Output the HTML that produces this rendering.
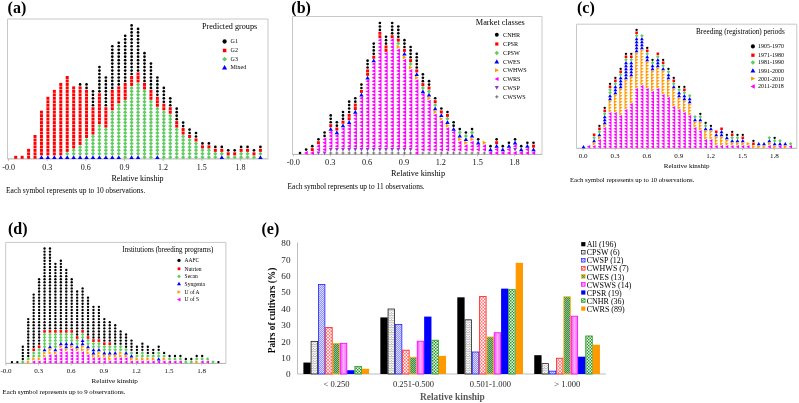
<!DOCTYPE html>
<html><head><meta charset="utf-8"><title>Relative kinship</title>
<style>html,body{margin:0;padding:0;background:#fff;} svg{display:block;will-change:transform;} text{font-family:"Liberation Serif", serif;}</style>
</head><body>
<svg width="799" height="403" viewBox="0 0 799 403" font-family='"Liberation Serif", serif'><rect width="799" height="403" fill="#fff"/><text x="7.6" y="13" font-size="16" text-anchor="start" font-weight="bold" fill="#000" >(a)</text><text x="291.3" y="13" font-size="16" text-anchor="start" font-weight="bold" fill="#000" >(b)</text><text x="577" y="13.2" font-size="16" text-anchor="start" font-weight="bold" fill="#000" >(c)</text><text x="8" y="234" font-size="16" text-anchor="start" font-weight="bold" fill="#000" >(d)</text><text x="261.5" y="234" font-size="16" text-anchor="start" font-weight="bold" fill="#000" >(e)</text><path d="M7.5 158.9V19H268V158.9" fill="none" stroke="#c8c8c8" stroke-width="1"/><path d="M7.5 158.9H268" fill="none" stroke="#b0b0b0" stroke-width="1"/><path d="M8.56 158.9v2" stroke="#b0b0b0" stroke-width="0.8"/><text x="8.56" y="170" font-size="8" text-anchor="middle" font-weight="normal" fill="#111" >-0.0</text><path d="M47.20 158.9v2" stroke="#b0b0b0" stroke-width="0.8"/><text x="47.20" y="170" font-size="8" text-anchor="middle" font-weight="normal" fill="#111" >0.3</text><path d="M85.84 158.9v2" stroke="#b0b0b0" stroke-width="0.8"/><text x="85.84" y="170" font-size="8" text-anchor="middle" font-weight="normal" fill="#111" >0.6</text><path d="M124.48 158.9v2" stroke="#b0b0b0" stroke-width="0.8"/><text x="124.48" y="170" font-size="8" text-anchor="middle" font-weight="normal" fill="#111" >0.9</text><path d="M163.12 158.9v2" stroke="#b0b0b0" stroke-width="0.8"/><text x="163.12" y="170" font-size="8" text-anchor="middle" font-weight="normal" fill="#111" >1.2</text><path d="M201.76 158.9v2" stroke="#b0b0b0" stroke-width="0.8"/><text x="201.76" y="170" font-size="8" text-anchor="middle" font-weight="normal" fill="#111" >1.5</text><path d="M240.40 158.9v2" stroke="#b0b0b0" stroke-width="0.8"/><text x="240.40" y="170" font-size="8" text-anchor="middle" font-weight="normal" fill="#111" >1.8</text><text x="137.5" y="181" font-size="8" text-anchor="middle" font-weight="normal" fill="#000" >Relative kinship</text><text x="6" y="193" font-size="7.5" text-anchor="start" font-weight="normal" fill="#000" >Each symbol represents up to 10 observations.</text><text x="229.6" y="29.3" font-size="8.2" text-anchor="middle" font-weight="normal" fill="#000" >Predicted groups</text><circle cx="224.60" cy="41.50" r="2.15" fill="#000000"/><text x="230.6" y="43.48" font-size="6" text-anchor="start" font-weight="normal" fill="#000" >G1</text><rect x="222.85" y="48.75" width="3.50" height="3.50" fill="#ff0000"/><text x="230.6" y="52.48" font-size="6" text-anchor="start" font-weight="normal" fill="#000" >G2</text><path d="M224.60 56.84L227.04 59.20L224.60 61.56L222.16 59.20Z" fill="#5fcc5f"/><text x="230.6" y="61.18" font-size="6" text-anchor="start" font-weight="normal" fill="#000" >G3</text><path d="M224.60 64.88L227.20 69.44L222.00 69.44Z" fill="#0000ff"/><text x="230.6" y="69.38000000000001" font-size="6" text-anchor="start" font-weight="normal" fill="#000" >Mixed</text><rect x="14.21" y="155.81" width="2.98" height="2.98" fill="#ff0000"/><rect x="20.65" y="155.81" width="2.98" height="2.98" fill="#ff0000"/><rect x="27.09" y="155.81" width="2.98" height="2.98" fill="#ff0000"/><rect x="27.09" y="152.34" width="2.98" height="2.98" fill="#ff0000"/><rect x="27.09" y="148.87" width="2.98" height="2.98" fill="#ff0000"/><rect x="33.53" y="155.81" width="2.98" height="2.98" fill="#ff0000"/><rect x="33.53" y="152.34" width="2.98" height="2.98" fill="#ff0000"/><rect x="33.53" y="148.87" width="2.98" height="2.98" fill="#ff0000"/><rect x="33.53" y="145.40" width="2.98" height="2.98" fill="#ff0000"/><rect x="33.53" y="141.93" width="2.98" height="2.98" fill="#ff0000"/><rect x="33.53" y="138.46" width="2.98" height="2.98" fill="#ff0000"/><rect x="33.53" y="134.99" width="2.98" height="2.98" fill="#ff0000"/><path d="M41.46 155.15L43.68 159.04L39.24 159.04Z" fill="#0000ff"/><rect x="39.97" y="152.34" width="2.98" height="2.98" fill="#ff0000"/><rect x="39.97" y="148.87" width="2.98" height="2.98" fill="#ff0000"/><rect x="39.97" y="145.40" width="2.98" height="2.98" fill="#ff0000"/><rect x="39.97" y="141.93" width="2.98" height="2.98" fill="#ff0000"/><rect x="39.97" y="138.46" width="2.98" height="2.98" fill="#ff0000"/><rect x="39.97" y="134.99" width="2.98" height="2.98" fill="#ff0000"/><rect x="39.97" y="131.52" width="2.98" height="2.98" fill="#ff0000"/><rect x="39.97" y="128.05" width="2.98" height="2.98" fill="#ff0000"/><rect x="39.97" y="124.58" width="2.98" height="2.98" fill="#ff0000"/><rect x="39.97" y="121.11" width="2.98" height="2.98" fill="#ff0000"/><rect x="39.97" y="117.64" width="2.98" height="2.98" fill="#ff0000"/><rect x="39.97" y="114.17" width="2.98" height="2.98" fill="#ff0000"/><rect x="39.97" y="110.70" width="2.98" height="2.98" fill="#ff0000"/><path d="M47.90 155.15L50.12 159.04L45.68 159.04Z" fill="#0000ff"/><rect x="46.41" y="152.34" width="2.98" height="2.98" fill="#ff0000"/><rect x="46.41" y="148.87" width="2.98" height="2.98" fill="#ff0000"/><rect x="46.41" y="145.40" width="2.98" height="2.98" fill="#ff0000"/><rect x="46.41" y="141.93" width="2.98" height="2.98" fill="#ff0000"/><rect x="46.41" y="138.46" width="2.98" height="2.98" fill="#ff0000"/><rect x="46.41" y="134.99" width="2.98" height="2.98" fill="#ff0000"/><rect x="46.41" y="131.52" width="2.98" height="2.98" fill="#ff0000"/><rect x="46.41" y="128.05" width="2.98" height="2.98" fill="#ff0000"/><rect x="46.41" y="124.58" width="2.98" height="2.98" fill="#ff0000"/><rect x="46.41" y="121.11" width="2.98" height="2.98" fill="#ff0000"/><rect x="46.41" y="117.64" width="2.98" height="2.98" fill="#ff0000"/><rect x="46.41" y="114.17" width="2.98" height="2.98" fill="#ff0000"/><rect x="46.41" y="110.70" width="2.98" height="2.98" fill="#ff0000"/><rect x="46.41" y="107.23" width="2.98" height="2.98" fill="#ff0000"/><rect x="46.41" y="103.76" width="2.98" height="2.98" fill="#ff0000"/><rect x="46.41" y="100.29" width="2.98" height="2.98" fill="#ff0000"/><rect x="46.41" y="96.82" width="2.98" height="2.98" fill="#ff0000"/><path d="M54.34 155.15L56.56 159.04L52.12 159.04Z" fill="#0000ff"/><rect x="52.85" y="152.34" width="2.98" height="2.98" fill="#ff0000"/><rect x="52.85" y="148.87" width="2.98" height="2.98" fill="#ff0000"/><rect x="52.85" y="145.40" width="2.98" height="2.98" fill="#ff0000"/><rect x="52.85" y="141.93" width="2.98" height="2.98" fill="#ff0000"/><rect x="52.85" y="138.46" width="2.98" height="2.98" fill="#ff0000"/><rect x="52.85" y="134.99" width="2.98" height="2.98" fill="#ff0000"/><rect x="52.85" y="131.52" width="2.98" height="2.98" fill="#ff0000"/><rect x="52.85" y="128.05" width="2.98" height="2.98" fill="#ff0000"/><rect x="52.85" y="124.58" width="2.98" height="2.98" fill="#ff0000"/><rect x="52.85" y="121.11" width="2.98" height="2.98" fill="#ff0000"/><rect x="52.85" y="117.64" width="2.98" height="2.98" fill="#ff0000"/><rect x="52.85" y="114.17" width="2.98" height="2.98" fill="#ff0000"/><rect x="52.85" y="110.70" width="2.98" height="2.98" fill="#ff0000"/><rect x="52.85" y="107.23" width="2.98" height="2.98" fill="#ff0000"/><rect x="52.85" y="103.76" width="2.98" height="2.98" fill="#ff0000"/><rect x="52.85" y="100.29" width="2.98" height="2.98" fill="#ff0000"/><rect x="52.85" y="96.82" width="2.98" height="2.98" fill="#ff0000"/><rect x="52.85" y="93.35" width="2.98" height="2.98" fill="#ff0000"/><rect x="52.85" y="89.88" width="2.98" height="2.98" fill="#ff0000"/><path d="M60.78 155.15L63.00 159.04L58.56 159.04Z" fill="#0000ff"/><rect x="59.29" y="152.34" width="2.98" height="2.98" fill="#ff0000"/><rect x="59.29" y="148.87" width="2.98" height="2.98" fill="#ff0000"/><rect x="59.29" y="145.40" width="2.98" height="2.98" fill="#ff0000"/><rect x="59.29" y="141.93" width="2.98" height="2.98" fill="#ff0000"/><rect x="59.29" y="138.46" width="2.98" height="2.98" fill="#ff0000"/><rect x="59.29" y="134.99" width="2.98" height="2.98" fill="#ff0000"/><rect x="59.29" y="131.52" width="2.98" height="2.98" fill="#ff0000"/><rect x="59.29" y="128.05" width="2.98" height="2.98" fill="#ff0000"/><rect x="59.29" y="124.58" width="2.98" height="2.98" fill="#ff0000"/><rect x="59.29" y="121.11" width="2.98" height="2.98" fill="#ff0000"/><rect x="59.29" y="117.64" width="2.98" height="2.98" fill="#ff0000"/><rect x="59.29" y="114.17" width="2.98" height="2.98" fill="#ff0000"/><rect x="59.29" y="110.70" width="2.98" height="2.98" fill="#ff0000"/><rect x="59.29" y="107.23" width="2.98" height="2.98" fill="#ff0000"/><rect x="59.29" y="103.76" width="2.98" height="2.98" fill="#ff0000"/><rect x="59.29" y="100.29" width="2.98" height="2.98" fill="#ff0000"/><rect x="59.29" y="96.82" width="2.98" height="2.98" fill="#ff0000"/><rect x="59.29" y="93.35" width="2.98" height="2.98" fill="#ff0000"/><rect x="59.29" y="89.88" width="2.98" height="2.98" fill="#ff0000"/><rect x="59.29" y="86.41" width="2.98" height="2.98" fill="#ff0000"/><rect x="59.29" y="82.94" width="2.98" height="2.98" fill="#ff0000"/><path d="M67.22 155.15L69.44 159.04L65.00 159.04Z" fill="#0000ff"/><path d="M67.22 151.82L69.30 153.83L67.22 155.84L65.14 153.83Z" fill="#5fcc5f"/><rect x="65.73" y="148.87" width="2.98" height="2.98" fill="#ff0000"/><rect x="65.73" y="145.40" width="2.98" height="2.98" fill="#ff0000"/><rect x="65.73" y="141.93" width="2.98" height="2.98" fill="#ff0000"/><rect x="65.73" y="138.46" width="2.98" height="2.98" fill="#ff0000"/><rect x="65.73" y="134.99" width="2.98" height="2.98" fill="#ff0000"/><rect x="65.73" y="131.52" width="2.98" height="2.98" fill="#ff0000"/><rect x="65.73" y="128.05" width="2.98" height="2.98" fill="#ff0000"/><rect x="65.73" y="124.58" width="2.98" height="2.98" fill="#ff0000"/><rect x="65.73" y="121.11" width="2.98" height="2.98" fill="#ff0000"/><rect x="65.73" y="117.64" width="2.98" height="2.98" fill="#ff0000"/><rect x="65.73" y="114.17" width="2.98" height="2.98" fill="#ff0000"/><rect x="65.73" y="110.70" width="2.98" height="2.98" fill="#ff0000"/><rect x="65.73" y="107.23" width="2.98" height="2.98" fill="#ff0000"/><rect x="65.73" y="103.76" width="2.98" height="2.98" fill="#ff0000"/><rect x="65.73" y="100.29" width="2.98" height="2.98" fill="#ff0000"/><rect x="65.73" y="96.82" width="2.98" height="2.98" fill="#ff0000"/><rect x="65.73" y="93.35" width="2.98" height="2.98" fill="#ff0000"/><rect x="65.73" y="89.88" width="2.98" height="2.98" fill="#ff0000"/><rect x="65.73" y="86.41" width="2.98" height="2.98" fill="#ff0000"/><rect x="65.73" y="82.94" width="2.98" height="2.98" fill="#ff0000"/><rect x="65.73" y="79.47" width="2.98" height="2.98" fill="#ff0000"/><rect x="65.73" y="76.00" width="2.98" height="2.98" fill="#ff0000"/><path d="M73.66 155.15L75.88 159.04L71.44 159.04Z" fill="#0000ff"/><path d="M73.66 151.82L75.74 153.83L73.66 155.84L71.58 153.83Z" fill="#5fcc5f"/><path d="M73.66 148.35L75.74 150.36L73.66 152.37L71.58 150.36Z" fill="#5fcc5f"/><rect x="72.17" y="145.40" width="2.98" height="2.98" fill="#ff0000"/><rect x="72.17" y="141.93" width="2.98" height="2.98" fill="#ff0000"/><rect x="72.17" y="138.46" width="2.98" height="2.98" fill="#ff0000"/><rect x="72.17" y="134.99" width="2.98" height="2.98" fill="#ff0000"/><rect x="72.17" y="131.52" width="2.98" height="2.98" fill="#ff0000"/><rect x="72.17" y="128.05" width="2.98" height="2.98" fill="#ff0000"/><rect x="72.17" y="124.58" width="2.98" height="2.98" fill="#ff0000"/><rect x="72.17" y="121.11" width="2.98" height="2.98" fill="#ff0000"/><rect x="72.17" y="117.64" width="2.98" height="2.98" fill="#ff0000"/><rect x="72.17" y="114.17" width="2.98" height="2.98" fill="#ff0000"/><rect x="72.17" y="110.70" width="2.98" height="2.98" fill="#ff0000"/><rect x="72.17" y="107.23" width="2.98" height="2.98" fill="#ff0000"/><rect x="72.17" y="103.76" width="2.98" height="2.98" fill="#ff0000"/><rect x="72.17" y="100.29" width="2.98" height="2.98" fill="#ff0000"/><rect x="72.17" y="96.82" width="2.98" height="2.98" fill="#ff0000"/><rect x="72.17" y="93.35" width="2.98" height="2.98" fill="#ff0000"/><rect x="72.17" y="89.88" width="2.98" height="2.98" fill="#ff0000"/><rect x="72.17" y="86.41" width="2.98" height="2.98" fill="#ff0000"/><path d="M80.10 155.15L82.32 159.04L77.88 159.04Z" fill="#0000ff"/><path d="M80.10 151.82L82.18 153.83L80.10 155.84L78.02 153.83Z" fill="#5fcc5f"/><path d="M80.10 148.35L82.18 150.36L80.10 152.37L78.02 150.36Z" fill="#5fcc5f"/><path d="M80.10 144.88L82.18 146.89L80.10 148.90L78.02 146.89Z" fill="#5fcc5f"/><rect x="78.61" y="141.93" width="2.98" height="2.98" fill="#ff0000"/><rect x="78.61" y="138.46" width="2.98" height="2.98" fill="#ff0000"/><rect x="78.61" y="134.99" width="2.98" height="2.98" fill="#ff0000"/><rect x="78.61" y="131.52" width="2.98" height="2.98" fill="#ff0000"/><rect x="78.61" y="128.05" width="2.98" height="2.98" fill="#ff0000"/><rect x="78.61" y="124.58" width="2.98" height="2.98" fill="#ff0000"/><rect x="78.61" y="121.11" width="2.98" height="2.98" fill="#ff0000"/><rect x="78.61" y="117.64" width="2.98" height="2.98" fill="#ff0000"/><rect x="78.61" y="114.17" width="2.98" height="2.98" fill="#ff0000"/><rect x="78.61" y="110.70" width="2.98" height="2.98" fill="#ff0000"/><rect x="78.61" y="107.23" width="2.98" height="2.98" fill="#ff0000"/><rect x="78.61" y="103.76" width="2.98" height="2.98" fill="#ff0000"/><rect x="78.61" y="100.29" width="2.98" height="2.98" fill="#ff0000"/><rect x="78.61" y="96.82" width="2.98" height="2.98" fill="#ff0000"/><rect x="78.61" y="93.35" width="2.98" height="2.98" fill="#ff0000"/><rect x="78.61" y="89.88" width="2.98" height="2.98" fill="#ff0000"/><rect x="78.61" y="86.41" width="2.98" height="2.98" fill="#ff0000"/><circle cx="80.10" cy="84.43" r="1.35" fill="#000000"/><path d="M86.54 155.15L88.76 159.04L84.32 159.04Z" fill="#0000ff"/><path d="M86.54 151.82L88.62 153.83L86.54 155.84L84.46 153.83Z" fill="#5fcc5f"/><path d="M86.54 148.35L88.62 150.36L86.54 152.37L84.46 150.36Z" fill="#5fcc5f"/><path d="M86.54 144.88L88.62 146.89L86.54 148.90L84.46 146.89Z" fill="#5fcc5f"/><path d="M86.54 141.41L88.62 143.42L86.54 145.43L84.46 143.42Z" fill="#5fcc5f"/><path d="M86.54 137.94L88.62 139.95L86.54 141.96L84.46 139.95Z" fill="#5fcc5f"/><rect x="85.05" y="134.99" width="2.98" height="2.98" fill="#ff0000"/><rect x="85.05" y="131.52" width="2.98" height="2.98" fill="#ff0000"/><rect x="85.05" y="128.05" width="2.98" height="2.98" fill="#ff0000"/><rect x="85.05" y="124.58" width="2.98" height="2.98" fill="#ff0000"/><rect x="85.05" y="121.11" width="2.98" height="2.98" fill="#ff0000"/><rect x="85.05" y="117.64" width="2.98" height="2.98" fill="#ff0000"/><rect x="85.05" y="114.17" width="2.98" height="2.98" fill="#ff0000"/><rect x="85.05" y="110.70" width="2.98" height="2.98" fill="#ff0000"/><rect x="85.05" y="107.23" width="2.98" height="2.98" fill="#ff0000"/><rect x="85.05" y="103.76" width="2.98" height="2.98" fill="#ff0000"/><rect x="85.05" y="100.29" width="2.98" height="2.98" fill="#ff0000"/><rect x="85.05" y="96.82" width="2.98" height="2.98" fill="#ff0000"/><rect x="85.05" y="93.35" width="2.98" height="2.98" fill="#ff0000"/><rect x="85.05" y="89.88" width="2.98" height="2.98" fill="#ff0000"/><circle cx="86.54" cy="87.90" r="1.35" fill="#000000"/><circle cx="86.54" cy="84.43" r="1.35" fill="#000000"/><path d="M92.98 155.15L95.20 159.04L90.76 159.04Z" fill="#0000ff"/><path d="M92.98 151.82L95.06 153.83L92.98 155.84L90.90 153.83Z" fill="#5fcc5f"/><path d="M92.98 148.35L95.06 150.36L92.98 152.37L90.90 150.36Z" fill="#5fcc5f"/><path d="M92.98 144.88L95.06 146.89L92.98 148.90L90.90 146.89Z" fill="#5fcc5f"/><path d="M92.98 141.41L95.06 143.42L92.98 145.43L90.90 143.42Z" fill="#5fcc5f"/><path d="M92.98 137.94L95.06 139.95L92.98 141.96L90.90 139.95Z" fill="#5fcc5f"/><path d="M92.98 134.47L95.06 136.48L92.98 138.49L90.90 136.48Z" fill="#5fcc5f"/><rect x="91.49" y="131.52" width="2.98" height="2.98" fill="#ff0000"/><rect x="91.49" y="128.05" width="2.98" height="2.98" fill="#ff0000"/><rect x="91.49" y="124.58" width="2.98" height="2.98" fill="#ff0000"/><rect x="91.49" y="121.11" width="2.98" height="2.98" fill="#ff0000"/><rect x="91.49" y="117.64" width="2.98" height="2.98" fill="#ff0000"/><rect x="91.49" y="114.17" width="2.98" height="2.98" fill="#ff0000"/><rect x="91.49" y="110.70" width="2.98" height="2.98" fill="#ff0000"/><rect x="91.49" y="107.23" width="2.98" height="2.98" fill="#ff0000"/><circle cx="92.98" cy="105.25" r="1.35" fill="#000000"/><circle cx="92.98" cy="101.78" r="1.35" fill="#000000"/><circle cx="92.98" cy="98.31" r="1.35" fill="#000000"/><circle cx="92.98" cy="94.84" r="1.35" fill="#000000"/><circle cx="92.98" cy="91.37" r="1.35" fill="#000000"/><path d="M99.42 155.15L101.64 159.04L97.20 159.04Z" fill="#0000ff"/><path d="M99.42 151.82L101.50 153.83L99.42 155.84L97.34 153.83Z" fill="#5fcc5f"/><path d="M99.42 148.35L101.50 150.36L99.42 152.37L97.34 150.36Z" fill="#5fcc5f"/><path d="M99.42 144.88L101.50 146.89L99.42 148.90L97.34 146.89Z" fill="#5fcc5f"/><path d="M99.42 141.41L101.50 143.42L99.42 145.43L97.34 143.42Z" fill="#5fcc5f"/><path d="M99.42 137.94L101.50 139.95L99.42 141.96L97.34 139.95Z" fill="#5fcc5f"/><path d="M99.42 134.47L101.50 136.48L99.42 138.49L97.34 136.48Z" fill="#5fcc5f"/><path d="M99.42 131.00L101.50 133.01L99.42 135.02L97.34 133.01Z" fill="#5fcc5f"/><path d="M99.42 127.53L101.50 129.54L99.42 131.55L97.34 129.54Z" fill="#5fcc5f"/><path d="M99.42 124.06L101.50 126.07L99.42 128.08L97.34 126.07Z" fill="#5fcc5f"/><rect x="97.93" y="121.11" width="2.98" height="2.98" fill="#ff0000"/><rect x="97.93" y="117.64" width="2.98" height="2.98" fill="#ff0000"/><rect x="97.93" y="114.17" width="2.98" height="2.98" fill="#ff0000"/><rect x="97.93" y="110.70" width="2.98" height="2.98" fill="#ff0000"/><rect x="97.93" y="107.23" width="2.98" height="2.98" fill="#ff0000"/><rect x="97.93" y="103.76" width="2.98" height="2.98" fill="#ff0000"/><rect x="97.93" y="100.29" width="2.98" height="2.98" fill="#ff0000"/><rect x="97.93" y="96.82" width="2.98" height="2.98" fill="#ff0000"/><rect x="97.93" y="93.35" width="2.98" height="2.98" fill="#ff0000"/><circle cx="99.42" cy="91.37" r="1.35" fill="#000000"/><circle cx="99.42" cy="87.90" r="1.35" fill="#000000"/><circle cx="99.42" cy="84.43" r="1.35" fill="#000000"/><circle cx="99.42" cy="80.96" r="1.35" fill="#000000"/><circle cx="99.42" cy="77.49" r="1.35" fill="#000000"/><circle cx="99.42" cy="74.02" r="1.35" fill="#000000"/><circle cx="99.42" cy="70.55" r="1.35" fill="#000000"/><circle cx="99.42" cy="67.08" r="1.35" fill="#000000"/><path d="M105.86 155.15L108.08 159.04L103.64 159.04Z" fill="#0000ff"/><path d="M105.86 151.82L107.94 153.83L105.86 155.84L103.78 153.83Z" fill="#5fcc5f"/><path d="M105.86 148.35L107.94 150.36L105.86 152.37L103.78 150.36Z" fill="#5fcc5f"/><path d="M105.86 144.88L107.94 146.89L105.86 148.90L103.78 146.89Z" fill="#5fcc5f"/><path d="M105.86 141.41L107.94 143.42L105.86 145.43L103.78 143.42Z" fill="#5fcc5f"/><path d="M105.86 137.94L107.94 139.95L105.86 141.96L103.78 139.95Z" fill="#5fcc5f"/><path d="M105.86 134.47L107.94 136.48L105.86 138.49L103.78 136.48Z" fill="#5fcc5f"/><path d="M105.86 131.00L107.94 133.01L105.86 135.02L103.78 133.01Z" fill="#5fcc5f"/><path d="M105.86 127.53L107.94 129.54L105.86 131.55L103.78 129.54Z" fill="#5fcc5f"/><rect x="104.37" y="124.58" width="2.98" height="2.98" fill="#ff0000"/><rect x="104.37" y="121.11" width="2.98" height="2.98" fill="#ff0000"/><rect x="104.37" y="117.64" width="2.98" height="2.98" fill="#ff0000"/><rect x="104.37" y="114.17" width="2.98" height="2.98" fill="#ff0000"/><rect x="104.37" y="110.70" width="2.98" height="2.98" fill="#ff0000"/><rect x="104.37" y="107.23" width="2.98" height="2.98" fill="#ff0000"/><circle cx="105.86" cy="105.25" r="1.35" fill="#000000"/><circle cx="105.86" cy="101.78" r="1.35" fill="#000000"/><circle cx="105.86" cy="98.31" r="1.35" fill="#000000"/><circle cx="105.86" cy="94.84" r="1.35" fill="#000000"/><circle cx="105.86" cy="91.37" r="1.35" fill="#000000"/><circle cx="105.86" cy="87.90" r="1.35" fill="#000000"/><circle cx="105.86" cy="84.43" r="1.35" fill="#000000"/><circle cx="105.86" cy="80.96" r="1.35" fill="#000000"/><circle cx="105.86" cy="77.49" r="1.35" fill="#000000"/><path d="M112.30 155.15L114.52 159.04L110.08 159.04Z" fill="#0000ff"/><path d="M112.30 151.82L114.38 153.83L112.30 155.84L110.22 153.83Z" fill="#5fcc5f"/><path d="M112.30 148.35L114.38 150.36L112.30 152.37L110.22 150.36Z" fill="#5fcc5f"/><path d="M112.30 144.88L114.38 146.89L112.30 148.90L110.22 146.89Z" fill="#5fcc5f"/><path d="M112.30 141.41L114.38 143.42L112.30 145.43L110.22 143.42Z" fill="#5fcc5f"/><path d="M112.30 137.94L114.38 139.95L112.30 141.96L110.22 139.95Z" fill="#5fcc5f"/><path d="M112.30 134.47L114.38 136.48L112.30 138.49L110.22 136.48Z" fill="#5fcc5f"/><path d="M112.30 131.00L114.38 133.01L112.30 135.02L110.22 133.01Z" fill="#5fcc5f"/><path d="M112.30 127.53L114.38 129.54L112.30 131.55L110.22 129.54Z" fill="#5fcc5f"/><path d="M112.30 124.06L114.38 126.07L112.30 128.08L110.22 126.07Z" fill="#5fcc5f"/><path d="M112.30 120.59L114.38 122.60L112.30 124.61L110.22 122.60Z" fill="#5fcc5f"/><path d="M112.30 117.12L114.38 119.13L112.30 121.14L110.22 119.13Z" fill="#5fcc5f"/><path d="M112.30 113.65L114.38 115.66L112.30 117.67L110.22 115.66Z" fill="#5fcc5f"/><path d="M112.30 110.18L114.38 112.19L112.30 114.20L110.22 112.19Z" fill="#5fcc5f"/><rect x="110.81" y="107.23" width="2.98" height="2.98" fill="#ff0000"/><rect x="110.81" y="103.76" width="2.98" height="2.98" fill="#ff0000"/><rect x="110.81" y="100.29" width="2.98" height="2.98" fill="#ff0000"/><rect x="110.81" y="96.82" width="2.98" height="2.98" fill="#ff0000"/><rect x="110.81" y="93.35" width="2.98" height="2.98" fill="#ff0000"/><rect x="110.81" y="89.88" width="2.98" height="2.98" fill="#ff0000"/><circle cx="112.30" cy="87.90" r="1.35" fill="#000000"/><circle cx="112.30" cy="84.43" r="1.35" fill="#000000"/><circle cx="112.30" cy="80.96" r="1.35" fill="#000000"/><circle cx="112.30" cy="77.49" r="1.35" fill="#000000"/><circle cx="112.30" cy="74.02" r="1.35" fill="#000000"/><circle cx="112.30" cy="70.55" r="1.35" fill="#000000"/><circle cx="112.30" cy="67.08" r="1.35" fill="#000000"/><circle cx="112.30" cy="63.61" r="1.35" fill="#000000"/><circle cx="112.30" cy="60.14" r="1.35" fill="#000000"/><circle cx="112.30" cy="56.67" r="1.35" fill="#000000"/><circle cx="112.30" cy="53.20" r="1.35" fill="#000000"/><circle cx="112.30" cy="49.73" r="1.35" fill="#000000"/><circle cx="112.30" cy="46.26" r="1.35" fill="#000000"/><path d="M118.74 155.15L120.96 159.04L116.52 159.04Z" fill="#0000ff"/><path d="M118.74 151.82L120.82 153.83L118.74 155.84L116.66 153.83Z" fill="#5fcc5f"/><path d="M118.74 148.35L120.82 150.36L118.74 152.37L116.66 150.36Z" fill="#5fcc5f"/><path d="M118.74 144.88L120.82 146.89L118.74 148.90L116.66 146.89Z" fill="#5fcc5f"/><path d="M118.74 141.41L120.82 143.42L118.74 145.43L116.66 143.42Z" fill="#5fcc5f"/><path d="M118.74 137.94L120.82 139.95L118.74 141.96L116.66 139.95Z" fill="#5fcc5f"/><path d="M118.74 134.47L120.82 136.48L118.74 138.49L116.66 136.48Z" fill="#5fcc5f"/><path d="M118.74 131.00L120.82 133.01L118.74 135.02L116.66 133.01Z" fill="#5fcc5f"/><path d="M118.74 127.53L120.82 129.54L118.74 131.55L116.66 129.54Z" fill="#5fcc5f"/><path d="M118.74 124.06L120.82 126.07L118.74 128.08L116.66 126.07Z" fill="#5fcc5f"/><path d="M118.74 120.59L120.82 122.60L118.74 124.61L116.66 122.60Z" fill="#5fcc5f"/><path d="M118.74 117.12L120.82 119.13L118.74 121.14L116.66 119.13Z" fill="#5fcc5f"/><path d="M118.74 113.65L120.82 115.66L118.74 117.67L116.66 115.66Z" fill="#5fcc5f"/><path d="M118.74 110.18L120.82 112.19L118.74 114.20L116.66 112.19Z" fill="#5fcc5f"/><path d="M118.74 106.71L120.82 108.72L118.74 110.73L116.66 108.72Z" fill="#5fcc5f"/><path d="M118.74 103.24L120.82 105.25L118.74 107.26L116.66 105.25Z" fill="#5fcc5f"/><rect x="117.25" y="100.29" width="2.98" height="2.98" fill="#ff0000"/><rect x="117.25" y="96.82" width="2.98" height="2.98" fill="#ff0000"/><rect x="117.25" y="93.35" width="2.98" height="2.98" fill="#ff0000"/><rect x="117.25" y="89.88" width="2.98" height="2.98" fill="#ff0000"/><rect x="117.25" y="86.41" width="2.98" height="2.98" fill="#ff0000"/><circle cx="118.74" cy="84.43" r="1.35" fill="#000000"/><circle cx="118.74" cy="80.96" r="1.35" fill="#000000"/><circle cx="118.74" cy="77.49" r="1.35" fill="#000000"/><circle cx="118.74" cy="74.02" r="1.35" fill="#000000"/><circle cx="118.74" cy="70.55" r="1.35" fill="#000000"/><circle cx="118.74" cy="67.08" r="1.35" fill="#000000"/><circle cx="118.74" cy="63.61" r="1.35" fill="#000000"/><circle cx="118.74" cy="60.14" r="1.35" fill="#000000"/><circle cx="118.74" cy="56.67" r="1.35" fill="#000000"/><circle cx="118.74" cy="53.20" r="1.35" fill="#000000"/><circle cx="118.74" cy="49.73" r="1.35" fill="#000000"/><circle cx="118.74" cy="46.26" r="1.35" fill="#000000"/><circle cx="118.74" cy="42.79" r="1.35" fill="#000000"/><path d="M125.18 155.29L127.26 157.30L125.18 159.31L123.10 157.30Z" fill="#5fcc5f"/><path d="M125.18 151.82L127.26 153.83L125.18 155.84L123.10 153.83Z" fill="#5fcc5f"/><path d="M125.18 148.35L127.26 150.36L125.18 152.37L123.10 150.36Z" fill="#5fcc5f"/><path d="M125.18 144.88L127.26 146.89L125.18 148.90L123.10 146.89Z" fill="#5fcc5f"/><path d="M125.18 141.41L127.26 143.42L125.18 145.43L123.10 143.42Z" fill="#5fcc5f"/><path d="M125.18 137.94L127.26 139.95L125.18 141.96L123.10 139.95Z" fill="#5fcc5f"/><path d="M125.18 134.47L127.26 136.48L125.18 138.49L123.10 136.48Z" fill="#5fcc5f"/><path d="M125.18 131.00L127.26 133.01L125.18 135.02L123.10 133.01Z" fill="#5fcc5f"/><path d="M125.18 127.53L127.26 129.54L125.18 131.55L123.10 129.54Z" fill="#5fcc5f"/><path d="M125.18 124.06L127.26 126.07L125.18 128.08L123.10 126.07Z" fill="#5fcc5f"/><path d="M125.18 120.59L127.26 122.60L125.18 124.61L123.10 122.60Z" fill="#5fcc5f"/><path d="M125.18 117.12L127.26 119.13L125.18 121.14L123.10 119.13Z" fill="#5fcc5f"/><path d="M125.18 113.65L127.26 115.66L125.18 117.67L123.10 115.66Z" fill="#5fcc5f"/><path d="M125.18 110.18L127.26 112.19L125.18 114.20L123.10 112.19Z" fill="#5fcc5f"/><path d="M125.18 106.71L127.26 108.72L125.18 110.73L123.10 108.72Z" fill="#5fcc5f"/><path d="M125.18 103.24L127.26 105.25L125.18 107.26L123.10 105.25Z" fill="#5fcc5f"/><path d="M125.18 99.77L127.26 101.78L125.18 103.79L123.10 101.78Z" fill="#5fcc5f"/><rect x="123.69" y="96.82" width="2.98" height="2.98" fill="#ff0000"/><rect x="123.69" y="93.35" width="2.98" height="2.98" fill="#ff0000"/><rect x="123.69" y="89.88" width="2.98" height="2.98" fill="#ff0000"/><rect x="123.69" y="86.41" width="2.98" height="2.98" fill="#ff0000"/><rect x="123.69" y="82.94" width="2.98" height="2.98" fill="#ff0000"/><circle cx="125.18" cy="80.96" r="1.35" fill="#000000"/><circle cx="125.18" cy="77.49" r="1.35" fill="#000000"/><circle cx="125.18" cy="74.02" r="1.35" fill="#000000"/><circle cx="125.18" cy="70.55" r="1.35" fill="#000000"/><circle cx="125.18" cy="67.08" r="1.35" fill="#000000"/><circle cx="125.18" cy="63.61" r="1.35" fill="#000000"/><circle cx="125.18" cy="60.14" r="1.35" fill="#000000"/><circle cx="125.18" cy="56.67" r="1.35" fill="#000000"/><circle cx="125.18" cy="53.20" r="1.35" fill="#000000"/><circle cx="125.18" cy="49.73" r="1.35" fill="#000000"/><circle cx="125.18" cy="46.26" r="1.35" fill="#000000"/><circle cx="125.18" cy="42.79" r="1.35" fill="#000000"/><circle cx="125.18" cy="39.32" r="1.35" fill="#000000"/><circle cx="125.18" cy="35.85" r="1.35" fill="#000000"/><path d="M131.62 155.15L133.84 159.04L129.40 159.04Z" fill="#0000ff"/><path d="M131.62 151.82L133.70 153.83L131.62 155.84L129.54 153.83Z" fill="#5fcc5f"/><path d="M131.62 148.35L133.70 150.36L131.62 152.37L129.54 150.36Z" fill="#5fcc5f"/><path d="M131.62 144.88L133.70 146.89L131.62 148.90L129.54 146.89Z" fill="#5fcc5f"/><path d="M131.62 141.41L133.70 143.42L131.62 145.43L129.54 143.42Z" fill="#5fcc5f"/><path d="M131.62 137.94L133.70 139.95L131.62 141.96L129.54 139.95Z" fill="#5fcc5f"/><path d="M131.62 134.47L133.70 136.48L131.62 138.49L129.54 136.48Z" fill="#5fcc5f"/><path d="M131.62 131.00L133.70 133.01L131.62 135.02L129.54 133.01Z" fill="#5fcc5f"/><path d="M131.62 127.53L133.70 129.54L131.62 131.55L129.54 129.54Z" fill="#5fcc5f"/><path d="M131.62 124.06L133.70 126.07L131.62 128.08L129.54 126.07Z" fill="#5fcc5f"/><path d="M131.62 120.59L133.70 122.60L131.62 124.61L129.54 122.60Z" fill="#5fcc5f"/><path d="M131.62 117.12L133.70 119.13L131.62 121.14L129.54 119.13Z" fill="#5fcc5f"/><path d="M131.62 113.65L133.70 115.66L131.62 117.67L129.54 115.66Z" fill="#5fcc5f"/><path d="M131.62 110.18L133.70 112.19L131.62 114.20L129.54 112.19Z" fill="#5fcc5f"/><path d="M131.62 106.71L133.70 108.72L131.62 110.73L129.54 108.72Z" fill="#5fcc5f"/><path d="M131.62 103.24L133.70 105.25L131.62 107.26L129.54 105.25Z" fill="#5fcc5f"/><path d="M131.62 99.77L133.70 101.78L131.62 103.79L129.54 101.78Z" fill="#5fcc5f"/><path d="M131.62 96.30L133.70 98.31L131.62 100.32L129.54 98.31Z" fill="#5fcc5f"/><path d="M131.62 92.83L133.70 94.84L131.62 96.85L129.54 94.84Z" fill="#5fcc5f"/><path d="M131.62 89.36L133.70 91.37L131.62 93.38L129.54 91.37Z" fill="#5fcc5f"/><path d="M131.62 85.89L133.70 87.90L131.62 89.91L129.54 87.90Z" fill="#5fcc5f"/><rect x="130.13" y="82.94" width="2.98" height="2.98" fill="#ff0000"/><rect x="130.13" y="79.47" width="2.98" height="2.98" fill="#ff0000"/><rect x="130.13" y="76.00" width="2.98" height="2.98" fill="#ff0000"/><circle cx="131.62" cy="74.02" r="1.35" fill="#000000"/><circle cx="131.62" cy="70.55" r="1.35" fill="#000000"/><circle cx="131.62" cy="67.08" r="1.35" fill="#000000"/><circle cx="131.62" cy="63.61" r="1.35" fill="#000000"/><circle cx="131.62" cy="60.14" r="1.35" fill="#000000"/><circle cx="131.62" cy="56.67" r="1.35" fill="#000000"/><circle cx="131.62" cy="53.20" r="1.35" fill="#000000"/><circle cx="131.62" cy="49.73" r="1.35" fill="#000000"/><circle cx="131.62" cy="46.26" r="1.35" fill="#000000"/><circle cx="131.62" cy="42.79" r="1.35" fill="#000000"/><circle cx="131.62" cy="39.32" r="1.35" fill="#000000"/><circle cx="131.62" cy="35.85" r="1.35" fill="#000000"/><circle cx="131.62" cy="32.38" r="1.35" fill="#000000"/><circle cx="131.62" cy="28.91" r="1.35" fill="#000000"/><circle cx="131.62" cy="25.44" r="1.35" fill="#000000"/><path d="M138.06 155.15L140.28 159.04L135.84 159.04Z" fill="#0000ff"/><path d="M138.06 151.82L140.14 153.83L138.06 155.84L135.98 153.83Z" fill="#5fcc5f"/><path d="M138.06 148.35L140.14 150.36L138.06 152.37L135.98 150.36Z" fill="#5fcc5f"/><path d="M138.06 144.88L140.14 146.89L138.06 148.90L135.98 146.89Z" fill="#5fcc5f"/><path d="M138.06 141.41L140.14 143.42L138.06 145.43L135.98 143.42Z" fill="#5fcc5f"/><path d="M138.06 137.94L140.14 139.95L138.06 141.96L135.98 139.95Z" fill="#5fcc5f"/><path d="M138.06 134.47L140.14 136.48L138.06 138.49L135.98 136.48Z" fill="#5fcc5f"/><path d="M138.06 131.00L140.14 133.01L138.06 135.02L135.98 133.01Z" fill="#5fcc5f"/><path d="M138.06 127.53L140.14 129.54L138.06 131.55L135.98 129.54Z" fill="#5fcc5f"/><path d="M138.06 124.06L140.14 126.07L138.06 128.08L135.98 126.07Z" fill="#5fcc5f"/><path d="M138.06 120.59L140.14 122.60L138.06 124.61L135.98 122.60Z" fill="#5fcc5f"/><path d="M138.06 117.12L140.14 119.13L138.06 121.14L135.98 119.13Z" fill="#5fcc5f"/><path d="M138.06 113.65L140.14 115.66L138.06 117.67L135.98 115.66Z" fill="#5fcc5f"/><path d="M138.06 110.18L140.14 112.19L138.06 114.20L135.98 112.19Z" fill="#5fcc5f"/><path d="M138.06 106.71L140.14 108.72L138.06 110.73L135.98 108.72Z" fill="#5fcc5f"/><path d="M138.06 103.24L140.14 105.25L138.06 107.26L135.98 105.25Z" fill="#5fcc5f"/><path d="M138.06 99.77L140.14 101.78L138.06 103.79L135.98 101.78Z" fill="#5fcc5f"/><path d="M138.06 96.30L140.14 98.31L138.06 100.32L135.98 98.31Z" fill="#5fcc5f"/><path d="M138.06 92.83L140.14 94.84L138.06 96.85L135.98 94.84Z" fill="#5fcc5f"/><path d="M138.06 89.36L140.14 91.37L138.06 93.38L135.98 91.37Z" fill="#5fcc5f"/><path d="M138.06 85.89L140.14 87.90L138.06 89.91L135.98 87.90Z" fill="#5fcc5f"/><path d="M138.06 82.42L140.14 84.43L138.06 86.44L135.98 84.43Z" fill="#5fcc5f"/><rect x="136.57" y="79.47" width="2.98" height="2.98" fill="#ff0000"/><rect x="136.57" y="76.00" width="2.98" height="2.98" fill="#ff0000"/><rect x="136.57" y="72.53" width="2.98" height="2.98" fill="#ff0000"/><circle cx="138.06" cy="70.55" r="1.35" fill="#000000"/><circle cx="138.06" cy="67.08" r="1.35" fill="#000000"/><circle cx="138.06" cy="63.61" r="1.35" fill="#000000"/><circle cx="138.06" cy="60.14" r="1.35" fill="#000000"/><circle cx="138.06" cy="56.67" r="1.35" fill="#000000"/><circle cx="138.06" cy="53.20" r="1.35" fill="#000000"/><circle cx="138.06" cy="49.73" r="1.35" fill="#000000"/><circle cx="138.06" cy="46.26" r="1.35" fill="#000000"/><circle cx="138.06" cy="42.79" r="1.35" fill="#000000"/><circle cx="138.06" cy="39.32" r="1.35" fill="#000000"/><circle cx="138.06" cy="35.85" r="1.35" fill="#000000"/><circle cx="138.06" cy="32.38" r="1.35" fill="#000000"/><circle cx="138.06" cy="28.91" r="1.35" fill="#000000"/><path d="M144.50 155.29L146.58 157.30L144.50 159.31L142.42 157.30Z" fill="#5fcc5f"/><path d="M144.50 151.82L146.58 153.83L144.50 155.84L142.42 153.83Z" fill="#5fcc5f"/><path d="M144.50 148.35L146.58 150.36L144.50 152.37L142.42 150.36Z" fill="#5fcc5f"/><path d="M144.50 144.88L146.58 146.89L144.50 148.90L142.42 146.89Z" fill="#5fcc5f"/><path d="M144.50 141.41L146.58 143.42L144.50 145.43L142.42 143.42Z" fill="#5fcc5f"/><path d="M144.50 137.94L146.58 139.95L144.50 141.96L142.42 139.95Z" fill="#5fcc5f"/><path d="M144.50 134.47L146.58 136.48L144.50 138.49L142.42 136.48Z" fill="#5fcc5f"/><path d="M144.50 131.00L146.58 133.01L144.50 135.02L142.42 133.01Z" fill="#5fcc5f"/><path d="M144.50 127.53L146.58 129.54L144.50 131.55L142.42 129.54Z" fill="#5fcc5f"/><path d="M144.50 124.06L146.58 126.07L144.50 128.08L142.42 126.07Z" fill="#5fcc5f"/><path d="M144.50 120.59L146.58 122.60L144.50 124.61L142.42 122.60Z" fill="#5fcc5f"/><path d="M144.50 117.12L146.58 119.13L144.50 121.14L142.42 119.13Z" fill="#5fcc5f"/><path d="M144.50 113.65L146.58 115.66L144.50 117.67L142.42 115.66Z" fill="#5fcc5f"/><path d="M144.50 110.18L146.58 112.19L144.50 114.20L142.42 112.19Z" fill="#5fcc5f"/><path d="M144.50 106.71L146.58 108.72L144.50 110.73L142.42 108.72Z" fill="#5fcc5f"/><path d="M144.50 103.24L146.58 105.25L144.50 107.26L142.42 105.25Z" fill="#5fcc5f"/><path d="M144.50 99.77L146.58 101.78L144.50 103.79L142.42 101.78Z" fill="#5fcc5f"/><path d="M144.50 96.30L146.58 98.31L144.50 100.32L142.42 98.31Z" fill="#5fcc5f"/><path d="M144.50 92.83L146.58 94.84L144.50 96.85L142.42 94.84Z" fill="#5fcc5f"/><path d="M144.50 89.36L146.58 91.37L144.50 93.38L142.42 91.37Z" fill="#5fcc5f"/><rect x="143.01" y="86.41" width="2.98" height="2.98" fill="#ff0000"/><rect x="143.01" y="82.94" width="2.98" height="2.98" fill="#ff0000"/><circle cx="144.50" cy="80.96" r="1.35" fill="#000000"/><circle cx="144.50" cy="77.49" r="1.35" fill="#000000"/><circle cx="144.50" cy="74.02" r="1.35" fill="#000000"/><circle cx="144.50" cy="70.55" r="1.35" fill="#000000"/><circle cx="144.50" cy="67.08" r="1.35" fill="#000000"/><circle cx="144.50" cy="63.61" r="1.35" fill="#000000"/><circle cx="144.50" cy="60.14" r="1.35" fill="#000000"/><circle cx="144.50" cy="56.67" r="1.35" fill="#000000"/><circle cx="144.50" cy="53.20" r="1.35" fill="#000000"/><path d="M150.94 155.29L153.02 157.30L150.94 159.31L148.86 157.30Z" fill="#5fcc5f"/><path d="M150.94 151.82L153.02 153.83L150.94 155.84L148.86 153.83Z" fill="#5fcc5f"/><path d="M150.94 148.35L153.02 150.36L150.94 152.37L148.86 150.36Z" fill="#5fcc5f"/><path d="M150.94 144.88L153.02 146.89L150.94 148.90L148.86 146.89Z" fill="#5fcc5f"/><path d="M150.94 141.41L153.02 143.42L150.94 145.43L148.86 143.42Z" fill="#5fcc5f"/><path d="M150.94 137.94L153.02 139.95L150.94 141.96L148.86 139.95Z" fill="#5fcc5f"/><path d="M150.94 134.47L153.02 136.48L150.94 138.49L148.86 136.48Z" fill="#5fcc5f"/><path d="M150.94 131.00L153.02 133.01L150.94 135.02L148.86 133.01Z" fill="#5fcc5f"/><path d="M150.94 127.53L153.02 129.54L150.94 131.55L148.86 129.54Z" fill="#5fcc5f"/><path d="M150.94 124.06L153.02 126.07L150.94 128.08L148.86 126.07Z" fill="#5fcc5f"/><path d="M150.94 120.59L153.02 122.60L150.94 124.61L148.86 122.60Z" fill="#5fcc5f"/><path d="M150.94 117.12L153.02 119.13L150.94 121.14L148.86 119.13Z" fill="#5fcc5f"/><path d="M150.94 113.65L153.02 115.66L150.94 117.67L148.86 115.66Z" fill="#5fcc5f"/><path d="M150.94 110.18L153.02 112.19L150.94 114.20L148.86 112.19Z" fill="#5fcc5f"/><path d="M150.94 106.71L153.02 108.72L150.94 110.73L148.86 108.72Z" fill="#5fcc5f"/><path d="M150.94 103.24L153.02 105.25L150.94 107.26L148.86 105.25Z" fill="#5fcc5f"/><path d="M150.94 99.77L153.02 101.78L150.94 103.79L148.86 101.78Z" fill="#5fcc5f"/><rect x="149.45" y="96.82" width="2.98" height="2.98" fill="#ff0000"/><rect x="149.45" y="93.35" width="2.98" height="2.98" fill="#ff0000"/><rect x="149.45" y="89.88" width="2.98" height="2.98" fill="#ff0000"/><circle cx="150.94" cy="87.90" r="1.35" fill="#000000"/><circle cx="150.94" cy="84.43" r="1.35" fill="#000000"/><circle cx="150.94" cy="80.96" r="1.35" fill="#000000"/><circle cx="150.94" cy="77.49" r="1.35" fill="#000000"/><circle cx="150.94" cy="74.02" r="1.35" fill="#000000"/><circle cx="150.94" cy="70.55" r="1.35" fill="#000000"/><circle cx="150.94" cy="67.08" r="1.35" fill="#000000"/><circle cx="150.94" cy="63.61" r="1.35" fill="#000000"/><path d="M157.38 155.15L159.60 159.04L155.16 159.04Z" fill="#0000ff"/><path d="M157.38 151.82L159.46 153.83L157.38 155.84L155.30 153.83Z" fill="#5fcc5f"/><path d="M157.38 148.35L159.46 150.36L157.38 152.37L155.30 150.36Z" fill="#5fcc5f"/><path d="M157.38 144.88L159.46 146.89L157.38 148.90L155.30 146.89Z" fill="#5fcc5f"/><path d="M157.38 141.41L159.46 143.42L157.38 145.43L155.30 143.42Z" fill="#5fcc5f"/><path d="M157.38 137.94L159.46 139.95L157.38 141.96L155.30 139.95Z" fill="#5fcc5f"/><path d="M157.38 134.47L159.46 136.48L157.38 138.49L155.30 136.48Z" fill="#5fcc5f"/><path d="M157.38 131.00L159.46 133.01L157.38 135.02L155.30 133.01Z" fill="#5fcc5f"/><path d="M157.38 127.53L159.46 129.54L157.38 131.55L155.30 129.54Z" fill="#5fcc5f"/><path d="M157.38 124.06L159.46 126.07L157.38 128.08L155.30 126.07Z" fill="#5fcc5f"/><path d="M157.38 120.59L159.46 122.60L157.38 124.61L155.30 122.60Z" fill="#5fcc5f"/><path d="M157.38 117.12L159.46 119.13L157.38 121.14L155.30 119.13Z" fill="#5fcc5f"/><path d="M157.38 113.65L159.46 115.66L157.38 117.67L155.30 115.66Z" fill="#5fcc5f"/><path d="M157.38 110.18L159.46 112.19L157.38 114.20L155.30 112.19Z" fill="#5fcc5f"/><path d="M157.38 106.71L159.46 108.72L157.38 110.73L155.30 108.72Z" fill="#5fcc5f"/><rect x="155.89" y="103.76" width="2.98" height="2.98" fill="#ff0000"/><rect x="155.89" y="100.29" width="2.98" height="2.98" fill="#ff0000"/><rect x="155.89" y="96.82" width="2.98" height="2.98" fill="#ff0000"/><circle cx="157.38" cy="94.84" r="1.35" fill="#000000"/><circle cx="157.38" cy="91.37" r="1.35" fill="#000000"/><circle cx="157.38" cy="87.90" r="1.35" fill="#000000"/><circle cx="157.38" cy="84.43" r="1.35" fill="#000000"/><circle cx="157.38" cy="80.96" r="1.35" fill="#000000"/><circle cx="157.38" cy="77.49" r="1.35" fill="#000000"/><path d="M163.82 155.29L165.90 157.30L163.82 159.31L161.74 157.30Z" fill="#5fcc5f"/><path d="M163.82 151.82L165.90 153.83L163.82 155.84L161.74 153.83Z" fill="#5fcc5f"/><path d="M163.82 148.35L165.90 150.36L163.82 152.37L161.74 150.36Z" fill="#5fcc5f"/><path d="M163.82 144.88L165.90 146.89L163.82 148.90L161.74 146.89Z" fill="#5fcc5f"/><path d="M163.82 141.41L165.90 143.42L163.82 145.43L161.74 143.42Z" fill="#5fcc5f"/><path d="M163.82 137.94L165.90 139.95L163.82 141.96L161.74 139.95Z" fill="#5fcc5f"/><path d="M163.82 134.47L165.90 136.48L163.82 138.49L161.74 136.48Z" fill="#5fcc5f"/><path d="M163.82 131.00L165.90 133.01L163.82 135.02L161.74 133.01Z" fill="#5fcc5f"/><path d="M163.82 127.53L165.90 129.54L163.82 131.55L161.74 129.54Z" fill="#5fcc5f"/><path d="M163.82 124.06L165.90 126.07L163.82 128.08L161.74 126.07Z" fill="#5fcc5f"/><path d="M163.82 120.59L165.90 122.60L163.82 124.61L161.74 122.60Z" fill="#5fcc5f"/><path d="M163.82 117.12L165.90 119.13L163.82 121.14L161.74 119.13Z" fill="#5fcc5f"/><path d="M163.82 113.65L165.90 115.66L163.82 117.67L161.74 115.66Z" fill="#5fcc5f"/><path d="M163.82 110.18L165.90 112.19L163.82 114.20L161.74 112.19Z" fill="#5fcc5f"/><rect x="162.33" y="107.23" width="2.98" height="2.98" fill="#ff0000"/><rect x="162.33" y="103.76" width="2.98" height="2.98" fill="#ff0000"/><circle cx="163.82" cy="101.78" r="1.35" fill="#000000"/><circle cx="163.82" cy="98.31" r="1.35" fill="#000000"/><circle cx="163.82" cy="94.84" r="1.35" fill="#000000"/><circle cx="163.82" cy="91.37" r="1.35" fill="#000000"/><circle cx="163.82" cy="87.90" r="1.35" fill="#000000"/><path d="M170.26 155.29L172.34 157.30L170.26 159.31L168.18 157.30Z" fill="#5fcc5f"/><path d="M170.26 151.82L172.34 153.83L170.26 155.84L168.18 153.83Z" fill="#5fcc5f"/><path d="M170.26 148.35L172.34 150.36L170.26 152.37L168.18 150.36Z" fill="#5fcc5f"/><path d="M170.26 144.88L172.34 146.89L170.26 148.90L168.18 146.89Z" fill="#5fcc5f"/><path d="M170.26 141.41L172.34 143.42L170.26 145.43L168.18 143.42Z" fill="#5fcc5f"/><path d="M170.26 137.94L172.34 139.95L170.26 141.96L168.18 139.95Z" fill="#5fcc5f"/><path d="M170.26 134.47L172.34 136.48L170.26 138.49L168.18 136.48Z" fill="#5fcc5f"/><path d="M170.26 131.00L172.34 133.01L170.26 135.02L168.18 133.01Z" fill="#5fcc5f"/><path d="M170.26 127.53L172.34 129.54L170.26 131.55L168.18 129.54Z" fill="#5fcc5f"/><path d="M170.26 124.06L172.34 126.07L170.26 128.08L168.18 126.07Z" fill="#5fcc5f"/><path d="M170.26 120.59L172.34 122.60L170.26 124.61L168.18 122.60Z" fill="#5fcc5f"/><path d="M170.26 117.12L172.34 119.13L170.26 121.14L168.18 119.13Z" fill="#5fcc5f"/><path d="M170.26 113.65L172.34 115.66L170.26 117.67L168.18 115.66Z" fill="#5fcc5f"/><rect x="168.77" y="110.70" width="2.98" height="2.98" fill="#ff0000"/><rect x="168.77" y="107.23" width="2.98" height="2.98" fill="#ff0000"/><circle cx="170.26" cy="105.25" r="1.35" fill="#000000"/><circle cx="170.26" cy="101.78" r="1.35" fill="#000000"/><circle cx="170.26" cy="98.31" r="1.35" fill="#000000"/><path d="M176.70 155.29L178.78 157.30L176.70 159.31L174.62 157.30Z" fill="#5fcc5f"/><path d="M176.70 151.82L178.78 153.83L176.70 155.84L174.62 153.83Z" fill="#5fcc5f"/><path d="M176.70 148.35L178.78 150.36L176.70 152.37L174.62 150.36Z" fill="#5fcc5f"/><path d="M176.70 144.88L178.78 146.89L176.70 148.90L174.62 146.89Z" fill="#5fcc5f"/><path d="M176.70 141.41L178.78 143.42L176.70 145.43L174.62 143.42Z" fill="#5fcc5f"/><path d="M176.70 137.94L178.78 139.95L176.70 141.96L174.62 139.95Z" fill="#5fcc5f"/><path d="M176.70 134.47L178.78 136.48L176.70 138.49L174.62 136.48Z" fill="#5fcc5f"/><path d="M176.70 131.00L178.78 133.01L176.70 135.02L174.62 133.01Z" fill="#5fcc5f"/><path d="M176.70 127.53L178.78 129.54L176.70 131.55L174.62 129.54Z" fill="#5fcc5f"/><rect x="175.21" y="124.58" width="2.98" height="2.98" fill="#ff0000"/><rect x="175.21" y="121.11" width="2.98" height="2.98" fill="#ff0000"/><circle cx="176.70" cy="119.13" r="1.35" fill="#000000"/><circle cx="176.70" cy="115.66" r="1.35" fill="#000000"/><circle cx="176.70" cy="112.19" r="1.35" fill="#000000"/><circle cx="176.70" cy="108.72" r="1.35" fill="#000000"/><path d="M183.14 155.29L185.22 157.30L183.14 159.31L181.06 157.30Z" fill="#5fcc5f"/><path d="M183.14 151.82L185.22 153.83L183.14 155.84L181.06 153.83Z" fill="#5fcc5f"/><path d="M183.14 148.35L185.22 150.36L183.14 152.37L181.06 150.36Z" fill="#5fcc5f"/><path d="M183.14 144.88L185.22 146.89L183.14 148.90L181.06 146.89Z" fill="#5fcc5f"/><path d="M183.14 141.41L185.22 143.42L183.14 145.43L181.06 143.42Z" fill="#5fcc5f"/><path d="M183.14 137.94L185.22 139.95L183.14 141.96L181.06 139.95Z" fill="#5fcc5f"/><path d="M183.14 134.47L185.22 136.48L183.14 138.49L181.06 136.48Z" fill="#5fcc5f"/><rect x="181.65" y="131.52" width="2.98" height="2.98" fill="#ff0000"/><rect x="181.65" y="128.05" width="2.98" height="2.98" fill="#ff0000"/><circle cx="183.14" cy="126.07" r="1.35" fill="#000000"/><circle cx="183.14" cy="122.60" r="1.35" fill="#000000"/><path d="M189.58 155.29L191.66 157.30L189.58 159.31L187.50 157.30Z" fill="#5fcc5f"/><path d="M189.58 151.82L191.66 153.83L189.58 155.84L187.50 153.83Z" fill="#5fcc5f"/><path d="M189.58 148.35L191.66 150.36L189.58 152.37L187.50 150.36Z" fill="#5fcc5f"/><path d="M189.58 144.88L191.66 146.89L189.58 148.90L187.50 146.89Z" fill="#5fcc5f"/><path d="M189.58 141.41L191.66 143.42L189.58 145.43L187.50 143.42Z" fill="#5fcc5f"/><path d="M189.58 137.94L191.66 139.95L189.58 141.96L187.50 139.95Z" fill="#5fcc5f"/><rect x="188.09" y="134.99" width="2.98" height="2.98" fill="#ff0000"/><circle cx="189.58" cy="133.01" r="1.35" fill="#000000"/><circle cx="189.58" cy="129.54" r="1.35" fill="#000000"/><path d="M196.02 155.29L198.10 157.30L196.02 159.31L193.94 157.30Z" fill="#5fcc5f"/><path d="M196.02 151.82L198.10 153.83L196.02 155.84L193.94 153.83Z" fill="#5fcc5f"/><path d="M196.02 148.35L198.10 150.36L196.02 152.37L193.94 150.36Z" fill="#5fcc5f"/><path d="M196.02 144.88L198.10 146.89L196.02 148.90L193.94 146.89Z" fill="#5fcc5f"/><path d="M196.02 141.41L198.10 143.42L196.02 145.43L193.94 143.42Z" fill="#5fcc5f"/><rect x="194.53" y="138.46" width="2.98" height="2.98" fill="#ff0000"/><circle cx="196.02" cy="136.48" r="1.35" fill="#000000"/><circle cx="196.02" cy="133.01" r="1.35" fill="#000000"/><path d="M202.46 155.29L204.54 157.30L202.46 159.31L200.38 157.30Z" fill="#5fcc5f"/><path d="M202.46 151.82L204.54 153.83L202.46 155.84L200.38 153.83Z" fill="#5fcc5f"/><path d="M202.46 148.35L204.54 150.36L202.46 152.37L200.38 150.36Z" fill="#5fcc5f"/><rect x="200.97" y="145.40" width="2.98" height="2.98" fill="#ff0000"/><circle cx="202.46" cy="143.42" r="1.35" fill="#000000"/><path d="M208.90 155.29L210.98 157.30L208.90 159.31L206.82 157.30Z" fill="#5fcc5f"/><path d="M208.90 151.82L210.98 153.83L208.90 155.84L206.82 153.83Z" fill="#5fcc5f"/><path d="M208.90 148.35L210.98 150.36L208.90 152.37L206.82 150.36Z" fill="#5fcc5f"/><rect x="207.41" y="145.40" width="2.98" height="2.98" fill="#ff0000"/><circle cx="208.90" cy="143.42" r="1.35" fill="#000000"/><path d="M215.34 155.29L217.42 157.30L215.34 159.31L213.26 157.30Z" fill="#5fcc5f"/><path d="M215.34 151.82L217.42 153.83L215.34 155.84L213.26 153.83Z" fill="#5fcc5f"/><rect x="213.85" y="148.87" width="2.98" height="2.98" fill="#ff0000"/><circle cx="215.34" cy="146.89" r="1.35" fill="#000000"/><path d="M221.78 155.15L224.00 159.04L219.56 159.04Z" fill="#0000ff"/><path d="M221.78 151.82L223.86 153.83L221.78 155.84L219.70 153.83Z" fill="#5fcc5f"/><rect x="220.29" y="148.87" width="2.98" height="2.98" fill="#ff0000"/><circle cx="221.78" cy="146.89" r="1.35" fill="#000000"/><path d="M228.22 155.29L230.30 157.30L228.22 159.31L226.14 157.30Z" fill="#5fcc5f"/><rect x="226.73" y="152.34" width="2.98" height="2.98" fill="#ff0000"/><circle cx="228.22" cy="150.36" r="1.35" fill="#000000"/><path d="M234.66 155.29L236.74 157.30L234.66 159.31L232.58 157.30Z" fill="#5fcc5f"/><rect x="233.17" y="152.34" width="2.98" height="2.98" fill="#ff0000"/><circle cx="234.66" cy="150.36" r="1.35" fill="#000000"/><path d="M241.10 155.29L243.18 157.30L241.10 159.31L239.02 157.30Z" fill="#5fcc5f"/><path d="M241.10 151.82L243.18 153.83L241.10 155.84L239.02 153.83Z" fill="#5fcc5f"/><rect x="239.61" y="148.87" width="2.98" height="2.98" fill="#ff0000"/><circle cx="241.10" cy="146.89" r="1.35" fill="#000000"/><path d="M247.54 155.29L249.62 157.30L247.54 159.31L245.46 157.30Z" fill="#5fcc5f"/><path d="M247.54 151.82L249.62 153.83L247.54 155.84L245.46 153.83Z" fill="#5fcc5f"/><rect x="246.05" y="148.87" width="2.98" height="2.98" fill="#ff0000"/><circle cx="247.54" cy="146.89" r="1.35" fill="#000000"/><path d="M253.98 155.29L256.06 157.30L253.98 159.31L251.90 157.30Z" fill="#5fcc5f"/><rect x="252.49" y="152.34" width="2.98" height="2.98" fill="#ff0000"/><circle cx="253.98" cy="150.36" r="1.35" fill="#000000"/><path d="M260.42 155.15L262.64 159.04L258.20 159.04Z" fill="#0000ff"/><path d="M260.42 151.82L262.50 153.83L260.42 155.84L258.34 153.83Z" fill="#5fcc5f"/><rect x="258.93" y="148.87" width="2.98" height="2.98" fill="#ff0000"/><circle cx="260.42" cy="146.89" r="1.35" fill="#000000"/><path d="M292.5 154.4V16.5H542V154.4" fill="none" stroke="#c8c8c8" stroke-width="1"/><path d="M292.5 154.4H542" fill="none" stroke="#b0b0b0" stroke-width="1"/><path d="M293.35 154.4v2" stroke="#b0b0b0" stroke-width="0.8"/><text x="293.35" y="165.3" font-size="8.3" text-anchor="middle" font-weight="normal" fill="#111" >-0.0</text><path d="M330.22 154.4v2" stroke="#b0b0b0" stroke-width="0.8"/><text x="330.22" y="165.3" font-size="8.3" text-anchor="middle" font-weight="normal" fill="#111" >0.3</text><path d="M367.09 154.4v2" stroke="#b0b0b0" stroke-width="0.8"/><text x="367.09" y="165.3" font-size="8.3" text-anchor="middle" font-weight="normal" fill="#111" >0.6</text><path d="M403.96 154.4v2" stroke="#b0b0b0" stroke-width="0.8"/><text x="403.96" y="165.3" font-size="8.3" text-anchor="middle" font-weight="normal" fill="#111" >0.9</text><path d="M440.83 154.4v2" stroke="#b0b0b0" stroke-width="0.8"/><text x="440.83" y="165.3" font-size="8.3" text-anchor="middle" font-weight="normal" fill="#111" >1.2</text><path d="M477.70 154.4v2" stroke="#b0b0b0" stroke-width="0.8"/><text x="477.70" y="165.3" font-size="8.3" text-anchor="middle" font-weight="normal" fill="#111" >1.5</text><path d="M514.57 154.4v2" stroke="#b0b0b0" stroke-width="0.8"/><text x="514.57" y="165.3" font-size="8.3" text-anchor="middle" font-weight="normal" fill="#111" >1.8</text><text x="418" y="176.4" font-size="8.3" text-anchor="middle" font-weight="normal" fill="#000" >Relative kinship</text><text x="287.6" y="189.3" font-size="7.4" text-anchor="start" font-weight="normal" fill="#000" >Each symbol represents up to 11 observations.</text><text x="500.3" y="25.2" font-size="8.3" text-anchor="middle" font-weight="normal" fill="#000" >Market classes</text><circle cx="496.80" cy="34.80" r="1.95" fill="#000000"/><text x="503" y="36.846" font-size="6.2" text-anchor="start" font-weight="normal" fill="#000" >CNHR</text><rect x="495.21" y="42.41" width="3.18" height="3.18" fill="#ff0000"/><text x="503" y="46.046" font-size="6.2" text-anchor="start" font-weight="normal" fill="#000" >CPSR</text><path d="M496.80 50.85L499.02 53.00L496.80 55.15L494.58 53.00Z" fill="#5fcc5f"/><text x="503" y="55.046" font-size="6.2" text-anchor="start" font-weight="normal" fill="#000" >CPSW</text><path d="M496.80 59.31L499.17 63.45L494.43 63.45Z" fill="#0000ff"/><text x="503" y="63.646" font-size="6.2" text-anchor="start" font-weight="normal" fill="#000" >CWES</text><path d="M499.09 70.30L495.02 68.23L495.02 72.37Z" fill="#ff9900"/><text x="503" y="72.346" font-size="6.2" text-anchor="start" font-weight="normal" fill="#000" >CWHWS</text><path d="M494.51 79.00L498.58 76.93L498.58 81.07Z" fill="#ff00ff"/><text x="503" y="81.046" font-size="6.2" text-anchor="start" font-weight="normal" fill="#000" >CWRS</text><path d="M496.80 89.85L498.84 86.03L494.76 86.03Z" fill="#9933cc"/><text x="503" y="89.74600000000001" font-size="6.2" text-anchor="start" font-weight="normal" fill="#000" >CWSP</text><path d="M495.13 96.80H498.47M496.80 95.13V98.47" stroke="#222222" stroke-width="0.59" fill="none"/><text x="503" y="98.846" font-size="6.2" text-anchor="start" font-weight="normal" fill="#000" >CWSWS</text><circle cx="300.00" cy="153.00" r="1.33" fill="#000000"/><path d="M304.02 153.00L307.78 151.08L307.78 154.92Z" fill="#ff00ff"/><circle cx="306.14" cy="149.58" r="1.33" fill="#000000"/><path d="M310.16 153.00L313.93 151.08L313.93 154.92Z" fill="#ff00ff"/><rect x="310.81" y="148.11" width="2.94" height="2.94" fill="#ff0000"/><circle cx="312.29" cy="146.16" r="1.33" fill="#000000"/><path d="M318.43 154.98L320.31 151.46L316.55 151.46Z" fill="#9933cc"/><path d="M316.31 149.58L320.07 147.66L320.07 151.50Z" fill="#ff00ff"/><path d="M316.31 146.16L320.07 144.24L320.07 148.08Z" fill="#ff00ff"/><rect x="316.96" y="141.27" width="2.94" height="2.94" fill="#ff0000"/><circle cx="318.43" cy="139.32" r="1.33" fill="#000000"/><path d="M324.58 154.98L326.46 151.46L322.69 151.46Z" fill="#9933cc"/><path d="M322.45 149.58L326.22 147.66L326.22 151.50Z" fill="#ff00ff"/><path d="M322.45 146.16L326.22 144.24L326.22 148.08Z" fill="#ff00ff"/><path d="M322.45 142.74L326.22 140.82L326.22 144.66Z" fill="#ff00ff"/><path d="M322.45 139.32L326.22 137.40L326.22 141.24Z" fill="#ff00ff"/><circle cx="324.58" cy="135.90" r="1.33" fill="#000000"/><circle cx="324.58" cy="132.48" r="1.33" fill="#000000"/><path d="M329.18 153.00H332.26M330.72 151.46V154.54" stroke="#222222" stroke-width="0.55" fill="none"/><path d="M330.72 151.56L332.60 148.04L328.84 148.04Z" fill="#9933cc"/><path d="M328.60 146.16L332.36 144.24L332.36 148.08Z" fill="#ff00ff"/><path d="M328.60 142.74L332.36 140.82L332.36 144.66Z" fill="#ff00ff"/><path d="M328.60 139.32L332.36 137.40L332.36 141.24Z" fill="#ff00ff"/><path d="M328.60 135.90L332.36 133.98L332.36 137.82Z" fill="#ff00ff"/><path d="M328.60 132.48L332.36 130.56L332.36 134.40Z" fill="#ff00ff"/><path d="M330.72 126.94L332.91 130.77L328.53 130.77Z" fill="#0000ff"/><rect x="329.25" y="124.17" width="2.94" height="2.94" fill="#ff0000"/><circle cx="330.72" cy="122.22" r="1.33" fill="#000000"/><circle cx="330.72" cy="118.80" r="1.33" fill="#000000"/><circle cx="330.72" cy="115.38" r="1.33" fill="#000000"/><path d="M335.33 153.00H338.40M336.87 151.46V154.54" stroke="#222222" stroke-width="0.55" fill="none"/><path d="M336.87 151.56L338.75 148.04L334.98 148.04Z" fill="#9933cc"/><path d="M334.74 146.16L338.51 144.24L338.51 148.08Z" fill="#ff00ff"/><path d="M334.74 142.74L338.51 140.82L338.51 144.66Z" fill="#ff00ff"/><path d="M334.74 139.32L338.51 137.40L338.51 141.24Z" fill="#ff00ff"/><path d="M334.74 135.90L338.51 133.98L338.51 137.82Z" fill="#ff00ff"/><path d="M336.87 130.36L339.05 134.19L334.68 134.19Z" fill="#0000ff"/><rect x="335.39" y="127.59" width="2.94" height="2.94" fill="#ff0000"/><circle cx="336.87" cy="125.64" r="1.33" fill="#000000"/><circle cx="336.87" cy="122.22" r="1.33" fill="#000000"/><path d="M341.47 153.00H344.55M343.01 151.46V154.54" stroke="#222222" stroke-width="0.55" fill="none"/><path d="M343.01 151.56L344.89 148.04L341.13 148.04Z" fill="#9933cc"/><path d="M340.89 146.16L344.65 144.24L344.65 148.08Z" fill="#ff00ff"/><path d="M340.89 142.74L344.65 140.82L344.65 144.66Z" fill="#ff00ff"/><path d="M340.89 139.32L344.65 137.40L344.65 141.24Z" fill="#ff00ff"/><path d="M340.89 135.90L344.65 133.98L344.65 137.82Z" fill="#ff00ff"/><path d="M340.89 132.48L344.65 130.56L344.65 134.40Z" fill="#ff00ff"/><path d="M340.89 129.06L344.65 127.14L344.65 130.98Z" fill="#ff00ff"/><path d="M343.01 123.52L345.20 127.35L340.82 127.35Z" fill="#0000ff"/><rect x="341.54" y="120.75" width="2.94" height="2.94" fill="#ff0000"/><circle cx="343.01" cy="118.80" r="1.33" fill="#000000"/><circle cx="343.01" cy="115.38" r="1.33" fill="#000000"/><circle cx="343.01" cy="111.96" r="1.33" fill="#000000"/><path d="M347.62 153.00H350.69M349.16 151.46V154.54" stroke="#222222" stroke-width="0.55" fill="none"/><path d="M349.16 151.56L351.04 148.04L347.27 148.04Z" fill="#9933cc"/><path d="M347.03 146.16L350.80 144.24L350.80 148.08Z" fill="#ff00ff"/><path d="M347.03 142.74L350.80 140.82L350.80 144.66Z" fill="#ff00ff"/><path d="M347.03 139.32L350.80 137.40L350.80 141.24Z" fill="#ff00ff"/><path d="M347.03 135.90L350.80 133.98L350.80 137.82Z" fill="#ff00ff"/><path d="M347.03 132.48L350.80 130.56L350.80 134.40Z" fill="#ff00ff"/><path d="M347.03 129.06L350.80 127.14L350.80 130.98Z" fill="#ff00ff"/><path d="M347.03 125.64L350.80 123.72L350.80 127.56Z" fill="#ff00ff"/><path d="M349.16 120.10L351.34 123.93L346.97 123.93Z" fill="#0000ff"/><rect x="347.68" y="117.33" width="2.94" height="2.94" fill="#ff0000"/><rect x="347.68" y="113.91" width="2.94" height="2.94" fill="#ff0000"/><circle cx="349.16" cy="111.96" r="1.33" fill="#000000"/><circle cx="349.16" cy="108.54" r="1.33" fill="#000000"/><circle cx="349.16" cy="105.12" r="1.33" fill="#000000"/><circle cx="349.16" cy="101.70" r="1.33" fill="#000000"/><path d="M353.76 153.00H356.84M355.30 151.46V154.54" stroke="#222222" stroke-width="0.55" fill="none"/><path d="M355.30 151.56L357.18 148.04L353.42 148.04Z" fill="#9933cc"/><path d="M353.18 146.16L356.94 144.24L356.94 148.08Z" fill="#ff00ff"/><path d="M353.18 142.74L356.94 140.82L356.94 144.66Z" fill="#ff00ff"/><path d="M353.18 139.32L356.94 137.40L356.94 141.24Z" fill="#ff00ff"/><path d="M353.18 135.90L356.94 133.98L356.94 137.82Z" fill="#ff00ff"/><path d="M353.18 132.48L356.94 130.56L356.94 134.40Z" fill="#ff00ff"/><path d="M353.18 129.06L356.94 127.14L356.94 130.98Z" fill="#ff00ff"/><path d="M353.18 125.64L356.94 123.72L356.94 127.56Z" fill="#ff00ff"/><path d="M353.18 122.22L356.94 120.30L356.94 124.14Z" fill="#ff00ff"/><path d="M353.18 118.80L356.94 116.88L356.94 120.72Z" fill="#ff00ff"/><path d="M353.18 115.38L356.94 113.46L356.94 117.30Z" fill="#ff00ff"/><path d="M355.30 109.84L357.49 113.67L353.11 113.67Z" fill="#0000ff"/><rect x="353.83" y="107.07" width="2.94" height="2.94" fill="#ff0000"/><rect x="353.83" y="103.65" width="2.94" height="2.94" fill="#ff0000"/><circle cx="355.30" cy="101.70" r="1.33" fill="#000000"/><circle cx="355.30" cy="98.28" r="1.33" fill="#000000"/><path d="M359.91 153.00H362.98M361.45 151.46V154.54" stroke="#222222" stroke-width="0.55" fill="none"/><path d="M361.45 151.56L363.33 148.04L359.56 148.04Z" fill="#9933cc"/><path d="M359.32 146.16L363.09 144.24L363.09 148.08Z" fill="#ff00ff"/><path d="M359.32 142.74L363.09 140.82L363.09 144.66Z" fill="#ff00ff"/><path d="M359.32 139.32L363.09 137.40L363.09 141.24Z" fill="#ff00ff"/><path d="M359.32 135.90L363.09 133.98L363.09 137.82Z" fill="#ff00ff"/><path d="M359.32 132.48L363.09 130.56L363.09 134.40Z" fill="#ff00ff"/><path d="M359.32 129.06L363.09 127.14L363.09 130.98Z" fill="#ff00ff"/><path d="M359.32 125.64L363.09 123.72L363.09 127.56Z" fill="#ff00ff"/><path d="M359.32 122.22L363.09 120.30L363.09 124.14Z" fill="#ff00ff"/><path d="M359.32 118.80L363.09 116.88L363.09 120.72Z" fill="#ff00ff"/><path d="M359.32 115.38L363.09 113.46L363.09 117.30Z" fill="#ff00ff"/><path d="M359.32 111.96L363.09 110.04L363.09 113.88Z" fill="#ff00ff"/><path d="M359.32 108.54L363.09 106.62L363.09 110.46Z" fill="#ff00ff"/><path d="M359.32 105.12L363.09 103.20L363.09 107.04Z" fill="#ff00ff"/><path d="M359.32 101.70L363.09 99.78L363.09 103.62Z" fill="#ff00ff"/><path d="M359.32 98.28L363.09 96.36L363.09 100.20Z" fill="#ff00ff"/><path d="M361.45 92.74L363.63 96.57L359.26 96.57Z" fill="#0000ff"/><rect x="359.97" y="89.97" width="2.94" height="2.94" fill="#ff0000"/><circle cx="361.45" cy="88.02" r="1.33" fill="#000000"/><circle cx="361.45" cy="84.60" r="1.33" fill="#000000"/><path d="M366.05 153.00H369.13M367.59 151.46V154.54" stroke="#222222" stroke-width="0.55" fill="none"/><path d="M367.59 151.56L369.47 148.04L365.71 148.04Z" fill="#9933cc"/><path d="M365.47 146.16L369.23 144.24L369.23 148.08Z" fill="#ff00ff"/><path d="M365.47 142.74L369.23 140.82L369.23 144.66Z" fill="#ff00ff"/><path d="M365.47 139.32L369.23 137.40L369.23 141.24Z" fill="#ff00ff"/><path d="M365.47 135.90L369.23 133.98L369.23 137.82Z" fill="#ff00ff"/><path d="M365.47 132.48L369.23 130.56L369.23 134.40Z" fill="#ff00ff"/><path d="M365.47 129.06L369.23 127.14L369.23 130.98Z" fill="#ff00ff"/><path d="M365.47 125.64L369.23 123.72L369.23 127.56Z" fill="#ff00ff"/><path d="M365.47 122.22L369.23 120.30L369.23 124.14Z" fill="#ff00ff"/><path d="M365.47 118.80L369.23 116.88L369.23 120.72Z" fill="#ff00ff"/><path d="M365.47 115.38L369.23 113.46L369.23 117.30Z" fill="#ff00ff"/><path d="M365.47 111.96L369.23 110.04L369.23 113.88Z" fill="#ff00ff"/><path d="M365.47 108.54L369.23 106.62L369.23 110.46Z" fill="#ff00ff"/><path d="M365.47 105.12L369.23 103.20L369.23 107.04Z" fill="#ff00ff"/><path d="M365.47 101.70L369.23 99.78L369.23 103.62Z" fill="#ff00ff"/><path d="M365.47 98.28L369.23 96.36L369.23 100.20Z" fill="#ff00ff"/><path d="M365.47 94.86L369.23 92.94L369.23 96.78Z" fill="#ff00ff"/><path d="M365.47 91.44L369.23 89.52L369.23 93.36Z" fill="#ff00ff"/><path d="M365.47 88.02L369.23 86.10L369.23 89.94Z" fill="#ff00ff"/><path d="M365.47 84.60L369.23 82.68L369.23 86.52Z" fill="#ff00ff"/><path d="M365.47 81.18L369.23 79.26L369.23 83.10Z" fill="#ff00ff"/><path d="M367.59 75.64L369.78 79.47L365.40 79.47Z" fill="#0000ff"/><rect x="366.12" y="72.87" width="2.94" height="2.94" fill="#ff0000"/><rect x="366.12" y="69.45" width="2.94" height="2.94" fill="#ff0000"/><circle cx="367.59" cy="67.50" r="1.33" fill="#000000"/><circle cx="367.59" cy="64.08" r="1.33" fill="#000000"/><circle cx="367.59" cy="60.66" r="1.33" fill="#000000"/><path d="M372.20 153.00H375.27M373.74 151.46V154.54" stroke="#222222" stroke-width="0.55" fill="none"/><path d="M373.74 151.56L375.62 148.04L371.85 148.04Z" fill="#9933cc"/><path d="M371.61 146.16L375.38 144.24L375.38 148.08Z" fill="#ff00ff"/><path d="M371.61 142.74L375.38 140.82L375.38 144.66Z" fill="#ff00ff"/><path d="M371.61 139.32L375.38 137.40L375.38 141.24Z" fill="#ff00ff"/><path d="M371.61 135.90L375.38 133.98L375.38 137.82Z" fill="#ff00ff"/><path d="M371.61 132.48L375.38 130.56L375.38 134.40Z" fill="#ff00ff"/><path d="M371.61 129.06L375.38 127.14L375.38 130.98Z" fill="#ff00ff"/><path d="M371.61 125.64L375.38 123.72L375.38 127.56Z" fill="#ff00ff"/><path d="M371.61 122.22L375.38 120.30L375.38 124.14Z" fill="#ff00ff"/><path d="M371.61 118.80L375.38 116.88L375.38 120.72Z" fill="#ff00ff"/><path d="M371.61 115.38L375.38 113.46L375.38 117.30Z" fill="#ff00ff"/><path d="M371.61 111.96L375.38 110.04L375.38 113.88Z" fill="#ff00ff"/><path d="M371.61 108.54L375.38 106.62L375.38 110.46Z" fill="#ff00ff"/><path d="M371.61 105.12L375.38 103.20L375.38 107.04Z" fill="#ff00ff"/><path d="M371.61 101.70L375.38 99.78L375.38 103.62Z" fill="#ff00ff"/><path d="M371.61 98.28L375.38 96.36L375.38 100.20Z" fill="#ff00ff"/><path d="M371.61 94.86L375.38 92.94L375.38 96.78Z" fill="#ff00ff"/><path d="M371.61 91.44L375.38 89.52L375.38 93.36Z" fill="#ff00ff"/><path d="M371.61 88.02L375.38 86.10L375.38 89.94Z" fill="#ff00ff"/><path d="M371.61 84.60L375.38 82.68L375.38 86.52Z" fill="#ff00ff"/><path d="M371.61 81.18L375.38 79.26L375.38 83.10Z" fill="#ff00ff"/><path d="M371.61 77.76L375.38 75.84L375.38 79.68Z" fill="#ff00ff"/><path d="M371.61 74.34L375.38 72.42L375.38 76.26Z" fill="#ff00ff"/><path d="M371.61 70.92L375.38 69.00L375.38 72.84Z" fill="#ff00ff"/><path d="M371.61 67.50L375.38 65.58L375.38 69.42Z" fill="#ff00ff"/><path d="M371.61 64.08L375.38 62.16L375.38 66.00Z" fill="#ff00ff"/><path d="M373.74 58.54L375.92 62.37L371.55 62.37Z" fill="#0000ff"/><rect x="372.26" y="55.77" width="2.94" height="2.94" fill="#ff0000"/><circle cx="373.74" cy="53.82" r="1.33" fill="#000000"/><circle cx="373.74" cy="50.40" r="1.33" fill="#000000"/><circle cx="373.74" cy="46.98" r="1.33" fill="#000000"/><circle cx="373.74" cy="43.56" r="1.33" fill="#000000"/><path d="M378.34 153.00H381.42M379.88 151.46V154.54" stroke="#222222" stroke-width="0.55" fill="none"/><path d="M379.88 151.56L381.76 148.04L378.00 148.04Z" fill="#9933cc"/><path d="M377.76 146.16L381.52 144.24L381.52 148.08Z" fill="#ff00ff"/><path d="M377.76 142.74L381.52 140.82L381.52 144.66Z" fill="#ff00ff"/><path d="M377.76 139.32L381.52 137.40L381.52 141.24Z" fill="#ff00ff"/><path d="M377.76 135.90L381.52 133.98L381.52 137.82Z" fill="#ff00ff"/><path d="M377.76 132.48L381.52 130.56L381.52 134.40Z" fill="#ff00ff"/><path d="M377.76 129.06L381.52 127.14L381.52 130.98Z" fill="#ff00ff"/><path d="M377.76 125.64L381.52 123.72L381.52 127.56Z" fill="#ff00ff"/><path d="M377.76 122.22L381.52 120.30L381.52 124.14Z" fill="#ff00ff"/><path d="M377.76 118.80L381.52 116.88L381.52 120.72Z" fill="#ff00ff"/><path d="M377.76 115.38L381.52 113.46L381.52 117.30Z" fill="#ff00ff"/><path d="M377.76 111.96L381.52 110.04L381.52 113.88Z" fill="#ff00ff"/><path d="M377.76 108.54L381.52 106.62L381.52 110.46Z" fill="#ff00ff"/><path d="M377.76 105.12L381.52 103.20L381.52 107.04Z" fill="#ff00ff"/><path d="M377.76 101.70L381.52 99.78L381.52 103.62Z" fill="#ff00ff"/><path d="M377.76 98.28L381.52 96.36L381.52 100.20Z" fill="#ff00ff"/><path d="M377.76 94.86L381.52 92.94L381.52 96.78Z" fill="#ff00ff"/><path d="M377.76 91.44L381.52 89.52L381.52 93.36Z" fill="#ff00ff"/><path d="M377.76 88.02L381.52 86.10L381.52 89.94Z" fill="#ff00ff"/><path d="M377.76 84.60L381.52 82.68L381.52 86.52Z" fill="#ff00ff"/><path d="M377.76 81.18L381.52 79.26L381.52 83.10Z" fill="#ff00ff"/><path d="M377.76 77.76L381.52 75.84L381.52 79.68Z" fill="#ff00ff"/><path d="M377.76 74.34L381.52 72.42L381.52 76.26Z" fill="#ff00ff"/><path d="M377.76 70.92L381.52 69.00L381.52 72.84Z" fill="#ff00ff"/><path d="M377.76 67.50L381.52 65.58L381.52 69.42Z" fill="#ff00ff"/><path d="M377.76 64.08L381.52 62.16L381.52 66.00Z" fill="#ff00ff"/><path d="M377.76 60.66L381.52 58.74L381.52 62.58Z" fill="#ff00ff"/><path d="M377.76 57.24L381.52 55.32L381.52 59.16Z" fill="#ff00ff"/><path d="M377.76 53.82L381.52 51.90L381.52 55.74Z" fill="#ff00ff"/><path d="M377.76 50.40L381.52 48.48L381.52 52.32Z" fill="#ff00ff"/><path d="M377.76 46.98L381.52 45.06L381.52 48.90Z" fill="#ff00ff"/><path d="M377.76 43.56L381.52 41.64L381.52 45.48Z" fill="#ff00ff"/><path d="M377.76 40.14L381.52 38.22L381.52 42.06Z" fill="#ff00ff"/><rect x="378.41" y="35.25" width="2.94" height="2.94" fill="#ff0000"/><rect x="378.41" y="31.83" width="2.94" height="2.94" fill="#ff0000"/><circle cx="379.88" cy="29.88" r="1.33" fill="#000000"/><circle cx="379.88" cy="26.46" r="1.33" fill="#000000"/><circle cx="379.88" cy="23.04" r="1.33" fill="#000000"/><path d="M384.49 153.00H387.56M386.03 151.46V154.54" stroke="#222222" stroke-width="0.55" fill="none"/><path d="M386.03 151.56L387.91 148.04L384.14 148.04Z" fill="#9933cc"/><path d="M383.90 146.16L387.67 144.24L387.67 148.08Z" fill="#ff00ff"/><path d="M383.90 142.74L387.67 140.82L387.67 144.66Z" fill="#ff00ff"/><path d="M383.90 139.32L387.67 137.40L387.67 141.24Z" fill="#ff00ff"/><path d="M383.90 135.90L387.67 133.98L387.67 137.82Z" fill="#ff00ff"/><path d="M383.90 132.48L387.67 130.56L387.67 134.40Z" fill="#ff00ff"/><path d="M383.90 129.06L387.67 127.14L387.67 130.98Z" fill="#ff00ff"/><path d="M383.90 125.64L387.67 123.72L387.67 127.56Z" fill="#ff00ff"/><path d="M383.90 122.22L387.67 120.30L387.67 124.14Z" fill="#ff00ff"/><path d="M383.90 118.80L387.67 116.88L387.67 120.72Z" fill="#ff00ff"/><path d="M383.90 115.38L387.67 113.46L387.67 117.30Z" fill="#ff00ff"/><path d="M383.90 111.96L387.67 110.04L387.67 113.88Z" fill="#ff00ff"/><path d="M383.90 108.54L387.67 106.62L387.67 110.46Z" fill="#ff00ff"/><path d="M383.90 105.12L387.67 103.20L387.67 107.04Z" fill="#ff00ff"/><path d="M383.90 101.70L387.67 99.78L387.67 103.62Z" fill="#ff00ff"/><path d="M383.90 98.28L387.67 96.36L387.67 100.20Z" fill="#ff00ff"/><path d="M383.90 94.86L387.67 92.94L387.67 96.78Z" fill="#ff00ff"/><path d="M383.90 91.44L387.67 89.52L387.67 93.36Z" fill="#ff00ff"/><path d="M383.90 88.02L387.67 86.10L387.67 89.94Z" fill="#ff00ff"/><path d="M383.90 84.60L387.67 82.68L387.67 86.52Z" fill="#ff00ff"/><path d="M383.90 81.18L387.67 79.26L387.67 83.10Z" fill="#ff00ff"/><path d="M383.90 77.76L387.67 75.84L387.67 79.68Z" fill="#ff00ff"/><path d="M383.90 74.34L387.67 72.42L387.67 76.26Z" fill="#ff00ff"/><path d="M383.90 70.92L387.67 69.00L387.67 72.84Z" fill="#ff00ff"/><path d="M383.90 67.50L387.67 65.58L387.67 69.42Z" fill="#ff00ff"/><path d="M383.90 64.08L387.67 62.16L387.67 66.00Z" fill="#ff00ff"/><path d="M383.90 60.66L387.67 58.74L387.67 62.58Z" fill="#ff00ff"/><path d="M383.90 57.24L387.67 55.32L387.67 59.16Z" fill="#ff00ff"/><path d="M383.90 53.82L387.67 51.90L387.67 55.74Z" fill="#ff00ff"/><rect x="384.55" y="48.93" width="2.94" height="2.94" fill="#ff0000"/><rect x="384.55" y="45.51" width="2.94" height="2.94" fill="#ff0000"/><circle cx="386.03" cy="43.56" r="1.33" fill="#000000"/><circle cx="386.03" cy="40.14" r="1.33" fill="#000000"/><circle cx="386.03" cy="36.72" r="1.33" fill="#000000"/><path d="M390.63 153.00H393.71M392.17 151.46V154.54" stroke="#222222" stroke-width="0.55" fill="none"/><path d="M392.17 151.56L394.05 148.04L390.29 148.04Z" fill="#9933cc"/><path d="M390.05 146.16L393.81 144.24L393.81 148.08Z" fill="#ff00ff"/><path d="M390.05 142.74L393.81 140.82L393.81 144.66Z" fill="#ff00ff"/><path d="M390.05 139.32L393.81 137.40L393.81 141.24Z" fill="#ff00ff"/><path d="M390.05 135.90L393.81 133.98L393.81 137.82Z" fill="#ff00ff"/><path d="M390.05 132.48L393.81 130.56L393.81 134.40Z" fill="#ff00ff"/><path d="M390.05 129.06L393.81 127.14L393.81 130.98Z" fill="#ff00ff"/><path d="M390.05 125.64L393.81 123.72L393.81 127.56Z" fill="#ff00ff"/><path d="M390.05 122.22L393.81 120.30L393.81 124.14Z" fill="#ff00ff"/><path d="M390.05 118.80L393.81 116.88L393.81 120.72Z" fill="#ff00ff"/><path d="M390.05 115.38L393.81 113.46L393.81 117.30Z" fill="#ff00ff"/><path d="M390.05 111.96L393.81 110.04L393.81 113.88Z" fill="#ff00ff"/><path d="M390.05 108.54L393.81 106.62L393.81 110.46Z" fill="#ff00ff"/><path d="M390.05 105.12L393.81 103.20L393.81 107.04Z" fill="#ff00ff"/><path d="M390.05 101.70L393.81 99.78L393.81 103.62Z" fill="#ff00ff"/><path d="M390.05 98.28L393.81 96.36L393.81 100.20Z" fill="#ff00ff"/><path d="M390.05 94.86L393.81 92.94L393.81 96.78Z" fill="#ff00ff"/><path d="M390.05 91.44L393.81 89.52L393.81 93.36Z" fill="#ff00ff"/><path d="M390.05 88.02L393.81 86.10L393.81 89.94Z" fill="#ff00ff"/><path d="M390.05 84.60L393.81 82.68L393.81 86.52Z" fill="#ff00ff"/><path d="M390.05 81.18L393.81 79.26L393.81 83.10Z" fill="#ff00ff"/><path d="M390.05 77.76L393.81 75.84L393.81 79.68Z" fill="#ff00ff"/><path d="M390.05 74.34L393.81 72.42L393.81 76.26Z" fill="#ff00ff"/><path d="M390.05 70.92L393.81 69.00L393.81 72.84Z" fill="#ff00ff"/><path d="M390.05 67.50L393.81 65.58L393.81 69.42Z" fill="#ff00ff"/><path d="M390.05 64.08L393.81 62.16L393.81 66.00Z" fill="#ff00ff"/><path d="M390.05 60.66L393.81 58.74L393.81 62.58Z" fill="#ff00ff"/><path d="M390.05 57.24L393.81 55.32L393.81 59.16Z" fill="#ff00ff"/><path d="M390.05 53.82L393.81 51.90L393.81 55.74Z" fill="#ff00ff"/><path d="M390.05 50.40L393.81 48.48L393.81 52.32Z" fill="#ff00ff"/><path d="M390.05 46.98L393.81 45.06L393.81 48.90Z" fill="#ff00ff"/><path d="M390.05 43.56L393.81 41.64L393.81 45.48Z" fill="#ff00ff"/><path d="M390.05 40.14L393.81 38.22L393.81 42.06Z" fill="#ff00ff"/><rect x="390.70" y="35.25" width="2.94" height="2.94" fill="#ff0000"/><circle cx="392.17" cy="33.30" r="1.33" fill="#000000"/><circle cx="392.17" cy="29.88" r="1.33" fill="#000000"/><circle cx="392.17" cy="26.46" r="1.33" fill="#000000"/><circle cx="392.17" cy="23.04" r="1.33" fill="#000000"/><path d="M396.78 153.00H399.85M398.31 151.46V154.54" stroke="#222222" stroke-width="0.55" fill="none"/><path d="M398.31 151.56L400.20 148.04L396.43 148.04Z" fill="#9933cc"/><path d="M396.19 146.16L399.96 144.24L399.96 148.08Z" fill="#ff00ff"/><path d="M396.19 142.74L399.96 140.82L399.96 144.66Z" fill="#ff00ff"/><path d="M396.19 139.32L399.96 137.40L399.96 141.24Z" fill="#ff00ff"/><path d="M396.19 135.90L399.96 133.98L399.96 137.82Z" fill="#ff00ff"/><path d="M396.19 132.48L399.96 130.56L399.96 134.40Z" fill="#ff00ff"/><path d="M396.19 129.06L399.96 127.14L399.96 130.98Z" fill="#ff00ff"/><path d="M396.19 125.64L399.96 123.72L399.96 127.56Z" fill="#ff00ff"/><path d="M396.19 122.22L399.96 120.30L399.96 124.14Z" fill="#ff00ff"/><path d="M396.19 118.80L399.96 116.88L399.96 120.72Z" fill="#ff00ff"/><path d="M396.19 115.38L399.96 113.46L399.96 117.30Z" fill="#ff00ff"/><path d="M396.19 111.96L399.96 110.04L399.96 113.88Z" fill="#ff00ff"/><path d="M396.19 108.54L399.96 106.62L399.96 110.46Z" fill="#ff00ff"/><path d="M396.19 105.12L399.96 103.20L399.96 107.04Z" fill="#ff00ff"/><path d="M396.19 101.70L399.96 99.78L399.96 103.62Z" fill="#ff00ff"/><path d="M396.19 98.28L399.96 96.36L399.96 100.20Z" fill="#ff00ff"/><path d="M396.19 94.86L399.96 92.94L399.96 96.78Z" fill="#ff00ff"/><path d="M396.19 91.44L399.96 89.52L399.96 93.36Z" fill="#ff00ff"/><path d="M396.19 88.02L399.96 86.10L399.96 89.94Z" fill="#ff00ff"/><path d="M396.19 84.60L399.96 82.68L399.96 86.52Z" fill="#ff00ff"/><path d="M396.19 81.18L399.96 79.26L399.96 83.10Z" fill="#ff00ff"/><path d="M396.19 77.76L399.96 75.84L399.96 79.68Z" fill="#ff00ff"/><path d="M396.19 74.34L399.96 72.42L399.96 76.26Z" fill="#ff00ff"/><path d="M396.19 70.92L399.96 69.00L399.96 72.84Z" fill="#ff00ff"/><path d="M396.19 67.50L399.96 65.58L399.96 69.42Z" fill="#ff00ff"/><path d="M396.19 64.08L399.96 62.16L399.96 66.00Z" fill="#ff00ff"/><path d="M396.19 60.66L399.96 58.74L399.96 62.58Z" fill="#ff00ff"/><path d="M396.19 57.24L399.96 55.32L399.96 59.16Z" fill="#ff00ff"/><path d="M396.19 53.82L399.96 51.90L399.96 55.74Z" fill="#ff00ff"/><path d="M396.19 50.40L399.96 48.48L399.96 52.32Z" fill="#ff00ff"/><path d="M400.44 46.98L396.67 45.06L396.67 48.90Z" fill="#ff9900"/><path d="M398.31 41.58L400.37 43.56L398.31 45.54L396.26 43.56Z" fill="#5fcc5f"/><rect x="396.84" y="38.67" width="2.94" height="2.94" fill="#ff0000"/><circle cx="398.31" cy="36.72" r="1.33" fill="#000000"/><circle cx="398.31" cy="33.30" r="1.33" fill="#000000"/><circle cx="398.31" cy="29.88" r="1.33" fill="#000000"/><circle cx="398.31" cy="26.46" r="1.33" fill="#000000"/><path d="M402.92 153.00H406.00M404.46 151.46V154.54" stroke="#222222" stroke-width="0.55" fill="none"/><path d="M404.46 151.56L406.34 148.04L402.58 148.04Z" fill="#9933cc"/><path d="M402.34 146.16L406.10 144.24L406.10 148.08Z" fill="#ff00ff"/><path d="M402.34 142.74L406.10 140.82L406.10 144.66Z" fill="#ff00ff"/><path d="M402.34 139.32L406.10 137.40L406.10 141.24Z" fill="#ff00ff"/><path d="M402.34 135.90L406.10 133.98L406.10 137.82Z" fill="#ff00ff"/><path d="M402.34 132.48L406.10 130.56L406.10 134.40Z" fill="#ff00ff"/><path d="M402.34 129.06L406.10 127.14L406.10 130.98Z" fill="#ff00ff"/><path d="M402.34 125.64L406.10 123.72L406.10 127.56Z" fill="#ff00ff"/><path d="M402.34 122.22L406.10 120.30L406.10 124.14Z" fill="#ff00ff"/><path d="M402.34 118.80L406.10 116.88L406.10 120.72Z" fill="#ff00ff"/><path d="M402.34 115.38L406.10 113.46L406.10 117.30Z" fill="#ff00ff"/><path d="M402.34 111.96L406.10 110.04L406.10 113.88Z" fill="#ff00ff"/><path d="M402.34 108.54L406.10 106.62L406.10 110.46Z" fill="#ff00ff"/><path d="M402.34 105.12L406.10 103.20L406.10 107.04Z" fill="#ff00ff"/><path d="M402.34 101.70L406.10 99.78L406.10 103.62Z" fill="#ff00ff"/><path d="M402.34 98.28L406.10 96.36L406.10 100.20Z" fill="#ff00ff"/><path d="M402.34 94.86L406.10 92.94L406.10 96.78Z" fill="#ff00ff"/><path d="M402.34 91.44L406.10 89.52L406.10 93.36Z" fill="#ff00ff"/><path d="M402.34 88.02L406.10 86.10L406.10 89.94Z" fill="#ff00ff"/><path d="M402.34 84.60L406.10 82.68L406.10 86.52Z" fill="#ff00ff"/><path d="M402.34 81.18L406.10 79.26L406.10 83.10Z" fill="#ff00ff"/><path d="M402.34 77.76L406.10 75.84L406.10 79.68Z" fill="#ff00ff"/><path d="M402.34 74.34L406.10 72.42L406.10 76.26Z" fill="#ff00ff"/><path d="M402.34 70.92L406.10 69.00L406.10 72.84Z" fill="#ff00ff"/><path d="M402.34 67.50L406.10 65.58L406.10 69.42Z" fill="#ff00ff"/><path d="M402.34 64.08L406.10 62.16L406.10 66.00Z" fill="#ff00ff"/><path d="M402.34 60.66L406.10 58.74L406.10 62.58Z" fill="#ff00ff"/><path d="M406.58 57.24L402.82 55.32L402.82 59.16Z" fill="#ff9900"/><path d="M404.46 51.70L406.65 55.53L402.27 55.53Z" fill="#0000ff"/><rect x="402.99" y="48.93" width="2.94" height="2.94" fill="#ff0000"/><circle cx="404.46" cy="46.98" r="1.33" fill="#000000"/><circle cx="404.46" cy="43.56" r="1.33" fill="#000000"/><circle cx="404.46" cy="40.14" r="1.33" fill="#000000"/><path d="M409.07 153.00H412.14M410.61 151.46V154.54" stroke="#222222" stroke-width="0.55" fill="none"/><path d="M410.61 151.56L412.49 148.04L408.72 148.04Z" fill="#9933cc"/><path d="M408.48 146.16L412.25 144.24L412.25 148.08Z" fill="#ff00ff"/><path d="M408.48 142.74L412.25 140.82L412.25 144.66Z" fill="#ff00ff"/><path d="M408.48 139.32L412.25 137.40L412.25 141.24Z" fill="#ff00ff"/><path d="M408.48 135.90L412.25 133.98L412.25 137.82Z" fill="#ff00ff"/><path d="M408.48 132.48L412.25 130.56L412.25 134.40Z" fill="#ff00ff"/><path d="M408.48 129.06L412.25 127.14L412.25 130.98Z" fill="#ff00ff"/><path d="M408.48 125.64L412.25 123.72L412.25 127.56Z" fill="#ff00ff"/><path d="M408.48 122.22L412.25 120.30L412.25 124.14Z" fill="#ff00ff"/><path d="M408.48 118.80L412.25 116.88L412.25 120.72Z" fill="#ff00ff"/><path d="M408.48 115.38L412.25 113.46L412.25 117.30Z" fill="#ff00ff"/><path d="M408.48 111.96L412.25 110.04L412.25 113.88Z" fill="#ff00ff"/><path d="M408.48 108.54L412.25 106.62L412.25 110.46Z" fill="#ff00ff"/><path d="M408.48 105.12L412.25 103.20L412.25 107.04Z" fill="#ff00ff"/><path d="M408.48 101.70L412.25 99.78L412.25 103.62Z" fill="#ff00ff"/><path d="M408.48 98.28L412.25 96.36L412.25 100.20Z" fill="#ff00ff"/><path d="M408.48 94.86L412.25 92.94L412.25 96.78Z" fill="#ff00ff"/><path d="M408.48 91.44L412.25 89.52L412.25 93.36Z" fill="#ff00ff"/><path d="M408.48 88.02L412.25 86.10L412.25 89.94Z" fill="#ff00ff"/><path d="M408.48 84.60L412.25 82.68L412.25 86.52Z" fill="#ff00ff"/><path d="M408.48 81.18L412.25 79.26L412.25 83.10Z" fill="#ff00ff"/><path d="M408.48 77.76L412.25 75.84L412.25 79.68Z" fill="#ff00ff"/><path d="M408.48 74.34L412.25 72.42L412.25 76.26Z" fill="#ff00ff"/><path d="M408.48 70.92L412.25 69.00L412.25 72.84Z" fill="#ff00ff"/><path d="M412.73 67.50L408.96 65.58L408.96 69.42Z" fill="#ff9900"/><path d="M410.61 62.10L412.66 64.08L410.61 66.06L408.55 64.08Z" fill="#5fcc5f"/><rect x="409.13" y="59.19" width="2.94" height="2.94" fill="#ff0000"/><circle cx="410.61" cy="57.24" r="1.33" fill="#000000"/><circle cx="410.61" cy="53.82" r="1.33" fill="#000000"/><circle cx="410.61" cy="50.40" r="1.33" fill="#000000"/><circle cx="410.61" cy="46.98" r="1.33" fill="#000000"/><path d="M414.63 153.00L418.39 151.08L418.39 154.92Z" fill="#ff00ff"/><path d="M414.63 149.58L418.39 147.66L418.39 151.50Z" fill="#ff00ff"/><path d="M414.63 146.16L418.39 144.24L418.39 148.08Z" fill="#ff00ff"/><path d="M414.63 142.74L418.39 140.82L418.39 144.66Z" fill="#ff00ff"/><path d="M414.63 139.32L418.39 137.40L418.39 141.24Z" fill="#ff00ff"/><path d="M414.63 135.90L418.39 133.98L418.39 137.82Z" fill="#ff00ff"/><path d="M414.63 132.48L418.39 130.56L418.39 134.40Z" fill="#ff00ff"/><path d="M414.63 129.06L418.39 127.14L418.39 130.98Z" fill="#ff00ff"/><path d="M414.63 125.64L418.39 123.72L418.39 127.56Z" fill="#ff00ff"/><path d="M414.63 122.22L418.39 120.30L418.39 124.14Z" fill="#ff00ff"/><path d="M414.63 118.80L418.39 116.88L418.39 120.72Z" fill="#ff00ff"/><path d="M414.63 115.38L418.39 113.46L418.39 117.30Z" fill="#ff00ff"/><path d="M414.63 111.96L418.39 110.04L418.39 113.88Z" fill="#ff00ff"/><path d="M414.63 108.54L418.39 106.62L418.39 110.46Z" fill="#ff00ff"/><path d="M414.63 105.12L418.39 103.20L418.39 107.04Z" fill="#ff00ff"/><path d="M414.63 101.70L418.39 99.78L418.39 103.62Z" fill="#ff00ff"/><path d="M414.63 98.28L418.39 96.36L418.39 100.20Z" fill="#ff00ff"/><path d="M414.63 94.86L418.39 92.94L418.39 96.78Z" fill="#ff00ff"/><path d="M414.63 91.44L418.39 89.52L418.39 93.36Z" fill="#ff00ff"/><path d="M414.63 88.02L418.39 86.10L418.39 89.94Z" fill="#ff00ff"/><path d="M414.63 84.60L418.39 82.68L418.39 86.52Z" fill="#ff00ff"/><path d="M414.63 81.18L418.39 79.26L418.39 83.10Z" fill="#ff00ff"/><path d="M418.87 77.76L415.11 75.84L415.11 79.68Z" fill="#ff9900"/><path d="M416.75 72.22L418.94 76.05L414.56 76.05Z" fill="#0000ff"/><rect x="415.28" y="69.45" width="2.94" height="2.94" fill="#ff0000"/><circle cx="416.75" cy="67.50" r="1.33" fill="#000000"/><circle cx="416.75" cy="64.08" r="1.33" fill="#000000"/><circle cx="416.75" cy="60.66" r="1.33" fill="#000000"/><circle cx="416.75" cy="57.24" r="1.33" fill="#000000"/><circle cx="416.75" cy="53.82" r="1.33" fill="#000000"/><path d="M421.36 153.00H424.43M422.89 151.46V154.54" stroke="#222222" stroke-width="0.55" fill="none"/><path d="M420.77 149.58L424.54 147.66L424.54 151.50Z" fill="#ff00ff"/><path d="M420.77 146.16L424.54 144.24L424.54 148.08Z" fill="#ff00ff"/><path d="M420.77 142.74L424.54 140.82L424.54 144.66Z" fill="#ff00ff"/><path d="M420.77 139.32L424.54 137.40L424.54 141.24Z" fill="#ff00ff"/><path d="M420.77 135.90L424.54 133.98L424.54 137.82Z" fill="#ff00ff"/><path d="M420.77 132.48L424.54 130.56L424.54 134.40Z" fill="#ff00ff"/><path d="M420.77 129.06L424.54 127.14L424.54 130.98Z" fill="#ff00ff"/><path d="M420.77 125.64L424.54 123.72L424.54 127.56Z" fill="#ff00ff"/><path d="M420.77 122.22L424.54 120.30L424.54 124.14Z" fill="#ff00ff"/><path d="M420.77 118.80L424.54 116.88L424.54 120.72Z" fill="#ff00ff"/><path d="M420.77 115.38L424.54 113.46L424.54 117.30Z" fill="#ff00ff"/><path d="M420.77 111.96L424.54 110.04L424.54 113.88Z" fill="#ff00ff"/><path d="M420.77 108.54L424.54 106.62L424.54 110.46Z" fill="#ff00ff"/><path d="M420.77 105.12L424.54 103.20L424.54 107.04Z" fill="#ff00ff"/><path d="M420.77 101.70L424.54 99.78L424.54 103.62Z" fill="#ff00ff"/><path d="M420.77 98.28L424.54 96.36L424.54 100.20Z" fill="#ff00ff"/><path d="M420.77 94.86L424.54 92.94L424.54 96.78Z" fill="#ff00ff"/><path d="M422.89 89.32L425.08 93.15L420.71 93.15Z" fill="#0000ff"/><path d="M422.89 86.04L424.95 88.02L422.89 90.00L420.84 88.02Z" fill="#5fcc5f"/><rect x="421.42" y="83.13" width="2.94" height="2.94" fill="#ff0000"/><circle cx="422.89" cy="81.18" r="1.33" fill="#000000"/><circle cx="422.89" cy="77.76" r="1.33" fill="#000000"/><circle cx="422.89" cy="74.34" r="1.33" fill="#000000"/><path d="M427.50 153.00H430.58M429.04 151.46V154.54" stroke="#222222" stroke-width="0.55" fill="none"/><path d="M426.92 149.58L430.68 147.66L430.68 151.50Z" fill="#ff00ff"/><path d="M426.92 146.16L430.68 144.24L430.68 148.08Z" fill="#ff00ff"/><path d="M426.92 142.74L430.68 140.82L430.68 144.66Z" fill="#ff00ff"/><path d="M426.92 139.32L430.68 137.40L430.68 141.24Z" fill="#ff00ff"/><path d="M426.92 135.90L430.68 133.98L430.68 137.82Z" fill="#ff00ff"/><path d="M426.92 132.48L430.68 130.56L430.68 134.40Z" fill="#ff00ff"/><path d="M426.92 129.06L430.68 127.14L430.68 130.98Z" fill="#ff00ff"/><path d="M426.92 125.64L430.68 123.72L430.68 127.56Z" fill="#ff00ff"/><path d="M426.92 122.22L430.68 120.30L430.68 124.14Z" fill="#ff00ff"/><path d="M426.92 118.80L430.68 116.88L430.68 120.72Z" fill="#ff00ff"/><path d="M426.92 115.38L430.68 113.46L430.68 117.30Z" fill="#ff00ff"/><path d="M426.92 111.96L430.68 110.04L430.68 113.88Z" fill="#ff00ff"/><path d="M426.92 108.54L430.68 106.62L430.68 110.46Z" fill="#ff00ff"/><path d="M426.92 105.12L430.68 103.20L430.68 107.04Z" fill="#ff00ff"/><path d="M426.92 101.70L430.68 99.78L430.68 103.62Z" fill="#ff00ff"/><path d="M431.16 98.28L427.40 96.36L427.40 100.20Z" fill="#ff9900"/><path d="M429.04 92.74L431.23 96.57L426.85 96.57Z" fill="#0000ff"/><path d="M429.04 89.46L431.09 91.44L429.04 93.42L426.99 91.44Z" fill="#5fcc5f"/><rect x="427.57" y="86.55" width="2.94" height="2.94" fill="#ff0000"/><circle cx="429.04" cy="84.60" r="1.33" fill="#000000"/><circle cx="429.04" cy="81.18" r="1.33" fill="#000000"/><path d="M433.65 153.00H436.72M435.19 151.46V154.54" stroke="#222222" stroke-width="0.55" fill="none"/><path d="M433.06 149.58L436.83 147.66L436.83 151.50Z" fill="#ff00ff"/><path d="M433.06 146.16L436.83 144.24L436.83 148.08Z" fill="#ff00ff"/><path d="M433.06 142.74L436.83 140.82L436.83 144.66Z" fill="#ff00ff"/><path d="M433.06 139.32L436.83 137.40L436.83 141.24Z" fill="#ff00ff"/><path d="M433.06 135.90L436.83 133.98L436.83 137.82Z" fill="#ff00ff"/><path d="M433.06 132.48L436.83 130.56L436.83 134.40Z" fill="#ff00ff"/><path d="M433.06 129.06L436.83 127.14L436.83 130.98Z" fill="#ff00ff"/><path d="M433.06 125.64L436.83 123.72L436.83 127.56Z" fill="#ff00ff"/><path d="M433.06 122.22L436.83 120.30L436.83 124.14Z" fill="#ff00ff"/><path d="M433.06 118.80L436.83 116.88L436.83 120.72Z" fill="#ff00ff"/><path d="M433.06 115.38L436.83 113.46L436.83 117.30Z" fill="#ff00ff"/><path d="M437.31 111.96L433.54 110.04L433.54 113.88Z" fill="#ff9900"/><path d="M435.19 106.42L437.37 110.25L433.00 110.25Z" fill="#0000ff"/><path d="M435.19 103.14L437.24 105.12L435.19 107.10L433.13 105.12Z" fill="#5fcc5f"/><rect x="433.71" y="100.23" width="2.94" height="2.94" fill="#ff0000"/><circle cx="435.19" cy="98.28" r="1.33" fill="#000000"/><path d="M439.79 153.00H442.87M441.33 151.46V154.54" stroke="#222222" stroke-width="0.55" fill="none"/><path d="M439.21 149.58L442.97 147.66L442.97 151.50Z" fill="#ff00ff"/><path d="M439.21 146.16L442.97 144.24L442.97 148.08Z" fill="#ff00ff"/><path d="M439.21 142.74L442.97 140.82L442.97 144.66Z" fill="#ff00ff"/><path d="M439.21 139.32L442.97 137.40L442.97 141.24Z" fill="#ff00ff"/><path d="M439.21 135.90L442.97 133.98L442.97 137.82Z" fill="#ff00ff"/><path d="M439.21 132.48L442.97 130.56L442.97 134.40Z" fill="#ff00ff"/><path d="M439.21 129.06L442.97 127.14L442.97 130.98Z" fill="#ff00ff"/><path d="M439.21 125.64L442.97 123.72L442.97 127.56Z" fill="#ff00ff"/><path d="M439.21 122.22L442.97 120.30L442.97 124.14Z" fill="#ff00ff"/><path d="M443.45 118.80L439.69 116.88L439.69 120.72Z" fill="#ff9900"/><path d="M441.33 113.26L443.52 117.09L439.14 117.09Z" fill="#0000ff"/><rect x="439.86" y="110.49" width="2.94" height="2.94" fill="#ff0000"/><circle cx="441.33" cy="108.54" r="1.33" fill="#000000"/><path d="M445.94 153.00H449.01M447.48 151.46V154.54" stroke="#222222" stroke-width="0.55" fill="none"/><path d="M445.35 149.58L449.12 147.66L449.12 151.50Z" fill="#ff00ff"/><path d="M445.35 146.16L449.12 144.24L449.12 148.08Z" fill="#ff00ff"/><path d="M445.35 142.74L449.12 140.82L449.12 144.66Z" fill="#ff00ff"/><path d="M445.35 139.32L449.12 137.40L449.12 141.24Z" fill="#ff00ff"/><path d="M445.35 135.90L449.12 133.98L449.12 137.82Z" fill="#ff00ff"/><path d="M445.35 132.48L449.12 130.56L449.12 134.40Z" fill="#ff00ff"/><path d="M445.35 129.06L449.12 127.14L449.12 130.98Z" fill="#ff00ff"/><path d="M449.60 125.64L445.83 123.72L445.83 127.56Z" fill="#ff9900"/><path d="M447.48 120.10L449.66 123.93L445.29 123.93Z" fill="#0000ff"/><path d="M447.48 116.82L449.53 118.80L447.48 120.78L445.42 118.80Z" fill="#5fcc5f"/><rect x="446.00" y="113.91" width="2.94" height="2.94" fill="#ff0000"/><circle cx="447.48" cy="111.96" r="1.33" fill="#000000"/><path d="M452.08 153.00H455.16M453.62 151.46V154.54" stroke="#222222" stroke-width="0.55" fill="none"/><path d="M451.50 149.58L455.26 147.66L455.26 151.50Z" fill="#ff00ff"/><path d="M451.50 146.16L455.26 144.24L455.26 148.08Z" fill="#ff00ff"/><path d="M451.50 142.74L455.26 140.82L455.26 144.66Z" fill="#ff00ff"/><path d="M451.50 139.32L455.26 137.40L455.26 141.24Z" fill="#ff00ff"/><path d="M451.50 135.90L455.26 133.98L455.26 137.82Z" fill="#ff00ff"/><path d="M451.50 132.48L455.26 130.56L455.26 134.40Z" fill="#ff00ff"/><path d="M453.62 126.94L455.81 130.77L451.43 130.77Z" fill="#0000ff"/><circle cx="453.62" cy="125.64" r="1.33" fill="#000000"/><circle cx="453.62" cy="122.22" r="1.33" fill="#000000"/><path d="M458.23 153.00H461.30M459.76 151.46V154.54" stroke="#222222" stroke-width="0.55" fill="none"/><path d="M457.64 149.58L461.41 147.66L461.41 151.50Z" fill="#ff00ff"/><path d="M457.64 146.16L461.41 144.24L461.41 148.08Z" fill="#ff00ff"/><path d="M457.64 142.74L461.41 140.82L461.41 144.66Z" fill="#ff00ff"/><path d="M461.89 139.32L458.12 137.40L458.12 141.24Z" fill="#ff9900"/><path d="M459.76 133.78L461.95 137.61L457.58 137.61Z" fill="#0000ff"/><path d="M459.76 130.50L461.82 132.48L459.76 134.46L457.71 132.48Z" fill="#5fcc5f"/><circle cx="459.76" cy="129.06" r="1.33" fill="#000000"/><path d="M464.37 153.00H467.45M465.91 151.46V154.54" stroke="#222222" stroke-width="0.55" fill="none"/><path d="M463.79 149.58L467.55 147.66L467.55 151.50Z" fill="#ff00ff"/><path d="M463.79 146.16L467.55 144.24L467.55 148.08Z" fill="#ff00ff"/><path d="M468.03 142.74L464.27 140.82L464.27 144.66Z" fill="#ff9900"/><path d="M465.91 137.20L468.10 141.03L463.72 141.03Z" fill="#0000ff"/><path d="M465.91 133.92L467.96 135.90L465.91 137.88L463.86 135.90Z" fill="#5fcc5f"/><circle cx="465.91" cy="132.48" r="1.33" fill="#000000"/><path d="M470.52 153.00H473.59M472.06 151.46V154.54" stroke="#222222" stroke-width="0.55" fill="none"/><path d="M469.93 149.58L473.70 147.66L473.70 151.50Z" fill="#ff00ff"/><path d="M469.93 146.16L473.70 144.24L473.70 148.08Z" fill="#ff00ff"/><path d="M469.93 142.74L473.70 140.82L473.70 144.66Z" fill="#ff00ff"/><path d="M474.18 139.32L470.41 137.40L470.41 141.24Z" fill="#ff9900"/><path d="M472.06 133.78L474.24 137.61L469.87 137.61Z" fill="#0000ff"/><path d="M472.06 130.50L474.11 132.48L472.06 134.46L470.00 132.48Z" fill="#5fcc5f"/><circle cx="472.06" cy="129.06" r="1.33" fill="#000000"/><path d="M476.66 153.00H479.74M478.20 151.46V154.54" stroke="#222222" stroke-width="0.55" fill="none"/><path d="M476.08 149.58L479.84 147.66L479.84 151.50Z" fill="#ff00ff"/><path d="M476.08 146.16L479.84 144.24L479.84 148.08Z" fill="#ff00ff"/><path d="M478.20 140.62L480.39 144.45L476.01 144.45Z" fill="#0000ff"/><circle cx="478.20" cy="139.32" r="1.33" fill="#000000"/><path d="M482.81 153.00H485.88M484.35 151.46V154.54" stroke="#222222" stroke-width="0.55" fill="none"/><path d="M482.22 149.58L485.99 147.66L485.99 151.50Z" fill="#ff00ff"/><path d="M482.22 146.16L485.99 144.24L485.99 148.08Z" fill="#ff00ff"/><path d="M486.47 142.74L482.70 140.82L482.70 144.66Z" fill="#ff9900"/><path d="M488.37 153.00L492.13 151.08L492.13 154.92Z" fill="#ff00ff"/><path d="M490.49 147.46L492.68 151.29L488.30 151.29Z" fill="#0000ff"/><circle cx="490.49" cy="146.16" r="1.33" fill="#000000"/><path d="M494.51 153.00L498.28 151.08L498.28 154.92Z" fill="#ff00ff"/><path d="M494.51 149.58L498.28 147.66L498.28 151.50Z" fill="#ff00ff"/><path d="M496.63 144.04L498.82 147.87L494.45 147.87Z" fill="#0000ff"/><rect x="495.16" y="141.27" width="2.94" height="2.94" fill="#ff0000"/><circle cx="496.63" cy="139.32" r="1.33" fill="#000000"/><path d="M500.66 153.00L504.42 151.08L504.42 154.92Z" fill="#ff00ff"/><path d="M502.78 147.46L504.97 151.29L500.59 151.29Z" fill="#0000ff"/><circle cx="502.78" cy="146.16" r="1.33" fill="#000000"/><path d="M506.80 153.00L510.57 151.08L510.57 154.92Z" fill="#ff00ff"/><path d="M506.80 149.58L510.57 147.66L510.57 151.50Z" fill="#ff00ff"/><path d="M508.93 144.04L511.11 147.87L506.74 147.87Z" fill="#0000ff"/><circle cx="508.93" cy="142.74" r="1.33" fill="#000000"/><path d="M512.95 153.00L516.71 151.08L516.71 154.92Z" fill="#ff00ff"/><path d="M515.07 151.56L516.95 148.04L513.19 148.04Z" fill="#9933cc"/><path d="M512.95 146.16L516.71 144.24L516.71 148.08Z" fill="#ff00ff"/><path d="M515.07 140.62L517.26 144.45L512.88 144.45Z" fill="#0000ff"/><circle cx="515.07" cy="139.32" r="1.33" fill="#000000"/><path d="M519.09 153.00L522.86 151.08L522.86 154.92Z" fill="#ff00ff"/><path d="M521.22 147.46L523.40 151.29L519.03 151.29Z" fill="#0000ff"/><circle cx="521.22" cy="146.16" r="1.33" fill="#000000"/><path d="M525.24 153.00L529.00 151.08L529.00 154.92Z" fill="#ff00ff"/><path d="M525.24 149.58L529.00 147.66L529.00 151.50Z" fill="#ff00ff"/><path d="M527.36 144.04L529.55 147.87L525.17 147.87Z" fill="#0000ff"/><circle cx="527.36" cy="142.74" r="1.33" fill="#000000"/><path d="M531.38 153.00L535.15 151.08L535.15 154.92Z" fill="#ff00ff"/><path d="M533.50 147.46L535.69 151.29L531.32 151.29Z" fill="#0000ff"/><rect x="532.03" y="144.69" width="2.94" height="2.94" fill="#ff0000"/><circle cx="533.50" cy="142.74" r="1.33" fill="#000000"/><path d="M576.5 148.3V24.2H796.8V148.3" fill="none" stroke="#c8c8c8" stroke-width="1"/><path d="M576.5 148.3H796.8" fill="none" stroke="#b0b0b0" stroke-width="1"/><path d="M583.20 148.3v2" stroke="#b0b0b0" stroke-width="0.8"/><text x="583.20" y="158.4" font-size="7.1" text-anchor="middle" font-weight="normal" fill="#111" >0.0</text><path d="M615.06 148.3v2" stroke="#b0b0b0" stroke-width="0.8"/><text x="615.06" y="158.4" font-size="7.1" text-anchor="middle" font-weight="normal" fill="#111" >0.3</text><path d="M646.92 148.3v2" stroke="#b0b0b0" stroke-width="0.8"/><text x="646.92" y="158.4" font-size="7.1" text-anchor="middle" font-weight="normal" fill="#111" >0.6</text><path d="M678.78 148.3v2" stroke="#b0b0b0" stroke-width="0.8"/><text x="678.78" y="158.4" font-size="7.1" text-anchor="middle" font-weight="normal" fill="#111" >0.9</text><path d="M710.64 148.3v2" stroke="#b0b0b0" stroke-width="0.8"/><text x="710.64" y="158.4" font-size="7.1" text-anchor="middle" font-weight="normal" fill="#111" >1.2</text><path d="M742.50 148.3v2" stroke="#b0b0b0" stroke-width="0.8"/><text x="742.50" y="158.4" font-size="7.1" text-anchor="middle" font-weight="normal" fill="#111" >1.5</text><path d="M774.36 148.3v2" stroke="#b0b0b0" stroke-width="0.8"/><text x="774.36" y="158.4" font-size="7.1" text-anchor="middle" font-weight="normal" fill="#111" >1.8</text><text x="686.7" y="168" font-size="7" text-anchor="middle" font-weight="normal" fill="#000" >Relative kinship</text><text x="570" y="182.3" font-size="6.7" text-anchor="start" font-weight="normal" fill="#000" >Each symbol represents up to 10 observations.</text><text x="740.4" y="34.0" font-size="7.2" text-anchor="middle" font-weight="normal" fill="#000" >Breeding (registration) periods</text><circle cx="752.90" cy="46.40" r="2.03" fill="#000000"/><text x="757.9" y="48.379999999999995" font-size="6.0" text-anchor="start" font-weight="normal" fill="#000" >1905-1970</text><rect x="751.25" y="53.55" width="3.31" height="3.31" fill="#ff0000"/><text x="757.9" y="57.18" font-size="6.0" text-anchor="start" font-weight="normal" fill="#000" >1971-1980</text><path d="M752.90 60.27L755.21 62.50L752.90 64.73L750.59 62.50Z" fill="#5fcc5f"/><text x="757.9" y="64.48" font-size="6.0" text-anchor="start" font-weight="normal" fill="#000" >1981-1990</text><path d="M752.90 68.31L755.36 72.62L750.44 72.62Z" fill="#0000ff"/><text x="757.9" y="72.68" font-size="6.0" text-anchor="start" font-weight="normal" fill="#000" >1991-2000</text><path d="M755.29 78.60L751.05 76.45L751.05 80.75Z" fill="#ff9900"/><text x="757.9" y="80.58" font-size="6.0" text-anchor="start" font-weight="normal" fill="#000" >2001-2010</text><path d="M750.51 86.50L754.75 84.35L754.75 88.65Z" fill="#ff00ff"/><text x="757.9" y="88.48" font-size="6.0" text-anchor="start" font-weight="normal" fill="#000" >2011-2018</text><path d="M583.50 144.94L585.42 148.30L581.58 148.30Z" fill="#0000ff"/><path d="M586.95 146.80L590.25 145.12L590.25 148.48Z" fill="#ff00ff"/><path d="M592.26 146.80L595.56 145.12L595.56 148.48Z" fill="#ff00ff"/><path d="M595.98 143.80L592.68 142.12L592.68 145.48Z" fill="#ff9900"/><path d="M594.12 138.94L596.04 142.30L592.20 142.30Z" fill="#0000ff"/><path d="M594.12 136.06L595.92 137.80L594.12 139.54L592.32 137.80Z" fill="#5fcc5f"/><rect x="592.83" y="133.51" width="2.58" height="2.58" fill="#ff0000"/><path d="M597.57 146.80L600.87 145.12L600.87 148.48Z" fill="#ff00ff"/><path d="M597.57 143.80L600.87 142.12L600.87 145.48Z" fill="#ff00ff"/><path d="M597.57 140.80L600.87 139.12L600.87 142.48Z" fill="#ff00ff"/><path d="M601.29 137.80L597.99 136.12L597.99 139.48Z" fill="#ff9900"/><path d="M599.43 132.94L601.35 136.30L597.51 136.30Z" fill="#0000ff"/><path d="M599.43 130.06L601.23 131.80L599.43 133.54L597.63 131.80Z" fill="#5fcc5f"/><rect x="598.14" y="127.51" width="2.58" height="2.58" fill="#ff0000"/><circle cx="599.43" cy="125.80" r="1.17" fill="#000000"/><path d="M602.88 146.80L606.18 145.12L606.18 148.48Z" fill="#ff00ff"/><path d="M602.88 143.80L606.18 142.12L606.18 145.48Z" fill="#ff00ff"/><path d="M602.88 140.80L606.18 139.12L606.18 142.48Z" fill="#ff00ff"/><path d="M602.88 137.80L606.18 136.12L606.18 139.48Z" fill="#ff00ff"/><path d="M602.88 134.80L606.18 133.12L606.18 136.48Z" fill="#ff00ff"/><path d="M602.88 131.80L606.18 130.12L606.18 133.48Z" fill="#ff00ff"/><path d="M602.88 128.80L606.18 127.12L606.18 130.48Z" fill="#ff00ff"/><path d="M606.60 125.80L603.30 124.12L603.30 127.48Z" fill="#ff9900"/><path d="M604.74 120.94L606.66 124.30L602.82 124.30Z" fill="#0000ff"/><path d="M604.74 117.94L606.66 121.30L602.82 121.30Z" fill="#0000ff"/><path d="M604.74 114.94L606.66 118.30L602.82 118.30Z" fill="#0000ff"/><path d="M604.74 112.06L606.54 113.80L604.74 115.54L602.94 113.80Z" fill="#5fcc5f"/><rect x="603.45" y="109.51" width="2.58" height="2.58" fill="#ff0000"/><circle cx="604.74" cy="107.80" r="1.17" fill="#000000"/><path d="M608.19 146.80L611.49 145.12L611.49 148.48Z" fill="#ff00ff"/><path d="M608.19 143.80L611.49 142.12L611.49 145.48Z" fill="#ff00ff"/><path d="M608.19 140.80L611.49 139.12L611.49 142.48Z" fill="#ff00ff"/><path d="M608.19 137.80L611.49 136.12L611.49 139.48Z" fill="#ff00ff"/><path d="M608.19 134.80L611.49 133.12L611.49 136.48Z" fill="#ff00ff"/><path d="M608.19 131.80L611.49 130.12L611.49 133.48Z" fill="#ff00ff"/><path d="M608.19 128.80L611.49 127.12L611.49 130.48Z" fill="#ff00ff"/><path d="M608.19 125.80L611.49 124.12L611.49 127.48Z" fill="#ff00ff"/><path d="M608.19 122.80L611.49 121.12L611.49 124.48Z" fill="#ff00ff"/><path d="M608.19 119.80L611.49 118.12L611.49 121.48Z" fill="#ff00ff"/><path d="M608.19 116.80L611.49 115.12L611.49 118.48Z" fill="#ff00ff"/><path d="M608.19 113.80L611.49 112.12L611.49 115.48Z" fill="#ff00ff"/><path d="M611.91 110.80L608.61 109.12L608.61 112.48Z" fill="#ff9900"/><path d="M611.91 107.80L608.61 106.12L608.61 109.48Z" fill="#ff9900"/><path d="M611.91 104.80L608.61 103.12L608.61 106.48Z" fill="#ff9900"/><path d="M611.91 101.80L608.61 100.12L608.61 103.48Z" fill="#ff9900"/><path d="M610.05 96.94L611.97 100.30L608.13 100.30Z" fill="#0000ff"/><path d="M610.05 93.94L611.97 97.30L608.13 97.30Z" fill="#0000ff"/><path d="M610.05 91.06L611.85 92.80L610.05 94.54L608.25 92.80Z" fill="#5fcc5f"/><path d="M610.05 88.06L611.85 89.80L610.05 91.54L608.25 89.80Z" fill="#5fcc5f"/><rect x="608.76" y="85.51" width="2.58" height="2.58" fill="#ff0000"/><circle cx="610.05" cy="83.80" r="1.17" fill="#000000"/><path d="M613.50 146.80L616.80 145.12L616.80 148.48Z" fill="#ff00ff"/><path d="M613.50 143.80L616.80 142.12L616.80 145.48Z" fill="#ff00ff"/><path d="M613.50 140.80L616.80 139.12L616.80 142.48Z" fill="#ff00ff"/><path d="M613.50 137.80L616.80 136.12L616.80 139.48Z" fill="#ff00ff"/><path d="M613.50 134.80L616.80 133.12L616.80 136.48Z" fill="#ff00ff"/><path d="M613.50 131.80L616.80 130.12L616.80 133.48Z" fill="#ff00ff"/><path d="M613.50 128.80L616.80 127.12L616.80 130.48Z" fill="#ff00ff"/><path d="M613.50 125.80L616.80 124.12L616.80 127.48Z" fill="#ff00ff"/><path d="M613.50 122.80L616.80 121.12L616.80 124.48Z" fill="#ff00ff"/><path d="M613.50 119.80L616.80 118.12L616.80 121.48Z" fill="#ff00ff"/><path d="M613.50 116.80L616.80 115.12L616.80 118.48Z" fill="#ff00ff"/><path d="M613.50 113.80L616.80 112.12L616.80 115.48Z" fill="#ff00ff"/><path d="M617.22 110.80L613.92 109.12L613.92 112.48Z" fill="#ff9900"/><path d="M617.22 107.80L613.92 106.12L613.92 109.48Z" fill="#ff9900"/><path d="M617.22 104.80L613.92 103.12L613.92 106.48Z" fill="#ff9900"/><path d="M617.22 101.80L613.92 100.12L613.92 103.48Z" fill="#ff9900"/><path d="M617.22 98.80L613.92 97.12L613.92 100.48Z" fill="#ff9900"/><path d="M617.22 95.80L613.92 94.12L613.92 97.48Z" fill="#ff9900"/><path d="M615.36 90.94L617.28 94.30L613.44 94.30Z" fill="#0000ff"/><path d="M615.36 87.94L617.28 91.30L613.44 91.30Z" fill="#0000ff"/><path d="M615.36 84.94L617.28 88.30L613.44 88.30Z" fill="#0000ff"/><path d="M615.36 82.06L617.16 83.80L615.36 85.54L613.56 83.80Z" fill="#5fcc5f"/><rect x="614.07" y="79.51" width="2.58" height="2.58" fill="#ff0000"/><circle cx="615.36" cy="77.80" r="1.17" fill="#000000"/><path d="M618.81 146.80L622.11 145.12L622.11 148.48Z" fill="#ff00ff"/><path d="M618.81 143.80L622.11 142.12L622.11 145.48Z" fill="#ff00ff"/><path d="M618.81 140.80L622.11 139.12L622.11 142.48Z" fill="#ff00ff"/><path d="M618.81 137.80L622.11 136.12L622.11 139.48Z" fill="#ff00ff"/><path d="M618.81 134.80L622.11 133.12L622.11 136.48Z" fill="#ff00ff"/><path d="M618.81 131.80L622.11 130.12L622.11 133.48Z" fill="#ff00ff"/><path d="M618.81 128.80L622.11 127.12L622.11 130.48Z" fill="#ff00ff"/><path d="M618.81 125.80L622.11 124.12L622.11 127.48Z" fill="#ff00ff"/><path d="M618.81 122.80L622.11 121.12L622.11 124.48Z" fill="#ff00ff"/><path d="M618.81 119.80L622.11 118.12L622.11 121.48Z" fill="#ff00ff"/><path d="M618.81 116.80L622.11 115.12L622.11 118.48Z" fill="#ff00ff"/><path d="M622.53 113.80L619.23 112.12L619.23 115.48Z" fill="#ff9900"/><path d="M622.53 110.80L619.23 109.12L619.23 112.48Z" fill="#ff9900"/><path d="M622.53 107.80L619.23 106.12L619.23 109.48Z" fill="#ff9900"/><path d="M622.53 104.80L619.23 103.12L619.23 106.48Z" fill="#ff9900"/><path d="M622.53 101.80L619.23 100.12L619.23 103.48Z" fill="#ff9900"/><path d="M622.53 98.80L619.23 97.12L619.23 100.48Z" fill="#ff9900"/><path d="M622.53 95.80L619.23 94.12L619.23 97.48Z" fill="#ff9900"/><path d="M622.53 92.80L619.23 91.12L619.23 94.48Z" fill="#ff9900"/><path d="M622.53 89.80L619.23 88.12L619.23 91.48Z" fill="#ff9900"/><path d="M620.67 84.94L622.59 88.30L618.75 88.30Z" fill="#0000ff"/><path d="M620.67 81.94L622.59 85.30L618.75 85.30Z" fill="#0000ff"/><path d="M620.67 78.94L622.59 82.30L618.75 82.30Z" fill="#0000ff"/><path d="M620.67 75.94L622.59 79.30L618.75 79.30Z" fill="#0000ff"/><path d="M620.67 73.06L622.47 74.80L620.67 76.54L618.87 74.80Z" fill="#5fcc5f"/><rect x="619.38" y="70.51" width="2.58" height="2.58" fill="#ff0000"/><circle cx="620.67" cy="68.80" r="1.17" fill="#000000"/><path d="M624.12 146.80L627.42 145.12L627.42 148.48Z" fill="#ff00ff"/><path d="M624.12 143.80L627.42 142.12L627.42 145.48Z" fill="#ff00ff"/><path d="M624.12 140.80L627.42 139.12L627.42 142.48Z" fill="#ff00ff"/><path d="M624.12 137.80L627.42 136.12L627.42 139.48Z" fill="#ff00ff"/><path d="M624.12 134.80L627.42 133.12L627.42 136.48Z" fill="#ff00ff"/><path d="M624.12 131.80L627.42 130.12L627.42 133.48Z" fill="#ff00ff"/><path d="M624.12 128.80L627.42 127.12L627.42 130.48Z" fill="#ff00ff"/><path d="M624.12 125.80L627.42 124.12L627.42 127.48Z" fill="#ff00ff"/><path d="M624.12 122.80L627.42 121.12L627.42 124.48Z" fill="#ff00ff"/><path d="M624.12 119.80L627.42 118.12L627.42 121.48Z" fill="#ff00ff"/><path d="M624.12 116.80L627.42 115.12L627.42 118.48Z" fill="#ff00ff"/><path d="M624.12 113.80L627.42 112.12L627.42 115.48Z" fill="#ff00ff"/><path d="M624.12 110.80L627.42 109.12L627.42 112.48Z" fill="#ff00ff"/><path d="M627.84 107.80L624.54 106.12L624.54 109.48Z" fill="#ff9900"/><path d="M627.84 104.80L624.54 103.12L624.54 106.48Z" fill="#ff9900"/><path d="M627.84 101.80L624.54 100.12L624.54 103.48Z" fill="#ff9900"/><path d="M627.84 98.80L624.54 97.12L624.54 100.48Z" fill="#ff9900"/><path d="M627.84 95.80L624.54 94.12L624.54 97.48Z" fill="#ff9900"/><path d="M627.84 92.80L624.54 91.12L624.54 94.48Z" fill="#ff9900"/><path d="M627.84 89.80L624.54 88.12L624.54 91.48Z" fill="#ff9900"/><path d="M627.84 86.80L624.54 85.12L624.54 88.48Z" fill="#ff9900"/><path d="M627.84 83.80L624.54 82.12L624.54 85.48Z" fill="#ff9900"/><path d="M627.84 80.80L624.54 79.12L624.54 82.48Z" fill="#ff9900"/><path d="M625.98 75.94L627.90 79.30L624.06 79.30Z" fill="#0000ff"/><path d="M625.98 72.94L627.90 76.30L624.06 76.30Z" fill="#0000ff"/><path d="M625.98 69.94L627.90 73.30L624.06 73.30Z" fill="#0000ff"/><path d="M625.98 66.94L627.90 70.30L624.06 70.30Z" fill="#0000ff"/><path d="M625.98 63.94L627.90 67.30L624.06 67.30Z" fill="#0000ff"/><path d="M625.98 60.94L627.90 64.30L624.06 64.30Z" fill="#0000ff"/><path d="M625.98 58.06L627.78 59.80L625.98 61.54L624.18 59.80Z" fill="#5fcc5f"/><rect x="624.69" y="55.51" width="2.58" height="2.58" fill="#ff0000"/><circle cx="625.98" cy="53.80" r="1.17" fill="#000000"/><path d="M629.43 146.80L632.73 145.12L632.73 148.48Z" fill="#ff00ff"/><path d="M629.43 143.80L632.73 142.12L632.73 145.48Z" fill="#ff00ff"/><path d="M629.43 140.80L632.73 139.12L632.73 142.48Z" fill="#ff00ff"/><path d="M629.43 137.80L632.73 136.12L632.73 139.48Z" fill="#ff00ff"/><path d="M629.43 134.80L632.73 133.12L632.73 136.48Z" fill="#ff00ff"/><path d="M629.43 131.80L632.73 130.12L632.73 133.48Z" fill="#ff00ff"/><path d="M629.43 128.80L632.73 127.12L632.73 130.48Z" fill="#ff00ff"/><path d="M629.43 125.80L632.73 124.12L632.73 127.48Z" fill="#ff00ff"/><path d="M629.43 122.80L632.73 121.12L632.73 124.48Z" fill="#ff00ff"/><path d="M629.43 119.80L632.73 118.12L632.73 121.48Z" fill="#ff00ff"/><path d="M629.43 116.80L632.73 115.12L632.73 118.48Z" fill="#ff00ff"/><path d="M629.43 113.80L632.73 112.12L632.73 115.48Z" fill="#ff00ff"/><path d="M629.43 110.80L632.73 109.12L632.73 112.48Z" fill="#ff00ff"/><path d="M629.43 107.80L632.73 106.12L632.73 109.48Z" fill="#ff00ff"/><path d="M629.43 104.80L632.73 103.12L632.73 106.48Z" fill="#ff00ff"/><path d="M633.15 101.80L629.85 100.12L629.85 103.48Z" fill="#ff9900"/><path d="M633.15 98.80L629.85 97.12L629.85 100.48Z" fill="#ff9900"/><path d="M633.15 95.80L629.85 94.12L629.85 97.48Z" fill="#ff9900"/><path d="M633.15 92.80L629.85 91.12L629.85 94.48Z" fill="#ff9900"/><path d="M633.15 89.80L629.85 88.12L629.85 91.48Z" fill="#ff9900"/><path d="M633.15 86.80L629.85 85.12L629.85 88.48Z" fill="#ff9900"/><path d="M633.15 83.80L629.85 82.12L629.85 85.48Z" fill="#ff9900"/><path d="M633.15 80.80L629.85 79.12L629.85 82.48Z" fill="#ff9900"/><path d="M633.15 77.80L629.85 76.12L629.85 79.48Z" fill="#ff9900"/><path d="M631.29 72.94L633.21 76.30L629.37 76.30Z" fill="#0000ff"/><path d="M631.29 69.94L633.21 73.30L629.37 73.30Z" fill="#0000ff"/><path d="M631.29 66.94L633.21 70.30L629.37 70.30Z" fill="#0000ff"/><path d="M631.29 63.94L633.21 67.30L629.37 67.30Z" fill="#0000ff"/><path d="M631.29 60.94L633.21 64.30L629.37 64.30Z" fill="#0000ff"/><path d="M631.29 58.06L633.09 59.80L631.29 61.54L629.49 59.80Z" fill="#5fcc5f"/><rect x="630.00" y="55.51" width="2.58" height="2.58" fill="#ff0000"/><circle cx="631.29" cy="53.80" r="1.17" fill="#000000"/><path d="M634.74 146.80L638.04 145.12L638.04 148.48Z" fill="#ff00ff"/><path d="M634.74 143.80L638.04 142.12L638.04 145.48Z" fill="#ff00ff"/><path d="M634.74 140.80L638.04 139.12L638.04 142.48Z" fill="#ff00ff"/><path d="M634.74 137.80L638.04 136.12L638.04 139.48Z" fill="#ff00ff"/><path d="M634.74 134.80L638.04 133.12L638.04 136.48Z" fill="#ff00ff"/><path d="M634.74 131.80L638.04 130.12L638.04 133.48Z" fill="#ff00ff"/><path d="M634.74 128.80L638.04 127.12L638.04 130.48Z" fill="#ff00ff"/><path d="M634.74 125.80L638.04 124.12L638.04 127.48Z" fill="#ff00ff"/><path d="M634.74 122.80L638.04 121.12L638.04 124.48Z" fill="#ff00ff"/><path d="M634.74 119.80L638.04 118.12L638.04 121.48Z" fill="#ff00ff"/><path d="M634.74 116.80L638.04 115.12L638.04 118.48Z" fill="#ff00ff"/><path d="M634.74 113.80L638.04 112.12L638.04 115.48Z" fill="#ff00ff"/><path d="M634.74 110.80L638.04 109.12L638.04 112.48Z" fill="#ff00ff"/><path d="M634.74 107.80L638.04 106.12L638.04 109.48Z" fill="#ff00ff"/><path d="M634.74 104.80L638.04 103.12L638.04 106.48Z" fill="#ff00ff"/><path d="M634.74 101.80L638.04 100.12L638.04 103.48Z" fill="#ff00ff"/><path d="M634.74 98.80L638.04 97.12L638.04 100.48Z" fill="#ff00ff"/><path d="M634.74 95.80L638.04 94.12L638.04 97.48Z" fill="#ff00ff"/><path d="M634.74 92.80L638.04 91.12L638.04 94.48Z" fill="#ff00ff"/><path d="M634.74 89.80L638.04 88.12L638.04 91.48Z" fill="#ff00ff"/><path d="M638.46 86.80L635.16 85.12L635.16 88.48Z" fill="#ff9900"/><path d="M638.46 83.80L635.16 82.12L635.16 85.48Z" fill="#ff9900"/><path d="M638.46 80.80L635.16 79.12L635.16 82.48Z" fill="#ff9900"/><path d="M638.46 77.80L635.16 76.12L635.16 79.48Z" fill="#ff9900"/><path d="M638.46 74.80L635.16 73.12L635.16 76.48Z" fill="#ff9900"/><path d="M638.46 71.80L635.16 70.12L635.16 73.48Z" fill="#ff9900"/><path d="M638.46 68.80L635.16 67.12L635.16 70.48Z" fill="#ff9900"/><path d="M638.46 65.80L635.16 64.12L635.16 67.48Z" fill="#ff9900"/><path d="M638.46 62.80L635.16 61.12L635.16 64.48Z" fill="#ff9900"/><path d="M638.46 59.80L635.16 58.12L635.16 61.48Z" fill="#ff9900"/><path d="M638.46 56.80L635.16 55.12L635.16 58.48Z" fill="#ff9900"/><path d="M638.46 53.80L635.16 52.12L635.16 55.48Z" fill="#ff9900"/><path d="M636.60 48.94L638.52 52.30L634.68 52.30Z" fill="#0000ff"/><path d="M636.60 45.94L638.52 49.30L634.68 49.30Z" fill="#0000ff"/><path d="M636.60 42.94L638.52 46.30L634.68 46.30Z" fill="#0000ff"/><path d="M636.60 39.94L638.52 43.30L634.68 43.30Z" fill="#0000ff"/><path d="M636.60 36.94L638.52 40.30L634.68 40.30Z" fill="#0000ff"/><path d="M636.60 34.06L638.40 35.80L636.60 37.54L634.80 35.80Z" fill="#5fcc5f"/><rect x="635.31" y="31.51" width="2.58" height="2.58" fill="#ff0000"/><circle cx="636.60" cy="29.80" r="1.17" fill="#000000"/><path d="M640.05 146.80L643.35 145.12L643.35 148.48Z" fill="#ff00ff"/><path d="M640.05 143.80L643.35 142.12L643.35 145.48Z" fill="#ff00ff"/><path d="M640.05 140.80L643.35 139.12L643.35 142.48Z" fill="#ff00ff"/><path d="M640.05 137.80L643.35 136.12L643.35 139.48Z" fill="#ff00ff"/><path d="M640.05 134.80L643.35 133.12L643.35 136.48Z" fill="#ff00ff"/><path d="M640.05 131.80L643.35 130.12L643.35 133.48Z" fill="#ff00ff"/><path d="M640.05 128.80L643.35 127.12L643.35 130.48Z" fill="#ff00ff"/><path d="M640.05 125.80L643.35 124.12L643.35 127.48Z" fill="#ff00ff"/><path d="M640.05 122.80L643.35 121.12L643.35 124.48Z" fill="#ff00ff"/><path d="M640.05 119.80L643.35 118.12L643.35 121.48Z" fill="#ff00ff"/><path d="M640.05 116.80L643.35 115.12L643.35 118.48Z" fill="#ff00ff"/><path d="M640.05 113.80L643.35 112.12L643.35 115.48Z" fill="#ff00ff"/><path d="M640.05 110.80L643.35 109.12L643.35 112.48Z" fill="#ff00ff"/><path d="M640.05 107.80L643.35 106.12L643.35 109.48Z" fill="#ff00ff"/><path d="M640.05 104.80L643.35 103.12L643.35 106.48Z" fill="#ff00ff"/><path d="M640.05 101.80L643.35 100.12L643.35 103.48Z" fill="#ff00ff"/><path d="M640.05 98.80L643.35 97.12L643.35 100.48Z" fill="#ff00ff"/><path d="M640.05 95.80L643.35 94.12L643.35 97.48Z" fill="#ff00ff"/><path d="M640.05 92.80L643.35 91.12L643.35 94.48Z" fill="#ff00ff"/><path d="M640.05 89.80L643.35 88.12L643.35 91.48Z" fill="#ff00ff"/><path d="M640.05 86.80L643.35 85.12L643.35 88.48Z" fill="#ff00ff"/><path d="M643.77 83.80L640.47 82.12L640.47 85.48Z" fill="#ff9900"/><path d="M643.77 80.80L640.47 79.12L640.47 82.48Z" fill="#ff9900"/><path d="M643.77 77.80L640.47 76.12L640.47 79.48Z" fill="#ff9900"/><path d="M643.77 74.80L640.47 73.12L640.47 76.48Z" fill="#ff9900"/><path d="M643.77 71.80L640.47 70.12L640.47 73.48Z" fill="#ff9900"/><path d="M643.77 68.80L640.47 67.12L640.47 70.48Z" fill="#ff9900"/><path d="M643.77 65.80L640.47 64.12L640.47 67.48Z" fill="#ff9900"/><path d="M643.77 62.80L640.47 61.12L640.47 64.48Z" fill="#ff9900"/><path d="M643.77 59.80L640.47 58.12L640.47 61.48Z" fill="#ff9900"/><path d="M643.77 56.80L640.47 55.12L640.47 58.48Z" fill="#ff9900"/><path d="M643.77 53.80L640.47 52.12L640.47 55.48Z" fill="#ff9900"/><path d="M643.77 50.80L640.47 49.12L640.47 52.48Z" fill="#ff9900"/><path d="M641.91 45.94L643.83 49.30L639.99 49.30Z" fill="#0000ff"/><path d="M641.91 42.94L643.83 46.30L639.99 46.30Z" fill="#0000ff"/><path d="M641.91 39.94L643.83 43.30L639.99 43.30Z" fill="#0000ff"/><path d="M641.91 36.94L643.83 40.30L639.99 40.30Z" fill="#0000ff"/><path d="M641.91 34.06L643.71 35.80L641.91 37.54L640.11 35.80Z" fill="#5fcc5f"/><path d="M645.36 146.80L648.66 145.12L648.66 148.48Z" fill="#ff00ff"/><path d="M645.36 143.80L648.66 142.12L648.66 145.48Z" fill="#ff00ff"/><path d="M645.36 140.80L648.66 139.12L648.66 142.48Z" fill="#ff00ff"/><path d="M645.36 137.80L648.66 136.12L648.66 139.48Z" fill="#ff00ff"/><path d="M645.36 134.80L648.66 133.12L648.66 136.48Z" fill="#ff00ff"/><path d="M645.36 131.80L648.66 130.12L648.66 133.48Z" fill="#ff00ff"/><path d="M645.36 128.80L648.66 127.12L648.66 130.48Z" fill="#ff00ff"/><path d="M645.36 125.80L648.66 124.12L648.66 127.48Z" fill="#ff00ff"/><path d="M645.36 122.80L648.66 121.12L648.66 124.48Z" fill="#ff00ff"/><path d="M645.36 119.80L648.66 118.12L648.66 121.48Z" fill="#ff00ff"/><path d="M645.36 116.80L648.66 115.12L648.66 118.48Z" fill="#ff00ff"/><path d="M645.36 113.80L648.66 112.12L648.66 115.48Z" fill="#ff00ff"/><path d="M645.36 110.80L648.66 109.12L648.66 112.48Z" fill="#ff00ff"/><path d="M645.36 107.80L648.66 106.12L648.66 109.48Z" fill="#ff00ff"/><path d="M645.36 104.80L648.66 103.12L648.66 106.48Z" fill="#ff00ff"/><path d="M645.36 101.80L648.66 100.12L648.66 103.48Z" fill="#ff00ff"/><path d="M645.36 98.80L648.66 97.12L648.66 100.48Z" fill="#ff00ff"/><path d="M645.36 95.80L648.66 94.12L648.66 97.48Z" fill="#ff00ff"/><path d="M645.36 92.80L648.66 91.12L648.66 94.48Z" fill="#ff00ff"/><path d="M645.36 89.80L648.66 88.12L648.66 91.48Z" fill="#ff00ff"/><path d="M649.08 86.80L645.78 85.12L645.78 88.48Z" fill="#ff9900"/><path d="M649.08 83.80L645.78 82.12L645.78 85.48Z" fill="#ff9900"/><path d="M649.08 80.80L645.78 79.12L645.78 82.48Z" fill="#ff9900"/><path d="M649.08 77.80L645.78 76.12L645.78 79.48Z" fill="#ff9900"/><path d="M649.08 74.80L645.78 73.12L645.78 76.48Z" fill="#ff9900"/><path d="M649.08 71.80L645.78 70.12L645.78 73.48Z" fill="#ff9900"/><path d="M649.08 68.80L645.78 67.12L645.78 70.48Z" fill="#ff9900"/><path d="M649.08 65.80L645.78 64.12L645.78 67.48Z" fill="#ff9900"/><path d="M649.08 62.80L645.78 61.12L645.78 64.48Z" fill="#ff9900"/><path d="M647.22 57.94L649.14 61.30L645.30 61.30Z" fill="#0000ff"/><path d="M647.22 54.94L649.14 58.30L645.30 58.30Z" fill="#0000ff"/><path d="M647.22 52.06L649.02 53.80L647.22 55.54L645.42 53.80Z" fill="#5fcc5f"/><rect x="645.93" y="49.51" width="2.58" height="2.58" fill="#ff0000"/><circle cx="647.22" cy="47.80" r="1.17" fill="#000000"/><path d="M650.67 146.80L653.97 145.12L653.97 148.48Z" fill="#ff00ff"/><path d="M650.67 143.80L653.97 142.12L653.97 145.48Z" fill="#ff00ff"/><path d="M650.67 140.80L653.97 139.12L653.97 142.48Z" fill="#ff00ff"/><path d="M650.67 137.80L653.97 136.12L653.97 139.48Z" fill="#ff00ff"/><path d="M650.67 134.80L653.97 133.12L653.97 136.48Z" fill="#ff00ff"/><path d="M650.67 131.80L653.97 130.12L653.97 133.48Z" fill="#ff00ff"/><path d="M650.67 128.80L653.97 127.12L653.97 130.48Z" fill="#ff00ff"/><path d="M650.67 125.80L653.97 124.12L653.97 127.48Z" fill="#ff00ff"/><path d="M650.67 122.80L653.97 121.12L653.97 124.48Z" fill="#ff00ff"/><path d="M650.67 119.80L653.97 118.12L653.97 121.48Z" fill="#ff00ff"/><path d="M650.67 116.80L653.97 115.12L653.97 118.48Z" fill="#ff00ff"/><path d="M650.67 113.80L653.97 112.12L653.97 115.48Z" fill="#ff00ff"/><path d="M650.67 110.80L653.97 109.12L653.97 112.48Z" fill="#ff00ff"/><path d="M650.67 107.80L653.97 106.12L653.97 109.48Z" fill="#ff00ff"/><path d="M650.67 104.80L653.97 103.12L653.97 106.48Z" fill="#ff00ff"/><path d="M650.67 101.80L653.97 100.12L653.97 103.48Z" fill="#ff00ff"/><path d="M650.67 98.80L653.97 97.12L653.97 100.48Z" fill="#ff00ff"/><path d="M650.67 95.80L653.97 94.12L653.97 97.48Z" fill="#ff00ff"/><path d="M650.67 92.80L653.97 91.12L653.97 94.48Z" fill="#ff00ff"/><path d="M654.39 89.80L651.09 88.12L651.09 91.48Z" fill="#ff9900"/><path d="M654.39 86.80L651.09 85.12L651.09 88.48Z" fill="#ff9900"/><path d="M654.39 83.80L651.09 82.12L651.09 85.48Z" fill="#ff9900"/><path d="M654.39 80.80L651.09 79.12L651.09 82.48Z" fill="#ff9900"/><path d="M654.39 77.80L651.09 76.12L651.09 79.48Z" fill="#ff9900"/><path d="M654.39 74.80L651.09 73.12L651.09 76.48Z" fill="#ff9900"/><path d="M654.39 71.80L651.09 70.12L651.09 73.48Z" fill="#ff9900"/><path d="M652.53 66.94L654.45 70.30L650.61 70.30Z" fill="#0000ff"/><path d="M652.53 63.94L654.45 67.30L650.61 67.30Z" fill="#0000ff"/><path d="M652.53 61.06L654.33 62.80L652.53 64.54L650.73 62.80Z" fill="#5fcc5f"/><circle cx="652.53" cy="59.80" r="1.17" fill="#000000"/><path d="M655.98 146.80L659.28 145.12L659.28 148.48Z" fill="#ff00ff"/><path d="M655.98 143.80L659.28 142.12L659.28 145.48Z" fill="#ff00ff"/><path d="M655.98 140.80L659.28 139.12L659.28 142.48Z" fill="#ff00ff"/><path d="M655.98 137.80L659.28 136.12L659.28 139.48Z" fill="#ff00ff"/><path d="M655.98 134.80L659.28 133.12L659.28 136.48Z" fill="#ff00ff"/><path d="M655.98 131.80L659.28 130.12L659.28 133.48Z" fill="#ff00ff"/><path d="M655.98 128.80L659.28 127.12L659.28 130.48Z" fill="#ff00ff"/><path d="M655.98 125.80L659.28 124.12L659.28 127.48Z" fill="#ff00ff"/><path d="M655.98 122.80L659.28 121.12L659.28 124.48Z" fill="#ff00ff"/><path d="M655.98 119.80L659.28 118.12L659.28 121.48Z" fill="#ff00ff"/><path d="M655.98 116.80L659.28 115.12L659.28 118.48Z" fill="#ff00ff"/><path d="M655.98 113.80L659.28 112.12L659.28 115.48Z" fill="#ff00ff"/><path d="M655.98 110.80L659.28 109.12L659.28 112.48Z" fill="#ff00ff"/><path d="M655.98 107.80L659.28 106.12L659.28 109.48Z" fill="#ff00ff"/><path d="M655.98 104.80L659.28 103.12L659.28 106.48Z" fill="#ff00ff"/><path d="M655.98 101.80L659.28 100.12L659.28 103.48Z" fill="#ff00ff"/><path d="M655.98 98.80L659.28 97.12L659.28 100.48Z" fill="#ff00ff"/><path d="M655.98 95.80L659.28 94.12L659.28 97.48Z" fill="#ff00ff"/><path d="M655.98 92.80L659.28 91.12L659.28 94.48Z" fill="#ff00ff"/><path d="M655.98 89.80L659.28 88.12L659.28 91.48Z" fill="#ff00ff"/><path d="M659.70 86.80L656.40 85.12L656.40 88.48Z" fill="#ff9900"/><path d="M659.70 83.80L656.40 82.12L656.40 85.48Z" fill="#ff9900"/><path d="M659.70 80.80L656.40 79.12L656.40 82.48Z" fill="#ff9900"/><path d="M659.70 77.80L656.40 76.12L656.40 79.48Z" fill="#ff9900"/><path d="M659.70 74.80L656.40 73.12L656.40 76.48Z" fill="#ff9900"/><path d="M659.70 71.80L656.40 70.12L656.40 73.48Z" fill="#ff9900"/><path d="M659.70 68.80L656.40 67.12L656.40 70.48Z" fill="#ff9900"/><path d="M657.84 63.94L659.76 67.30L655.92 67.30Z" fill="#0000ff"/><path d="M657.84 60.94L659.76 64.30L655.92 64.30Z" fill="#0000ff"/><path d="M657.84 57.94L659.76 61.30L655.92 61.30Z" fill="#0000ff"/><path d="M657.84 55.06L659.64 56.80L657.84 58.54L656.04 56.80Z" fill="#5fcc5f"/><rect x="656.55" y="52.51" width="2.58" height="2.58" fill="#ff0000"/><path d="M661.29 146.80L664.59 145.12L664.59 148.48Z" fill="#ff00ff"/><path d="M661.29 143.80L664.59 142.12L664.59 145.48Z" fill="#ff00ff"/><path d="M661.29 140.80L664.59 139.12L664.59 142.48Z" fill="#ff00ff"/><path d="M661.29 137.80L664.59 136.12L664.59 139.48Z" fill="#ff00ff"/><path d="M661.29 134.80L664.59 133.12L664.59 136.48Z" fill="#ff00ff"/><path d="M661.29 131.80L664.59 130.12L664.59 133.48Z" fill="#ff00ff"/><path d="M661.29 128.80L664.59 127.12L664.59 130.48Z" fill="#ff00ff"/><path d="M661.29 125.80L664.59 124.12L664.59 127.48Z" fill="#ff00ff"/><path d="M661.29 122.80L664.59 121.12L664.59 124.48Z" fill="#ff00ff"/><path d="M661.29 119.80L664.59 118.12L664.59 121.48Z" fill="#ff00ff"/><path d="M661.29 116.80L664.59 115.12L664.59 118.48Z" fill="#ff00ff"/><path d="M661.29 113.80L664.59 112.12L664.59 115.48Z" fill="#ff00ff"/><path d="M661.29 110.80L664.59 109.12L664.59 112.48Z" fill="#ff00ff"/><path d="M661.29 107.80L664.59 106.12L664.59 109.48Z" fill="#ff00ff"/><path d="M661.29 104.80L664.59 103.12L664.59 106.48Z" fill="#ff00ff"/><path d="M661.29 101.80L664.59 100.12L664.59 103.48Z" fill="#ff00ff"/><path d="M661.29 98.80L664.59 97.12L664.59 100.48Z" fill="#ff00ff"/><path d="M661.29 95.80L664.59 94.12L664.59 97.48Z" fill="#ff00ff"/><path d="M665.01 92.80L661.71 91.12L661.71 94.48Z" fill="#ff9900"/><path d="M665.01 89.80L661.71 88.12L661.71 91.48Z" fill="#ff9900"/><path d="M665.01 86.80L661.71 85.12L661.71 88.48Z" fill="#ff9900"/><path d="M665.01 83.80L661.71 82.12L661.71 85.48Z" fill="#ff9900"/><path d="M665.01 80.80L661.71 79.12L661.71 82.48Z" fill="#ff9900"/><path d="M665.01 77.80L661.71 76.12L661.71 79.48Z" fill="#ff9900"/><path d="M665.01 74.80L661.71 73.12L661.71 76.48Z" fill="#ff9900"/><path d="M665.01 71.80L661.71 70.12L661.71 73.48Z" fill="#ff9900"/><path d="M663.15 66.94L665.07 70.30L661.23 70.30Z" fill="#0000ff"/><path d="M663.15 64.06L664.95 65.80L663.15 67.54L661.35 65.80Z" fill="#5fcc5f"/><rect x="661.86" y="61.51" width="2.58" height="2.58" fill="#ff0000"/><circle cx="663.15" cy="59.80" r="1.17" fill="#000000"/><path d="M666.60 146.80L669.90 145.12L669.90 148.48Z" fill="#ff00ff"/><path d="M666.60 143.80L669.90 142.12L669.90 145.48Z" fill="#ff00ff"/><path d="M666.60 140.80L669.90 139.12L669.90 142.48Z" fill="#ff00ff"/><path d="M666.60 137.80L669.90 136.12L669.90 139.48Z" fill="#ff00ff"/><path d="M666.60 134.80L669.90 133.12L669.90 136.48Z" fill="#ff00ff"/><path d="M666.60 131.80L669.90 130.12L669.90 133.48Z" fill="#ff00ff"/><path d="M666.60 128.80L669.90 127.12L669.90 130.48Z" fill="#ff00ff"/><path d="M666.60 125.80L669.90 124.12L669.90 127.48Z" fill="#ff00ff"/><path d="M666.60 122.80L669.90 121.12L669.90 124.48Z" fill="#ff00ff"/><path d="M666.60 119.80L669.90 118.12L669.90 121.48Z" fill="#ff00ff"/><path d="M666.60 116.80L669.90 115.12L669.90 118.48Z" fill="#ff00ff"/><path d="M666.60 113.80L669.90 112.12L669.90 115.48Z" fill="#ff00ff"/><path d="M666.60 110.80L669.90 109.12L669.90 112.48Z" fill="#ff00ff"/><path d="M666.60 107.80L669.90 106.12L669.90 109.48Z" fill="#ff00ff"/><path d="M666.60 104.80L669.90 103.12L669.90 106.48Z" fill="#ff00ff"/><path d="M666.60 101.80L669.90 100.12L669.90 103.48Z" fill="#ff00ff"/><path d="M666.60 98.80L669.90 97.12L669.90 100.48Z" fill="#ff00ff"/><path d="M670.32 95.80L667.02 94.12L667.02 97.48Z" fill="#ff9900"/><path d="M670.32 92.80L667.02 91.12L667.02 94.48Z" fill="#ff9900"/><path d="M670.32 89.80L667.02 88.12L667.02 91.48Z" fill="#ff9900"/><path d="M670.32 86.80L667.02 85.12L667.02 88.48Z" fill="#ff9900"/><path d="M670.32 83.80L667.02 82.12L667.02 85.48Z" fill="#ff9900"/><path d="M670.32 80.80L667.02 79.12L667.02 82.48Z" fill="#ff9900"/><path d="M668.46 75.94L670.38 79.30L666.54 79.30Z" fill="#0000ff"/><path d="M668.46 72.94L670.38 76.30L666.54 76.30Z" fill="#0000ff"/><path d="M668.46 70.06L670.26 71.80L668.46 73.54L666.66 71.80Z" fill="#5fcc5f"/><circle cx="668.46" cy="68.80" r="1.17" fill="#000000"/><path d="M671.91 146.80L675.21 145.12L675.21 148.48Z" fill="#ff00ff"/><path d="M671.91 143.80L675.21 142.12L675.21 145.48Z" fill="#ff00ff"/><path d="M671.91 140.80L675.21 139.12L675.21 142.48Z" fill="#ff00ff"/><path d="M671.91 137.80L675.21 136.12L675.21 139.48Z" fill="#ff00ff"/><path d="M671.91 134.80L675.21 133.12L675.21 136.48Z" fill="#ff00ff"/><path d="M671.91 131.80L675.21 130.12L675.21 133.48Z" fill="#ff00ff"/><path d="M671.91 128.80L675.21 127.12L675.21 130.48Z" fill="#ff00ff"/><path d="M671.91 125.80L675.21 124.12L675.21 127.48Z" fill="#ff00ff"/><path d="M671.91 122.80L675.21 121.12L675.21 124.48Z" fill="#ff00ff"/><path d="M671.91 119.80L675.21 118.12L675.21 121.48Z" fill="#ff00ff"/><path d="M671.91 116.80L675.21 115.12L675.21 118.48Z" fill="#ff00ff"/><path d="M671.91 113.80L675.21 112.12L675.21 115.48Z" fill="#ff00ff"/><path d="M671.91 110.80L675.21 109.12L675.21 112.48Z" fill="#ff00ff"/><path d="M671.91 107.80L675.21 106.12L675.21 109.48Z" fill="#ff00ff"/><path d="M675.63 104.80L672.33 103.12L672.33 106.48Z" fill="#ff9900"/><path d="M675.63 101.80L672.33 100.12L672.33 103.48Z" fill="#ff9900"/><path d="M675.63 98.80L672.33 97.12L672.33 100.48Z" fill="#ff9900"/><path d="M675.63 95.80L672.33 94.12L672.33 97.48Z" fill="#ff9900"/><path d="M675.63 92.80L672.33 91.12L672.33 94.48Z" fill="#ff9900"/><path d="M675.63 89.80L672.33 88.12L672.33 91.48Z" fill="#ff9900"/><path d="M673.77 84.94L675.69 88.30L671.85 88.30Z" fill="#0000ff"/><path d="M673.77 82.06L675.57 83.80L673.77 85.54L671.97 83.80Z" fill="#5fcc5f"/><rect x="672.48" y="79.51" width="2.58" height="2.58" fill="#ff0000"/><circle cx="673.77" cy="77.80" r="1.17" fill="#000000"/><path d="M677.22 146.80L680.52 145.12L680.52 148.48Z" fill="#ff00ff"/><path d="M677.22 143.80L680.52 142.12L680.52 145.48Z" fill="#ff00ff"/><path d="M677.22 140.80L680.52 139.12L680.52 142.48Z" fill="#ff00ff"/><path d="M677.22 137.80L680.52 136.12L680.52 139.48Z" fill="#ff00ff"/><path d="M677.22 134.80L680.52 133.12L680.52 136.48Z" fill="#ff00ff"/><path d="M677.22 131.80L680.52 130.12L680.52 133.48Z" fill="#ff00ff"/><path d="M677.22 128.80L680.52 127.12L680.52 130.48Z" fill="#ff00ff"/><path d="M677.22 125.80L680.52 124.12L680.52 127.48Z" fill="#ff00ff"/><path d="M677.22 122.80L680.52 121.12L680.52 124.48Z" fill="#ff00ff"/><path d="M677.22 119.80L680.52 118.12L680.52 121.48Z" fill="#ff00ff"/><path d="M677.22 116.80L680.52 115.12L680.52 118.48Z" fill="#ff00ff"/><path d="M677.22 113.80L680.52 112.12L680.52 115.48Z" fill="#ff00ff"/><path d="M677.22 110.80L680.52 109.12L680.52 112.48Z" fill="#ff00ff"/><path d="M680.94 107.80L677.64 106.12L677.64 109.48Z" fill="#ff9900"/><path d="M680.94 104.80L677.64 103.12L677.64 106.48Z" fill="#ff9900"/><path d="M680.94 101.80L677.64 100.12L677.64 103.48Z" fill="#ff9900"/><path d="M680.94 98.80L677.64 97.12L677.64 100.48Z" fill="#ff9900"/><path d="M679.08 93.94L681.00 97.30L677.16 97.30Z" fill="#0000ff"/><path d="M679.08 90.94L681.00 94.30L677.16 94.30Z" fill="#0000ff"/><path d="M679.08 88.06L680.88 89.80L679.08 91.54L677.28 89.80Z" fill="#5fcc5f"/><circle cx="679.08" cy="86.80" r="1.17" fill="#000000"/><path d="M682.53 146.80L685.83 145.12L685.83 148.48Z" fill="#ff00ff"/><path d="M682.53 143.80L685.83 142.12L685.83 145.48Z" fill="#ff00ff"/><path d="M682.53 140.80L685.83 139.12L685.83 142.48Z" fill="#ff00ff"/><path d="M682.53 137.80L685.83 136.12L685.83 139.48Z" fill="#ff00ff"/><path d="M682.53 134.80L685.83 133.12L685.83 136.48Z" fill="#ff00ff"/><path d="M682.53 131.80L685.83 130.12L685.83 133.48Z" fill="#ff00ff"/><path d="M682.53 128.80L685.83 127.12L685.83 130.48Z" fill="#ff00ff"/><path d="M682.53 125.80L685.83 124.12L685.83 127.48Z" fill="#ff00ff"/><path d="M682.53 122.80L685.83 121.12L685.83 124.48Z" fill="#ff00ff"/><path d="M682.53 119.80L685.83 118.12L685.83 121.48Z" fill="#ff00ff"/><path d="M682.53 116.80L685.83 115.12L685.83 118.48Z" fill="#ff00ff"/><path d="M682.53 113.80L685.83 112.12L685.83 115.48Z" fill="#ff00ff"/><path d="M686.25 110.80L682.95 109.12L682.95 112.48Z" fill="#ff9900"/><path d="M686.25 107.80L682.95 106.12L682.95 109.48Z" fill="#ff9900"/><path d="M686.25 104.80L682.95 103.12L682.95 106.48Z" fill="#ff9900"/><path d="M686.25 101.80L682.95 100.12L682.95 103.48Z" fill="#ff9900"/><path d="M684.39 96.94L686.31 100.30L682.47 100.30Z" fill="#0000ff"/><path d="M684.39 93.94L686.31 97.30L682.47 97.30Z" fill="#0000ff"/><path d="M684.39 91.06L686.19 92.80L684.39 94.54L682.59 92.80Z" fill="#5fcc5f"/><rect x="683.10" y="88.51" width="2.58" height="2.58" fill="#ff0000"/><circle cx="684.39" cy="86.80" r="1.17" fill="#000000"/><path d="M687.84 146.80L691.14 145.12L691.14 148.48Z" fill="#ff00ff"/><path d="M687.84 143.80L691.14 142.12L691.14 145.48Z" fill="#ff00ff"/><path d="M687.84 140.80L691.14 139.12L691.14 142.48Z" fill="#ff00ff"/><path d="M687.84 137.80L691.14 136.12L691.14 139.48Z" fill="#ff00ff"/><path d="M687.84 134.80L691.14 133.12L691.14 136.48Z" fill="#ff00ff"/><path d="M687.84 131.80L691.14 130.12L691.14 133.48Z" fill="#ff00ff"/><path d="M687.84 128.80L691.14 127.12L691.14 130.48Z" fill="#ff00ff"/><path d="M687.84 125.80L691.14 124.12L691.14 127.48Z" fill="#ff00ff"/><path d="M687.84 122.80L691.14 121.12L691.14 124.48Z" fill="#ff00ff"/><path d="M687.84 119.80L691.14 118.12L691.14 121.48Z" fill="#ff00ff"/><path d="M687.84 116.80L691.14 115.12L691.14 118.48Z" fill="#ff00ff"/><path d="M691.56 113.80L688.26 112.12L688.26 115.48Z" fill="#ff9900"/><path d="M691.56 110.80L688.26 109.12L688.26 112.48Z" fill="#ff9900"/><path d="M691.56 107.80L688.26 106.12L688.26 109.48Z" fill="#ff9900"/><path d="M691.56 104.80L688.26 103.12L688.26 106.48Z" fill="#ff9900"/><path d="M689.70 99.94L691.62 103.30L687.78 103.30Z" fill="#0000ff"/><path d="M689.70 96.94L691.62 100.30L687.78 100.30Z" fill="#0000ff"/><path d="M689.70 94.06L691.50 95.80L689.70 97.54L687.90 95.80Z" fill="#5fcc5f"/><path d="M693.15 146.80L696.45 145.12L696.45 148.48Z" fill="#ff00ff"/><path d="M693.15 143.80L696.45 142.12L696.45 145.48Z" fill="#ff00ff"/><path d="M693.15 140.80L696.45 139.12L696.45 142.48Z" fill="#ff00ff"/><path d="M693.15 137.80L696.45 136.12L696.45 139.48Z" fill="#ff00ff"/><path d="M693.15 134.80L696.45 133.12L696.45 136.48Z" fill="#ff00ff"/><path d="M693.15 131.80L696.45 130.12L696.45 133.48Z" fill="#ff00ff"/><path d="M693.15 128.80L696.45 127.12L696.45 130.48Z" fill="#ff00ff"/><path d="M696.87 125.80L693.57 124.12L693.57 127.48Z" fill="#ff9900"/><path d="M696.87 122.80L693.57 121.12L693.57 124.48Z" fill="#ff9900"/><path d="M695.01 117.94L696.93 121.30L693.09 121.30Z" fill="#0000ff"/><path d="M695.01 115.06L696.81 116.80L695.01 118.54L693.21 116.80Z" fill="#5fcc5f"/><path d="M698.46 146.80L701.76 145.12L701.76 148.48Z" fill="#ff00ff"/><path d="M698.46 143.80L701.76 142.12L701.76 145.48Z" fill="#ff00ff"/><path d="M698.46 140.80L701.76 139.12L701.76 142.48Z" fill="#ff00ff"/><path d="M698.46 137.80L701.76 136.12L701.76 139.48Z" fill="#ff00ff"/><path d="M698.46 134.80L701.76 133.12L701.76 136.48Z" fill="#ff00ff"/><path d="M698.46 131.80L701.76 130.12L701.76 133.48Z" fill="#ff00ff"/><path d="M702.18 128.80L698.88 127.12L698.88 130.48Z" fill="#ff9900"/><path d="M702.18 125.80L698.88 124.12L698.88 127.48Z" fill="#ff9900"/><path d="M702.18 122.80L698.88 121.12L698.88 124.48Z" fill="#ff9900"/><path d="M700.32 117.94L702.24 121.30L698.40 121.30Z" fill="#0000ff"/><path d="M700.32 115.06L702.12 116.80L700.32 118.54L698.52 116.80Z" fill="#5fcc5f"/><circle cx="700.32" cy="113.80" r="1.17" fill="#000000"/><path d="M703.77 146.80L707.07 145.12L707.07 148.48Z" fill="#ff00ff"/><path d="M703.77 143.80L707.07 142.12L707.07 145.48Z" fill="#ff00ff"/><path d="M703.77 140.80L707.07 139.12L707.07 142.48Z" fill="#ff00ff"/><path d="M707.49 137.80L704.19 136.12L704.19 139.48Z" fill="#ff9900"/><path d="M707.49 134.80L704.19 133.12L704.19 136.48Z" fill="#ff9900"/><path d="M707.49 131.80L704.19 130.12L704.19 133.48Z" fill="#ff9900"/><path d="M705.63 126.94L707.55 130.30L703.71 130.30Z" fill="#0000ff"/><path d="M705.63 124.06L707.43 125.80L705.63 127.54L703.83 125.80Z" fill="#5fcc5f"/><circle cx="705.63" cy="122.80" r="1.17" fill="#000000"/><path d="M709.08 146.80L712.38 145.12L712.38 148.48Z" fill="#ff00ff"/><path d="M709.08 143.80L712.38 142.12L712.38 145.48Z" fill="#ff00ff"/><path d="M709.08 140.80L712.38 139.12L712.38 142.48Z" fill="#ff00ff"/><path d="M712.80 137.80L709.50 136.12L709.50 139.48Z" fill="#ff9900"/><path d="M712.80 134.80L709.50 133.12L709.50 136.48Z" fill="#ff9900"/><path d="M712.80 131.80L709.50 130.12L709.50 133.48Z" fill="#ff9900"/><path d="M710.94 126.94L712.86 130.30L709.02 130.30Z" fill="#0000ff"/><circle cx="710.94" cy="125.80" r="1.17" fill="#000000"/><path d="M714.39 146.80L717.69 145.12L717.69 148.48Z" fill="#ff00ff"/><path d="M718.11 143.80L714.81 142.12L714.81 145.48Z" fill="#ff9900"/><path d="M718.11 140.80L714.81 139.12L714.81 142.48Z" fill="#ff9900"/><path d="M718.11 137.80L714.81 136.12L714.81 139.48Z" fill="#ff9900"/><path d="M716.25 132.94L718.17 136.30L714.33 136.30Z" fill="#0000ff"/><rect x="714.96" y="130.51" width="2.58" height="2.58" fill="#ff0000"/><path d="M719.70 146.80L723.00 145.12L723.00 148.48Z" fill="#ff00ff"/><path d="M723.42 143.80L720.12 142.12L720.12 145.48Z" fill="#ff9900"/><path d="M723.42 140.80L720.12 139.12L720.12 142.48Z" fill="#ff9900"/><path d="M723.42 137.80L720.12 136.12L720.12 139.48Z" fill="#ff9900"/><path d="M721.56 132.94L723.48 136.30L719.64 136.30Z" fill="#0000ff"/><path d="M721.56 129.94L723.48 133.30L719.64 133.30Z" fill="#0000ff"/><rect x="720.27" y="127.51" width="2.58" height="2.58" fill="#ff0000"/><path d="M725.01 146.80L728.31 145.12L728.31 148.48Z" fill="#ff00ff"/><path d="M728.73 143.80L725.43 142.12L725.43 145.48Z" fill="#ff9900"/><path d="M728.73 140.80L725.43 139.12L725.43 142.48Z" fill="#ff9900"/><path d="M726.87 135.94L728.79 139.30L724.95 139.30Z" fill="#0000ff"/><circle cx="726.87" cy="134.80" r="1.17" fill="#000000"/><path d="M730.32 146.80L733.62 145.12L733.62 148.48Z" fill="#ff00ff"/><path d="M734.04 143.80L730.74 142.12L730.74 145.48Z" fill="#ff9900"/><path d="M732.18 138.94L734.10 142.30L730.26 142.30Z" fill="#0000ff"/><path d="M732.18 136.06L733.98 137.80L732.18 139.54L730.38 137.80Z" fill="#5fcc5f"/><rect x="730.89" y="133.51" width="2.58" height="2.58" fill="#ff0000"/><circle cx="732.18" cy="131.80" r="1.17" fill="#000000"/><path d="M735.63 146.80L738.93 145.12L738.93 148.48Z" fill="#ff00ff"/><path d="M739.35 143.80L736.05 142.12L736.05 145.48Z" fill="#ff9900"/><path d="M737.49 138.94L739.41 142.30L735.57 142.30Z" fill="#0000ff"/><path d="M737.49 136.06L739.29 137.80L737.49 139.54L735.69 137.80Z" fill="#5fcc5f"/><circle cx="737.49" cy="134.80" r="1.17" fill="#000000"/><path d="M740.94 146.80L744.24 145.12L744.24 148.48Z" fill="#ff00ff"/><path d="M744.66 143.80L741.36 142.12L741.36 145.48Z" fill="#ff9900"/><path d="M742.80 138.94L744.72 142.30L740.88 142.30Z" fill="#0000ff"/><rect x="741.51" y="136.51" width="2.58" height="2.58" fill="#ff0000"/><circle cx="742.80" cy="134.80" r="1.17" fill="#000000"/><path d="M746.25 146.80L749.55 145.12L749.55 148.48Z" fill="#ff00ff"/><path d="M749.97 143.80L746.67 142.12L746.67 145.48Z" fill="#ff9900"/><path d="M755.28 146.80L751.98 145.12L751.98 148.48Z" fill="#ff9900"/><rect x="752.13" y="142.51" width="2.58" height="2.58" fill="#ff0000"/><circle cx="753.42" cy="140.80" r="1.17" fill="#000000"/><path d="M760.59 146.80L757.29 145.12L757.29 148.48Z" fill="#ff9900"/><path d="M758.73 141.94L760.65 145.30L756.81 145.30Z" fill="#0000ff"/><path d="M765.90 146.80L762.60 145.12L762.60 148.48Z" fill="#ff9900"/><path d="M764.04 141.94L765.96 145.30L762.12 145.30Z" fill="#0000ff"/><path d="M767.49 146.80L770.79 145.12L770.79 148.48Z" fill="#ff00ff"/><path d="M771.21 143.80L767.91 142.12L767.91 145.48Z" fill="#ff9900"/><path d="M769.35 138.94L771.27 142.30L767.43 142.30Z" fill="#0000ff"/><path d="M769.35 136.06L771.15 137.80L769.35 139.54L767.55 137.80Z" fill="#5fcc5f"/><path d="M776.52 146.80L773.22 145.12L773.22 148.48Z" fill="#ff9900"/><path d="M774.66 141.94L776.58 145.30L772.74 145.30Z" fill="#0000ff"/><path d="M774.66 139.06L776.46 140.80L774.66 142.54L772.86 140.80Z" fill="#5fcc5f"/><circle cx="774.66" cy="137.80" r="1.17" fill="#000000"/><path d="M778.11 146.80L781.41 145.12L781.41 148.48Z" fill="#ff00ff"/><path d="M779.97 141.94L781.89 145.30L778.05 145.30Z" fill="#0000ff"/><path d="M779.97 139.06L781.77 140.80L779.97 142.54L778.17 140.80Z" fill="#5fcc5f"/><path d="M787.14 146.80L783.84 145.12L783.84 148.48Z" fill="#ff9900"/><path d="M785.28 141.94L787.20 145.30L783.36 145.30Z" fill="#0000ff"/><path d="M788.73 146.80L792.03 145.12L792.03 148.48Z" fill="#ff00ff"/><path d="M790.59 142.06L792.39 143.80L790.59 145.54L788.79 143.80Z" fill="#5fcc5f"/><path d="M5.7 363.4V242.4H225.9V363.4" fill="none" stroke="#c8c8c8" stroke-width="1"/><path d="M5.7 363.4H225.9" fill="none" stroke="#b0b0b0" stroke-width="1"/><path d="M6.00 363.4v2" stroke="#b0b0b0" stroke-width="0.8"/><text x="6.00" y="373.1" font-size="7.1" text-anchor="middle" font-weight="normal" fill="#111" >-0.0</text><path d="M38.61 363.4v2" stroke="#b0b0b0" stroke-width="0.8"/><text x="38.61" y="373.1" font-size="7.1" text-anchor="middle" font-weight="normal" fill="#111" >0.3</text><path d="M71.22 363.4v2" stroke="#b0b0b0" stroke-width="0.8"/><text x="71.22" y="373.1" font-size="7.1" text-anchor="middle" font-weight="normal" fill="#111" >0.6</text><path d="M103.83 363.4v2" stroke="#b0b0b0" stroke-width="0.8"/><text x="103.83" y="373.1" font-size="7.1" text-anchor="middle" font-weight="normal" fill="#111" >0.9</text><path d="M136.44 363.4v2" stroke="#b0b0b0" stroke-width="0.8"/><text x="136.44" y="373.1" font-size="7.1" text-anchor="middle" font-weight="normal" fill="#111" >1.2</text><path d="M169.05 363.4v2" stroke="#b0b0b0" stroke-width="0.8"/><text x="169.05" y="373.1" font-size="7.1" text-anchor="middle" font-weight="normal" fill="#111" >1.5</text><path d="M201.66 363.4v2" stroke="#b0b0b0" stroke-width="0.8"/><text x="201.66" y="373.1" font-size="7.1" text-anchor="middle" font-weight="normal" fill="#111" >1.8</text><text x="114.7" y="383" font-size="7.1" text-anchor="middle" font-weight="normal" fill="#000" >Relative kinship</text><text x="2.5" y="393.6" font-size="6.8" text-anchor="start" font-weight="normal" fill="#000" >Each symbol represents up to 9 observations.</text><text x="167.8" y="252.0" font-size="7.7" text-anchor="middle" font-weight="normal" fill="#000" textLength="91" lengthAdjust="spacingAndGlyphs">Institutions (breeding programs)</text><circle cx="179.00" cy="260.40" r="1.68" fill="#000000"/><text x="184.6" y="262.215" font-size="5.5" text-anchor="start" font-weight="normal" fill="#000" >AAFC</text><rect x="177.63" y="267.43" width="2.74" height="2.74" fill="#ff0000"/><text x="184.6" y="270.615" font-size="5.5" text-anchor="start" font-weight="normal" fill="#000" >Nutrien</text><path d="M179.00 274.55L180.91 276.40L179.00 278.25L177.09 276.40Z" fill="#5fcc5f"/><text x="184.6" y="278.215" font-size="5.5" text-anchor="start" font-weight="normal" fill="#000" >Secan</text><path d="M179.00 281.73L181.04 285.29L176.96 285.29Z" fill="#0000ff"/><text x="184.6" y="285.515" font-size="5.5" text-anchor="start" font-weight="normal" fill="#000" >Syngenta</text><path d="M180.97 292.00L177.47 290.22L177.47 293.78Z" fill="#ff9900"/><text x="184.6" y="293.815" font-size="5.5" text-anchor="start" font-weight="normal" fill="#000" >U of A</text><path d="M177.03 299.60L180.53 297.82L180.53 301.38Z" fill="#ff00ff"/><text x="184.6" y="301.415" font-size="5.5" text-anchor="start" font-weight="normal" fill="#000" >U of S</text><circle cx="11.93" cy="362.10" r="1.17" fill="#000000"/><circle cx="17.37" cy="362.10" r="1.17" fill="#000000"/><path d="M22.80 360.36L24.61 362.10L22.80 363.84L21.00 362.10Z" fill="#5fcc5f"/><circle cx="22.80" cy="359.03" r="1.17" fill="#000000"/><circle cx="22.80" cy="355.96" r="1.17" fill="#000000"/><circle cx="22.80" cy="352.89" r="1.17" fill="#000000"/><circle cx="22.80" cy="349.82" r="1.17" fill="#000000"/><circle cx="22.80" cy="346.75" r="1.17" fill="#000000"/><path d="M30.10 362.10L26.80 360.42L26.80 363.78Z" fill="#ff9900"/><path d="M28.24 357.29L30.04 359.03L28.24 360.77L26.44 359.03Z" fill="#5fcc5f"/><circle cx="28.24" cy="355.96" r="1.17" fill="#000000"/><circle cx="28.24" cy="352.89" r="1.17" fill="#000000"/><circle cx="28.24" cy="349.82" r="1.17" fill="#000000"/><circle cx="28.24" cy="346.75" r="1.17" fill="#000000"/><circle cx="28.24" cy="343.68" r="1.17" fill="#000000"/><circle cx="28.24" cy="340.61" r="1.17" fill="#000000"/><circle cx="28.24" cy="337.54" r="1.17" fill="#000000"/><circle cx="28.24" cy="334.47" r="1.17" fill="#000000"/><circle cx="28.24" cy="331.40" r="1.17" fill="#000000"/><circle cx="28.24" cy="328.33" r="1.17" fill="#000000"/><circle cx="28.24" cy="325.26" r="1.17" fill="#000000"/><circle cx="28.24" cy="322.19" r="1.17" fill="#000000"/><circle cx="28.24" cy="319.12" r="1.17" fill="#000000"/><path d="M31.81 362.10L35.11 360.42L35.11 363.78Z" fill="#ff00ff"/><path d="M35.53 359.03L32.23 357.35L32.23 360.71Z" fill="#ff9900"/><path d="M33.67 354.22L35.47 355.96L33.67 357.70L31.87 355.96Z" fill="#5fcc5f"/><path d="M33.67 351.15L35.47 352.89L33.67 354.63L31.87 352.89Z" fill="#5fcc5f"/><rect x="32.38" y="348.53" width="2.58" height="2.58" fill="#ff0000"/><circle cx="33.67" cy="346.75" r="1.17" fill="#000000"/><circle cx="33.67" cy="343.68" r="1.17" fill="#000000"/><circle cx="33.67" cy="340.61" r="1.17" fill="#000000"/><circle cx="33.67" cy="337.54" r="1.17" fill="#000000"/><circle cx="33.67" cy="334.47" r="1.17" fill="#000000"/><circle cx="33.67" cy="331.40" r="1.17" fill="#000000"/><circle cx="33.67" cy="328.33" r="1.17" fill="#000000"/><circle cx="33.67" cy="325.26" r="1.17" fill="#000000"/><circle cx="33.67" cy="322.19" r="1.17" fill="#000000"/><circle cx="33.67" cy="319.12" r="1.17" fill="#000000"/><circle cx="33.67" cy="316.05" r="1.17" fill="#000000"/><circle cx="33.67" cy="312.98" r="1.17" fill="#000000"/><circle cx="33.67" cy="309.91" r="1.17" fill="#000000"/><circle cx="33.67" cy="306.84" r="1.17" fill="#000000"/><circle cx="33.67" cy="303.77" r="1.17" fill="#000000"/><circle cx="33.67" cy="300.70" r="1.17" fill="#000000"/><circle cx="33.67" cy="297.63" r="1.17" fill="#000000"/><circle cx="33.67" cy="294.56" r="1.17" fill="#000000"/><path d="M37.25 362.10L40.55 360.42L40.55 363.78Z" fill="#ff00ff"/><path d="M40.97 359.03L37.67 357.35L37.67 360.71Z" fill="#ff9900"/><path d="M39.11 354.22L40.91 355.96L39.11 357.70L37.31 355.96Z" fill="#5fcc5f"/><path d="M39.11 351.15L40.91 352.89L39.11 354.63L37.31 352.89Z" fill="#5fcc5f"/><path d="M39.11 348.08L40.91 349.82L39.11 351.56L37.31 349.82Z" fill="#5fcc5f"/><rect x="37.82" y="345.46" width="2.58" height="2.58" fill="#ff0000"/><circle cx="39.11" cy="343.68" r="1.17" fill="#000000"/><circle cx="39.11" cy="340.61" r="1.17" fill="#000000"/><circle cx="39.11" cy="337.54" r="1.17" fill="#000000"/><circle cx="39.11" cy="334.47" r="1.17" fill="#000000"/><circle cx="39.11" cy="331.40" r="1.17" fill="#000000"/><circle cx="39.11" cy="328.33" r="1.17" fill="#000000"/><circle cx="39.11" cy="325.26" r="1.17" fill="#000000"/><circle cx="39.11" cy="322.19" r="1.17" fill="#000000"/><circle cx="39.11" cy="319.12" r="1.17" fill="#000000"/><circle cx="39.11" cy="316.05" r="1.17" fill="#000000"/><circle cx="39.11" cy="312.98" r="1.17" fill="#000000"/><circle cx="39.11" cy="309.91" r="1.17" fill="#000000"/><circle cx="39.11" cy="306.84" r="1.17" fill="#000000"/><circle cx="39.11" cy="303.77" r="1.17" fill="#000000"/><circle cx="39.11" cy="300.70" r="1.17" fill="#000000"/><circle cx="39.11" cy="297.63" r="1.17" fill="#000000"/><circle cx="39.11" cy="294.56" r="1.17" fill="#000000"/><circle cx="39.11" cy="291.49" r="1.17" fill="#000000"/><circle cx="39.11" cy="288.42" r="1.17" fill="#000000"/><circle cx="39.11" cy="285.35" r="1.17" fill="#000000"/><circle cx="39.11" cy="282.28" r="1.17" fill="#000000"/><circle cx="39.11" cy="279.21" r="1.17" fill="#000000"/><path d="M42.68 362.10L45.98 360.42L45.98 363.78Z" fill="#ff00ff"/><path d="M42.68 359.03L45.98 357.35L45.98 360.71Z" fill="#ff00ff"/><path d="M46.40 355.96L43.10 354.28L43.10 357.64Z" fill="#ff9900"/><path d="M46.40 352.89L43.10 351.21L43.10 354.57Z" fill="#ff9900"/><path d="M44.54 347.96L46.46 351.32L42.62 351.32Z" fill="#0000ff"/><path d="M44.54 345.01L46.34 346.75L44.54 348.49L42.74 346.75Z" fill="#5fcc5f"/><path d="M44.54 341.94L46.34 343.68L44.54 345.42L42.74 343.68Z" fill="#5fcc5f"/><path d="M44.54 338.87L46.34 340.61L44.54 342.35L42.74 340.61Z" fill="#5fcc5f"/><path d="M44.54 335.80L46.34 337.54L44.54 339.28L42.74 337.54Z" fill="#5fcc5f"/><path d="M44.54 332.73L46.34 334.47L44.54 336.21L42.74 334.47Z" fill="#5fcc5f"/><rect x="43.25" y="330.11" width="2.58" height="2.58" fill="#ff0000"/><circle cx="44.54" cy="328.33" r="1.17" fill="#000000"/><circle cx="44.54" cy="325.26" r="1.17" fill="#000000"/><circle cx="44.54" cy="322.19" r="1.17" fill="#000000"/><circle cx="44.54" cy="319.12" r="1.17" fill="#000000"/><circle cx="44.54" cy="316.05" r="1.17" fill="#000000"/><circle cx="44.54" cy="312.98" r="1.17" fill="#000000"/><circle cx="44.54" cy="309.91" r="1.17" fill="#000000"/><circle cx="44.54" cy="306.84" r="1.17" fill="#000000"/><circle cx="44.54" cy="303.77" r="1.17" fill="#000000"/><circle cx="44.54" cy="300.70" r="1.17" fill="#000000"/><circle cx="44.54" cy="297.63" r="1.17" fill="#000000"/><circle cx="44.54" cy="294.56" r="1.17" fill="#000000"/><circle cx="44.54" cy="291.49" r="1.17" fill="#000000"/><circle cx="44.54" cy="288.42" r="1.17" fill="#000000"/><circle cx="44.54" cy="285.35" r="1.17" fill="#000000"/><circle cx="44.54" cy="282.28" r="1.17" fill="#000000"/><circle cx="44.54" cy="279.21" r="1.17" fill="#000000"/><circle cx="44.54" cy="276.14" r="1.17" fill="#000000"/><circle cx="44.54" cy="273.07" r="1.17" fill="#000000"/><circle cx="44.54" cy="270.00" r="1.17" fill="#000000"/><circle cx="44.54" cy="266.93" r="1.17" fill="#000000"/><circle cx="44.54" cy="263.86" r="1.17" fill="#000000"/><circle cx="44.54" cy="260.79" r="1.17" fill="#000000"/><circle cx="44.54" cy="257.72" r="1.17" fill="#000000"/><circle cx="44.54" cy="254.65" r="1.17" fill="#000000"/><circle cx="44.54" cy="251.58" r="1.17" fill="#000000"/><circle cx="44.54" cy="248.51" r="1.17" fill="#000000"/><path d="M48.12 362.10L51.42 360.42L51.42 363.78Z" fill="#ff00ff"/><path d="M48.12 359.03L51.42 357.35L51.42 360.71Z" fill="#ff00ff"/><path d="M48.12 355.96L51.42 354.28L51.42 357.64Z" fill="#ff00ff"/><path d="M51.84 352.89L48.54 351.21L48.54 354.57Z" fill="#ff9900"/><path d="M51.84 349.82L48.54 348.14L48.54 351.50Z" fill="#ff9900"/><path d="M49.98 344.89L51.90 348.25L48.06 348.25Z" fill="#0000ff"/><path d="M49.98 341.94L51.78 343.68L49.98 345.42L48.18 343.68Z" fill="#5fcc5f"/><path d="M49.98 338.87L51.78 340.61L49.98 342.35L48.18 340.61Z" fill="#5fcc5f"/><path d="M49.98 335.80L51.78 337.54L49.98 339.28L48.18 337.54Z" fill="#5fcc5f"/><path d="M49.98 332.73L51.78 334.47L49.98 336.21L48.18 334.47Z" fill="#5fcc5f"/><rect x="48.69" y="330.11" width="2.58" height="2.58" fill="#ff0000"/><circle cx="49.98" cy="328.33" r="1.17" fill="#000000"/><circle cx="49.98" cy="325.26" r="1.17" fill="#000000"/><circle cx="49.98" cy="322.19" r="1.17" fill="#000000"/><circle cx="49.98" cy="319.12" r="1.17" fill="#000000"/><circle cx="49.98" cy="316.05" r="1.17" fill="#000000"/><circle cx="49.98" cy="312.98" r="1.17" fill="#000000"/><circle cx="49.98" cy="309.91" r="1.17" fill="#000000"/><circle cx="49.98" cy="306.84" r="1.17" fill="#000000"/><circle cx="49.98" cy="303.77" r="1.17" fill="#000000"/><circle cx="49.98" cy="300.70" r="1.17" fill="#000000"/><circle cx="49.98" cy="297.63" r="1.17" fill="#000000"/><circle cx="49.98" cy="294.56" r="1.17" fill="#000000"/><circle cx="49.98" cy="291.49" r="1.17" fill="#000000"/><circle cx="49.98" cy="288.42" r="1.17" fill="#000000"/><circle cx="49.98" cy="285.35" r="1.17" fill="#000000"/><circle cx="49.98" cy="282.28" r="1.17" fill="#000000"/><circle cx="49.98" cy="279.21" r="1.17" fill="#000000"/><circle cx="49.98" cy="276.14" r="1.17" fill="#000000"/><circle cx="49.98" cy="273.07" r="1.17" fill="#000000"/><circle cx="49.98" cy="270.00" r="1.17" fill="#000000"/><circle cx="49.98" cy="266.93" r="1.17" fill="#000000"/><circle cx="49.98" cy="263.86" r="1.17" fill="#000000"/><circle cx="49.98" cy="260.79" r="1.17" fill="#000000"/><circle cx="49.98" cy="257.72" r="1.17" fill="#000000"/><circle cx="49.98" cy="254.65" r="1.17" fill="#000000"/><circle cx="49.98" cy="251.58" r="1.17" fill="#000000"/><circle cx="49.98" cy="248.51" r="1.17" fill="#000000"/><path d="M53.55 362.10L56.85 360.42L56.85 363.78Z" fill="#ff00ff"/><path d="M53.55 359.03L56.85 357.35L56.85 360.71Z" fill="#ff00ff"/><path d="M53.55 355.96L56.85 354.28L56.85 357.64Z" fill="#ff00ff"/><path d="M57.27 352.89L53.98 351.21L53.98 354.57Z" fill="#ff9900"/><path d="M55.41 347.96L57.34 351.32L53.49 351.32Z" fill="#0000ff"/><path d="M55.41 345.01L57.21 346.75L55.41 348.49L53.62 346.75Z" fill="#5fcc5f"/><path d="M55.41 341.94L57.21 343.68L55.41 345.42L53.62 343.68Z" fill="#5fcc5f"/><path d="M55.41 338.87L57.21 340.61L55.41 342.35L53.62 340.61Z" fill="#5fcc5f"/><path d="M55.41 335.80L57.21 337.54L55.41 339.28L53.62 337.54Z" fill="#5fcc5f"/><path d="M55.41 332.73L57.21 334.47L55.41 336.21L53.62 334.47Z" fill="#5fcc5f"/><rect x="54.12" y="330.11" width="2.58" height="2.58" fill="#ff0000"/><circle cx="55.41" cy="328.33" r="1.17" fill="#000000"/><circle cx="55.41" cy="325.26" r="1.17" fill="#000000"/><circle cx="55.41" cy="322.19" r="1.17" fill="#000000"/><circle cx="55.41" cy="319.12" r="1.17" fill="#000000"/><circle cx="55.41" cy="316.05" r="1.17" fill="#000000"/><circle cx="55.41" cy="312.98" r="1.17" fill="#000000"/><circle cx="55.41" cy="309.91" r="1.17" fill="#000000"/><circle cx="55.41" cy="306.84" r="1.17" fill="#000000"/><circle cx="55.41" cy="303.77" r="1.17" fill="#000000"/><circle cx="55.41" cy="300.70" r="1.17" fill="#000000"/><circle cx="55.41" cy="297.63" r="1.17" fill="#000000"/><circle cx="55.41" cy="294.56" r="1.17" fill="#000000"/><circle cx="55.41" cy="291.49" r="1.17" fill="#000000"/><circle cx="55.41" cy="288.42" r="1.17" fill="#000000"/><circle cx="55.41" cy="285.35" r="1.17" fill="#000000"/><circle cx="55.41" cy="282.28" r="1.17" fill="#000000"/><circle cx="55.41" cy="279.21" r="1.17" fill="#000000"/><circle cx="55.41" cy="276.14" r="1.17" fill="#000000"/><circle cx="55.41" cy="273.07" r="1.17" fill="#000000"/><circle cx="55.41" cy="270.00" r="1.17" fill="#000000"/><circle cx="55.41" cy="266.93" r="1.17" fill="#000000"/><circle cx="55.41" cy="263.86" r="1.17" fill="#000000"/><path d="M58.99 362.10L62.29 360.42L62.29 363.78Z" fill="#ff00ff"/><path d="M58.99 359.03L62.29 357.35L62.29 360.71Z" fill="#ff00ff"/><path d="M58.99 355.96L62.29 354.28L62.29 357.64Z" fill="#ff00ff"/><path d="M58.99 352.89L62.29 351.21L62.29 354.57Z" fill="#ff00ff"/><path d="M58.99 349.82L62.29 348.14L62.29 351.50Z" fill="#ff00ff"/><path d="M62.71 346.75L59.41 345.07L59.41 348.43Z" fill="#ff9900"/><path d="M60.85 341.82L62.77 345.18L58.93 345.18Z" fill="#0000ff"/><path d="M60.85 338.87L62.65 340.61L60.85 342.35L59.05 340.61Z" fill="#5fcc5f"/><path d="M60.85 335.80L62.65 337.54L60.85 339.28L59.05 337.54Z" fill="#5fcc5f"/><path d="M60.85 332.73L62.65 334.47L60.85 336.21L59.05 334.47Z" fill="#5fcc5f"/><rect x="59.56" y="330.11" width="2.58" height="2.58" fill="#ff0000"/><circle cx="60.85" cy="328.33" r="1.17" fill="#000000"/><circle cx="60.85" cy="325.26" r="1.17" fill="#000000"/><circle cx="60.85" cy="322.19" r="1.17" fill="#000000"/><circle cx="60.85" cy="319.12" r="1.17" fill="#000000"/><circle cx="60.85" cy="316.05" r="1.17" fill="#000000"/><circle cx="60.85" cy="312.98" r="1.17" fill="#000000"/><circle cx="60.85" cy="309.91" r="1.17" fill="#000000"/><circle cx="60.85" cy="306.84" r="1.17" fill="#000000"/><circle cx="60.85" cy="303.77" r="1.17" fill="#000000"/><circle cx="60.85" cy="300.70" r="1.17" fill="#000000"/><circle cx="60.85" cy="297.63" r="1.17" fill="#000000"/><circle cx="60.85" cy="294.56" r="1.17" fill="#000000"/><circle cx="60.85" cy="291.49" r="1.17" fill="#000000"/><circle cx="60.85" cy="288.42" r="1.17" fill="#000000"/><circle cx="60.85" cy="285.35" r="1.17" fill="#000000"/><circle cx="60.85" cy="282.28" r="1.17" fill="#000000"/><circle cx="60.85" cy="279.21" r="1.17" fill="#000000"/><circle cx="60.85" cy="276.14" r="1.17" fill="#000000"/><circle cx="60.85" cy="273.07" r="1.17" fill="#000000"/><circle cx="60.85" cy="270.00" r="1.17" fill="#000000"/><circle cx="60.85" cy="266.93" r="1.17" fill="#000000"/><circle cx="60.85" cy="263.86" r="1.17" fill="#000000"/><circle cx="60.85" cy="260.79" r="1.17" fill="#000000"/><path d="M64.42 362.10L67.72 360.42L67.72 363.78Z" fill="#ff00ff"/><path d="M64.42 359.03L67.72 357.35L67.72 360.71Z" fill="#ff00ff"/><path d="M64.42 355.96L67.72 354.28L67.72 357.64Z" fill="#ff00ff"/><path d="M64.42 352.89L67.72 351.21L67.72 354.57Z" fill="#ff00ff"/><path d="M68.14 349.82L64.84 348.14L64.84 351.50Z" fill="#ff9900"/><path d="M66.28 344.89L68.20 348.25L64.36 348.25Z" fill="#0000ff"/><path d="M66.28 341.82L68.20 345.18L64.36 345.18Z" fill="#0000ff"/><path d="M66.28 338.87L68.08 340.61L66.28 342.35L64.48 340.61Z" fill="#5fcc5f"/><path d="M66.28 335.80L68.08 337.54L66.28 339.28L64.48 337.54Z" fill="#5fcc5f"/><path d="M66.28 332.73L68.08 334.47L66.28 336.21L64.48 334.47Z" fill="#5fcc5f"/><rect x="64.99" y="330.11" width="2.58" height="2.58" fill="#ff0000"/><circle cx="66.28" cy="328.33" r="1.17" fill="#000000"/><circle cx="66.28" cy="325.26" r="1.17" fill="#000000"/><circle cx="66.28" cy="322.19" r="1.17" fill="#000000"/><circle cx="66.28" cy="319.12" r="1.17" fill="#000000"/><circle cx="66.28" cy="316.05" r="1.17" fill="#000000"/><circle cx="66.28" cy="312.98" r="1.17" fill="#000000"/><circle cx="66.28" cy="309.91" r="1.17" fill="#000000"/><circle cx="66.28" cy="306.84" r="1.17" fill="#000000"/><circle cx="66.28" cy="303.77" r="1.17" fill="#000000"/><circle cx="66.28" cy="300.70" r="1.17" fill="#000000"/><circle cx="66.28" cy="297.63" r="1.17" fill="#000000"/><circle cx="66.28" cy="294.56" r="1.17" fill="#000000"/><circle cx="66.28" cy="291.49" r="1.17" fill="#000000"/><circle cx="66.28" cy="288.42" r="1.17" fill="#000000"/><circle cx="66.28" cy="285.35" r="1.17" fill="#000000"/><circle cx="66.28" cy="282.28" r="1.17" fill="#000000"/><circle cx="66.28" cy="279.21" r="1.17" fill="#000000"/><circle cx="66.28" cy="276.14" r="1.17" fill="#000000"/><circle cx="66.28" cy="273.07" r="1.17" fill="#000000"/><circle cx="66.28" cy="270.00" r="1.17" fill="#000000"/><path d="M69.86 362.10L73.16 360.42L73.16 363.78Z" fill="#ff00ff"/><path d="M69.86 359.03L73.16 357.35L73.16 360.71Z" fill="#ff00ff"/><path d="M69.86 355.96L73.16 354.28L73.16 357.64Z" fill="#ff00ff"/><path d="M69.86 352.89L73.16 351.21L73.16 354.57Z" fill="#ff00ff"/><path d="M69.86 349.82L73.16 348.14L73.16 351.50Z" fill="#ff00ff"/><path d="M73.58 346.75L70.28 345.07L70.28 348.43Z" fill="#ff9900"/><path d="M71.72 341.82L73.64 345.18L69.80 345.18Z" fill="#0000ff"/><path d="M71.72 338.87L73.52 340.61L71.72 342.35L69.92 340.61Z" fill="#5fcc5f"/><path d="M71.72 335.80L73.52 337.54L71.72 339.28L69.92 337.54Z" fill="#5fcc5f"/><path d="M71.72 332.73L73.52 334.47L71.72 336.21L69.92 334.47Z" fill="#5fcc5f"/><rect x="70.43" y="330.11" width="2.58" height="2.58" fill="#ff0000"/><circle cx="71.72" cy="328.33" r="1.17" fill="#000000"/><circle cx="71.72" cy="325.26" r="1.17" fill="#000000"/><circle cx="71.72" cy="322.19" r="1.17" fill="#000000"/><circle cx="71.72" cy="319.12" r="1.17" fill="#000000"/><circle cx="71.72" cy="316.05" r="1.17" fill="#000000"/><circle cx="71.72" cy="312.98" r="1.17" fill="#000000"/><circle cx="71.72" cy="309.91" r="1.17" fill="#000000"/><circle cx="71.72" cy="306.84" r="1.17" fill="#000000"/><circle cx="71.72" cy="303.77" r="1.17" fill="#000000"/><circle cx="71.72" cy="300.70" r="1.17" fill="#000000"/><circle cx="71.72" cy="297.63" r="1.17" fill="#000000"/><circle cx="71.72" cy="294.56" r="1.17" fill="#000000"/><circle cx="71.72" cy="291.49" r="1.17" fill="#000000"/><circle cx="71.72" cy="288.42" r="1.17" fill="#000000"/><circle cx="71.72" cy="285.35" r="1.17" fill="#000000"/><circle cx="71.72" cy="282.28" r="1.17" fill="#000000"/><circle cx="71.72" cy="279.21" r="1.17" fill="#000000"/><path d="M75.30 362.10L78.59 360.42L78.59 363.78Z" fill="#ff00ff"/><path d="M75.30 359.03L78.59 357.35L78.59 360.71Z" fill="#ff00ff"/><path d="M75.30 355.96L78.59 354.28L78.59 357.64Z" fill="#ff00ff"/><path d="M75.30 352.89L78.59 351.21L78.59 354.57Z" fill="#ff00ff"/><path d="M79.02 349.82L75.72 348.14L75.72 351.50Z" fill="#ff9900"/><path d="M77.16 344.89L79.08 348.25L75.23 348.25Z" fill="#0000ff"/><path d="M77.16 341.94L78.95 343.68L77.16 345.42L75.36 343.68Z" fill="#5fcc5f"/><path d="M77.16 338.87L78.95 340.61L77.16 342.35L75.36 340.61Z" fill="#5fcc5f"/><rect x="75.86" y="336.25" width="2.58" height="2.58" fill="#ff0000"/><circle cx="77.16" cy="334.47" r="1.17" fill="#000000"/><circle cx="77.16" cy="331.40" r="1.17" fill="#000000"/><circle cx="77.16" cy="328.33" r="1.17" fill="#000000"/><circle cx="77.16" cy="325.26" r="1.17" fill="#000000"/><circle cx="77.16" cy="322.19" r="1.17" fill="#000000"/><circle cx="77.16" cy="319.12" r="1.17" fill="#000000"/><circle cx="77.16" cy="316.05" r="1.17" fill="#000000"/><circle cx="77.16" cy="312.98" r="1.17" fill="#000000"/><circle cx="77.16" cy="309.91" r="1.17" fill="#000000"/><circle cx="77.16" cy="306.84" r="1.17" fill="#000000"/><circle cx="77.16" cy="303.77" r="1.17" fill="#000000"/><circle cx="77.16" cy="300.70" r="1.17" fill="#000000"/><circle cx="77.16" cy="297.63" r="1.17" fill="#000000"/><circle cx="77.16" cy="294.56" r="1.17" fill="#000000"/><circle cx="77.16" cy="291.49" r="1.17" fill="#000000"/><path d="M80.73 362.10L84.03 360.42L84.03 363.78Z" fill="#ff00ff"/><path d="M80.73 359.03L84.03 357.35L84.03 360.71Z" fill="#ff00ff"/><path d="M80.73 355.96L84.03 354.28L84.03 357.64Z" fill="#ff00ff"/><path d="M80.73 352.89L84.03 351.21L84.03 354.57Z" fill="#ff00ff"/><path d="M84.45 349.82L81.15 348.14L81.15 351.50Z" fill="#ff9900"/><path d="M84.45 346.75L81.15 345.07L81.15 348.43Z" fill="#ff9900"/><path d="M82.59 341.82L84.51 345.18L80.67 345.18Z" fill="#0000ff"/><path d="M82.59 338.75L84.51 342.11L80.67 342.11Z" fill="#0000ff"/><path d="M82.59 335.80L84.39 337.54L82.59 339.28L80.79 337.54Z" fill="#5fcc5f"/><path d="M82.59 332.73L84.39 334.47L82.59 336.21L80.79 334.47Z" fill="#5fcc5f"/><rect x="81.30" y="330.11" width="2.58" height="2.58" fill="#ff0000"/><circle cx="82.59" cy="328.33" r="1.17" fill="#000000"/><circle cx="82.59" cy="325.26" r="1.17" fill="#000000"/><circle cx="82.59" cy="322.19" r="1.17" fill="#000000"/><circle cx="82.59" cy="319.12" r="1.17" fill="#000000"/><circle cx="82.59" cy="316.05" r="1.17" fill="#000000"/><circle cx="82.59" cy="312.98" r="1.17" fill="#000000"/><circle cx="82.59" cy="309.91" r="1.17" fill="#000000"/><circle cx="82.59" cy="306.84" r="1.17" fill="#000000"/><circle cx="82.59" cy="303.77" r="1.17" fill="#000000"/><circle cx="82.59" cy="300.70" r="1.17" fill="#000000"/><circle cx="82.59" cy="297.63" r="1.17" fill="#000000"/><circle cx="82.59" cy="294.56" r="1.17" fill="#000000"/><circle cx="82.59" cy="291.49" r="1.17" fill="#000000"/><circle cx="82.59" cy="288.42" r="1.17" fill="#000000"/><path d="M86.16 362.10L89.46 360.42L89.46 363.78Z" fill="#ff00ff"/><path d="M86.16 359.03L89.46 357.35L89.46 360.71Z" fill="#ff00ff"/><path d="M86.16 355.96L89.46 354.28L89.46 357.64Z" fill="#ff00ff"/><path d="M89.88 352.89L86.58 351.21L86.58 354.57Z" fill="#ff9900"/><path d="M89.88 349.82L86.58 348.14L86.58 351.50Z" fill="#ff9900"/><path d="M88.02 344.89L89.94 348.25L86.10 348.25Z" fill="#0000ff"/><path d="M88.02 341.94L89.82 343.68L88.02 345.42L86.22 343.68Z" fill="#5fcc5f"/><path d="M88.02 338.87L89.82 340.61L88.02 342.35L86.22 340.61Z" fill="#5fcc5f"/><rect x="86.73" y="336.25" width="2.58" height="2.58" fill="#ff0000"/><circle cx="88.02" cy="334.47" r="1.17" fill="#000000"/><circle cx="88.02" cy="331.40" r="1.17" fill="#000000"/><circle cx="88.02" cy="328.33" r="1.17" fill="#000000"/><circle cx="88.02" cy="325.26" r="1.17" fill="#000000"/><circle cx="88.02" cy="322.19" r="1.17" fill="#000000"/><circle cx="88.02" cy="319.12" r="1.17" fill="#000000"/><circle cx="88.02" cy="316.05" r="1.17" fill="#000000"/><circle cx="88.02" cy="312.98" r="1.17" fill="#000000"/><circle cx="88.02" cy="309.91" r="1.17" fill="#000000"/><circle cx="88.02" cy="306.84" r="1.17" fill="#000000"/><circle cx="88.02" cy="303.77" r="1.17" fill="#000000"/><circle cx="88.02" cy="300.70" r="1.17" fill="#000000"/><circle cx="88.02" cy="297.63" r="1.17" fill="#000000"/><path d="M91.60 362.10L94.90 360.42L94.90 363.78Z" fill="#ff00ff"/><path d="M91.60 359.03L94.90 357.35L94.90 360.71Z" fill="#ff00ff"/><path d="M95.32 355.96L92.02 354.28L92.02 357.64Z" fill="#ff9900"/><path d="M93.46 351.03L95.38 354.39L91.54 354.39Z" fill="#0000ff"/><path d="M93.46 347.96L95.38 351.32L91.54 351.32Z" fill="#0000ff"/><path d="M93.46 345.01L95.26 346.75L93.46 348.49L91.66 346.75Z" fill="#5fcc5f"/><path d="M93.46 341.94L95.26 343.68L93.46 345.42L91.66 343.68Z" fill="#5fcc5f"/><rect x="92.17" y="339.32" width="2.58" height="2.58" fill="#ff0000"/><circle cx="93.46" cy="337.54" r="1.17" fill="#000000"/><circle cx="93.46" cy="334.47" r="1.17" fill="#000000"/><circle cx="93.46" cy="331.40" r="1.17" fill="#000000"/><circle cx="93.46" cy="328.33" r="1.17" fill="#000000"/><circle cx="93.46" cy="325.26" r="1.17" fill="#000000"/><circle cx="93.46" cy="322.19" r="1.17" fill="#000000"/><circle cx="93.46" cy="319.12" r="1.17" fill="#000000"/><circle cx="93.46" cy="316.05" r="1.17" fill="#000000"/><circle cx="93.46" cy="312.98" r="1.17" fill="#000000"/><circle cx="93.46" cy="309.91" r="1.17" fill="#000000"/><circle cx="93.46" cy="306.84" r="1.17" fill="#000000"/><path d="M97.03 362.10L100.33 360.42L100.33 363.78Z" fill="#ff00ff"/><path d="M97.03 359.03L100.33 357.35L100.33 360.71Z" fill="#ff00ff"/><path d="M100.75 355.96L97.45 354.28L97.45 357.64Z" fill="#ff9900"/><path d="M100.75 352.89L97.45 351.21L97.45 354.57Z" fill="#ff9900"/><path d="M98.89 347.96L100.81 351.32L96.97 351.32Z" fill="#0000ff"/><path d="M98.89 345.01L100.69 346.75L98.89 348.49L97.09 346.75Z" fill="#5fcc5f"/><path d="M98.89 341.94L100.69 343.68L98.89 345.42L97.09 343.68Z" fill="#5fcc5f"/><rect x="97.60" y="339.32" width="2.58" height="2.58" fill="#ff0000"/><circle cx="98.89" cy="337.54" r="1.17" fill="#000000"/><circle cx="98.89" cy="334.47" r="1.17" fill="#000000"/><circle cx="98.89" cy="331.40" r="1.17" fill="#000000"/><circle cx="98.89" cy="328.33" r="1.17" fill="#000000"/><circle cx="98.89" cy="325.26" r="1.17" fill="#000000"/><circle cx="98.89" cy="322.19" r="1.17" fill="#000000"/><circle cx="98.89" cy="319.12" r="1.17" fill="#000000"/><circle cx="98.89" cy="316.05" r="1.17" fill="#000000"/><circle cx="98.89" cy="312.98" r="1.17" fill="#000000"/><circle cx="98.89" cy="309.91" r="1.17" fill="#000000"/><circle cx="98.89" cy="306.84" r="1.17" fill="#000000"/><path d="M102.47 362.10L105.77 360.42L105.77 363.78Z" fill="#ff00ff"/><path d="M102.47 359.03L105.77 357.35L105.77 360.71Z" fill="#ff00ff"/><path d="M106.19 355.96L102.89 354.28L102.89 357.64Z" fill="#ff9900"/><path d="M104.33 351.03L106.25 354.39L102.41 354.39Z" fill="#0000ff"/><path d="M104.33 348.08L106.13 349.82L104.33 351.56L102.53 349.82Z" fill="#5fcc5f"/><path d="M104.33 345.01L106.13 346.75L104.33 348.49L102.53 346.75Z" fill="#5fcc5f"/><rect x="103.04" y="342.39" width="2.58" height="2.58" fill="#ff0000"/><circle cx="104.33" cy="340.61" r="1.17" fill="#000000"/><circle cx="104.33" cy="337.54" r="1.17" fill="#000000"/><circle cx="104.33" cy="334.47" r="1.17" fill="#000000"/><circle cx="104.33" cy="331.40" r="1.17" fill="#000000"/><circle cx="104.33" cy="328.33" r="1.17" fill="#000000"/><circle cx="104.33" cy="325.26" r="1.17" fill="#000000"/><circle cx="104.33" cy="322.19" r="1.17" fill="#000000"/><circle cx="104.33" cy="319.12" r="1.17" fill="#000000"/><path d="M107.90 362.10L111.20 360.42L111.20 363.78Z" fill="#ff00ff"/><path d="M111.62 359.03L108.32 357.35L108.32 360.71Z" fill="#ff9900"/><path d="M111.62 355.96L108.32 354.28L108.32 357.64Z" fill="#ff9900"/><path d="M109.76 351.03L111.68 354.39L107.84 354.39Z" fill="#0000ff"/><path d="M109.76 348.08L111.56 349.82L109.76 351.56L107.96 349.82Z" fill="#5fcc5f"/><path d="M109.76 345.01L111.56 346.75L109.76 348.49L107.96 346.75Z" fill="#5fcc5f"/><rect x="108.47" y="342.39" width="2.58" height="2.58" fill="#ff0000"/><circle cx="109.76" cy="340.61" r="1.17" fill="#000000"/><circle cx="109.76" cy="337.54" r="1.17" fill="#000000"/><circle cx="109.76" cy="334.47" r="1.17" fill="#000000"/><circle cx="109.76" cy="331.40" r="1.17" fill="#000000"/><circle cx="109.76" cy="328.33" r="1.17" fill="#000000"/><circle cx="109.76" cy="325.26" r="1.17" fill="#000000"/><circle cx="109.76" cy="322.19" r="1.17" fill="#000000"/><path d="M113.34 362.10L116.64 360.42L116.64 363.78Z" fill="#ff00ff"/><path d="M113.34 359.03L116.64 357.35L116.64 360.71Z" fill="#ff00ff"/><path d="M117.06 355.96L113.76 354.28L113.76 357.64Z" fill="#ff9900"/><path d="M115.20 351.03L117.12 354.39L113.28 354.39Z" fill="#0000ff"/><path d="M115.20 348.08L117.00 349.82L115.20 351.56L113.40 349.82Z" fill="#5fcc5f"/><path d="M115.20 345.01L117.00 346.75L115.20 348.49L113.40 346.75Z" fill="#5fcc5f"/><circle cx="115.20" cy="343.68" r="1.17" fill="#000000"/><circle cx="115.20" cy="340.61" r="1.17" fill="#000000"/><circle cx="115.20" cy="337.54" r="1.17" fill="#000000"/><circle cx="115.20" cy="334.47" r="1.17" fill="#000000"/><circle cx="115.20" cy="331.40" r="1.17" fill="#000000"/><circle cx="115.20" cy="328.33" r="1.17" fill="#000000"/><circle cx="115.20" cy="325.26" r="1.17" fill="#000000"/><path d="M118.77 362.10L122.07 360.42L122.07 363.78Z" fill="#ff00ff"/><path d="M118.77 359.03L122.07 357.35L122.07 360.71Z" fill="#ff00ff"/><path d="M122.49 355.96L119.19 354.28L119.19 357.64Z" fill="#ff9900"/><path d="M122.49 352.89L119.19 351.21L119.19 354.57Z" fill="#ff9900"/><path d="M120.63 348.08L122.43 349.82L120.63 351.56L118.83 349.82Z" fill="#5fcc5f"/><path d="M120.63 345.01L122.43 346.75L120.63 348.49L118.83 346.75Z" fill="#5fcc5f"/><circle cx="120.63" cy="343.68" r="1.17" fill="#000000"/><circle cx="120.63" cy="340.61" r="1.17" fill="#000000"/><circle cx="120.63" cy="337.54" r="1.17" fill="#000000"/><circle cx="120.63" cy="334.47" r="1.17" fill="#000000"/><circle cx="120.63" cy="331.40" r="1.17" fill="#000000"/><path d="M124.21 362.10L127.51 360.42L127.51 363.78Z" fill="#ff00ff"/><path d="M124.21 359.03L127.51 357.35L127.51 360.71Z" fill="#ff00ff"/><path d="M127.93 355.96L124.63 354.28L124.63 357.64Z" fill="#ff9900"/><path d="M126.07 351.03L127.99 354.39L124.15 354.39Z" fill="#0000ff"/><path d="M126.07 348.08L127.87 349.82L126.07 351.56L124.27 349.82Z" fill="#5fcc5f"/><circle cx="126.07" cy="346.75" r="1.17" fill="#000000"/><circle cx="126.07" cy="343.68" r="1.17" fill="#000000"/><circle cx="126.07" cy="340.61" r="1.17" fill="#000000"/><circle cx="126.07" cy="337.54" r="1.17" fill="#000000"/><circle cx="126.07" cy="334.47" r="1.17" fill="#000000"/><path d="M129.64 362.10L132.94 360.42L132.94 363.78Z" fill="#ff00ff"/><path d="M133.37 359.03L130.06 357.35L130.06 360.71Z" fill="#ff9900"/><path d="M131.50 354.10L133.42 357.46L129.59 357.46Z" fill="#0000ff"/><path d="M131.50 351.15L133.31 352.89L131.50 354.63L129.70 352.89Z" fill="#5fcc5f"/><circle cx="131.50" cy="349.82" r="1.17" fill="#000000"/><circle cx="131.50" cy="346.75" r="1.17" fill="#000000"/><circle cx="131.50" cy="343.68" r="1.17" fill="#000000"/><circle cx="131.50" cy="340.61" r="1.17" fill="#000000"/><path d="M135.08 362.10L138.38 360.42L138.38 363.78Z" fill="#ff00ff"/><path d="M138.80 359.03L135.50 357.35L135.50 360.71Z" fill="#ff9900"/><path d="M136.94 354.22L138.74 355.96L136.94 357.70L135.14 355.96Z" fill="#5fcc5f"/><circle cx="136.94" cy="352.89" r="1.17" fill="#000000"/><circle cx="136.94" cy="349.82" r="1.17" fill="#000000"/><circle cx="136.94" cy="346.75" r="1.17" fill="#000000"/><path d="M140.51 362.10L143.81 360.42L143.81 363.78Z" fill="#ff00ff"/><path d="M144.24 359.03L140.94 357.35L140.94 360.71Z" fill="#ff9900"/><path d="M142.38 354.22L144.18 355.96L142.38 357.70L140.57 355.96Z" fill="#5fcc5f"/><path d="M142.38 351.15L144.18 352.89L142.38 354.63L140.57 352.89Z" fill="#5fcc5f"/><circle cx="142.38" cy="349.82" r="1.17" fill="#000000"/><circle cx="142.38" cy="346.75" r="1.17" fill="#000000"/><circle cx="142.38" cy="343.68" r="1.17" fill="#000000"/><path d="M145.95 362.10L149.25 360.42L149.25 363.78Z" fill="#ff00ff"/><path d="M149.67 359.03L146.37 357.35L146.37 360.71Z" fill="#ff9900"/><path d="M147.81 354.22L149.61 355.96L147.81 357.70L146.01 355.96Z" fill="#5fcc5f"/><circle cx="147.81" cy="352.89" r="1.17" fill="#000000"/><circle cx="147.81" cy="349.82" r="1.17" fill="#000000"/><circle cx="147.81" cy="346.75" r="1.17" fill="#000000"/><path d="M151.38 362.10L154.68 360.42L154.68 363.78Z" fill="#ff00ff"/><path d="M155.10 359.03L151.80 357.35L151.80 360.71Z" fill="#ff9900"/><path d="M153.24 354.22L155.04 355.96L153.24 357.70L151.44 355.96Z" fill="#5fcc5f"/><circle cx="153.24" cy="352.89" r="1.17" fill="#000000"/><circle cx="153.24" cy="349.82" r="1.17" fill="#000000"/><path d="M156.82 362.10L160.12 360.42L160.12 363.78Z" fill="#ff00ff"/><path d="M158.68 357.17L160.60 360.53L156.76 360.53Z" fill="#0000ff"/><path d="M158.68 354.22L160.48 355.96L158.68 357.70L156.88 355.96Z" fill="#5fcc5f"/><path d="M158.68 351.15L160.48 352.89L158.68 354.63L156.88 352.89Z" fill="#5fcc5f"/><circle cx="158.68" cy="349.82" r="1.17" fill="#000000"/><circle cx="158.68" cy="346.75" r="1.17" fill="#000000"/><path d="M162.25 362.10L165.55 360.42L165.55 363.78Z" fill="#ff00ff"/><path d="M165.97 359.03L162.67 357.35L162.67 360.71Z" fill="#ff9900"/><path d="M164.11 354.22L165.91 355.96L164.11 357.70L162.31 355.96Z" fill="#5fcc5f"/><circle cx="164.11" cy="352.89" r="1.17" fill="#000000"/><path d="M167.69 362.10L170.99 360.42L170.99 363.78Z" fill="#ff00ff"/><path d="M169.55 357.29L171.35 359.03L169.55 360.77L167.75 359.03Z" fill="#5fcc5f"/><circle cx="169.55" cy="355.96" r="1.17" fill="#000000"/><path d="M173.12 362.10L176.42 360.42L176.42 363.78Z" fill="#ff00ff"/><path d="M174.98 357.29L176.78 359.03L174.98 360.77L173.18 359.03Z" fill="#5fcc5f"/><circle cx="174.98" cy="355.96" r="1.17" fill="#000000"/><path d="M178.56 362.10L181.86 360.42L181.86 363.78Z" fill="#ff00ff"/><path d="M180.42 357.29L182.22 359.03L180.42 360.77L178.62 359.03Z" fill="#5fcc5f"/><circle cx="180.42" cy="355.96" r="1.17" fill="#000000"/><path d="M185.85 360.36L187.66 362.10L185.85 363.84L184.05 362.10Z" fill="#5fcc5f"/><circle cx="185.85" cy="359.03" r="1.17" fill="#000000"/><path d="M191.29 360.36L193.09 362.10L191.29 363.84L189.49 362.10Z" fill="#5fcc5f"/><circle cx="191.29" cy="359.03" r="1.17" fill="#000000"/><path d="M198.59 362.10L195.28 360.42L195.28 363.78Z" fill="#ff9900"/><path d="M196.72 357.29L198.53 359.03L196.72 360.77L194.92 359.03Z" fill="#5fcc5f"/><circle cx="196.72" cy="355.96" r="1.17" fill="#000000"/><path d="M200.30 362.10L203.60 360.42L203.60 363.78Z" fill="#ff00ff"/><path d="M202.16 357.29L203.96 359.03L202.16 360.77L200.36 359.03Z" fill="#5fcc5f"/><circle cx="202.16" cy="355.96" r="1.17" fill="#000000"/><path d="M205.73 362.10L209.03 360.42L209.03 363.78Z" fill="#ff00ff"/><path d="M207.59 357.29L209.40 359.03L207.59 360.77L205.79 359.03Z" fill="#5fcc5f"/><path d="M213.03 360.36L214.83 362.10L213.03 363.84L211.23 362.10Z" fill="#5fcc5f"/><circle cx="218.46" cy="362.10" r="1.17" fill="#000000"/><defs>
<pattern id="pz" width="3" height="2.4" patternUnits="userSpaceOnUse"><rect width="3" height="2.4" fill="#fff"/><path d="M0 2L1.5 0.4L3 2" stroke="#777" stroke-width="0.6" fill="none"/></pattern>
<pattern id="pb" width="2" height="2" patternUnits="userSpaceOnUse"><rect width="2" height="2" fill="#dedeff"/><path d="M0 2L2 0" stroke="#4d4dff" stroke-width="0.55"/></pattern>
<pattern id="pr" width="3.2" height="3.2" patternUnits="userSpaceOnUse"><rect width="3.2" height="3.2" fill="#fff"/><path d="M0 0L3.2 3.2M3.2 0L0 3.2" stroke="#ff4040" stroke-width="0.6"/></pattern>
<pattern id="pg" width="2" height="2" patternUnits="userSpaceOnUse"><rect width="2" height="2" fill="#8fbf8f"/><path d="M0 2L2 0" stroke="#2e7d32" stroke-width="0.8"/></pattern>
<pattern id="pc" width="3" height="3" patternUnits="userSpaceOnUse"><rect width="3" height="3" fill="#fff"/><rect width="1.5" height="1.5" fill="#1f9a1f"/><rect x="1.5" y="1.5" width="1.5" height="1.5" fill="#1f9a1f"/></pattern>
<linearGradient id="pk" x1="0" x2="1"><stop offset="0" stop-color="#ff44ff"/><stop offset="0.5" stop-color="#f6b0f6"/><stop offset="1" stop-color="#ff66ff"/></linearGradient>
</defs><path d="M297.5 242.5V374.0H606" fill="none" stroke="#bdbdbd" stroke-width="1"/><text x="290.5" y="377.2" font-size="9.2" text-anchor="end" font-weight="normal" fill="#262626" >0</text><text x="290.5" y="360.8" font-size="9.2" text-anchor="end" font-weight="normal" fill="#262626" >10</text><text x="290.5" y="344.5" font-size="9.2" text-anchor="end" font-weight="normal" fill="#262626" >20</text><text x="290.5" y="328.1" font-size="9.2" text-anchor="end" font-weight="normal" fill="#262626" >30</text><text x="290.5" y="311.8" font-size="9.2" text-anchor="end" font-weight="normal" fill="#262626" >40</text><text x="290.5" y="295.4" font-size="9.2" text-anchor="end" font-weight="normal" fill="#262626" >50</text><text x="290.5" y="279.1" font-size="9.2" text-anchor="end" font-weight="normal" fill="#262626" >60</text><text x="290.5" y="262.8" font-size="9.2" text-anchor="end" font-weight="normal" fill="#262626" >70</text><text x="290.5" y="246.4" font-size="9.2" text-anchor="end" font-weight="normal" fill="#262626" >80</text><rect x="303.40" y="362.56" width="7.30" height="11.45" fill="#000"/><rect x="311.10" y="341.37" width="6.50" height="32.63" fill="url(#pz)" stroke="#222" stroke-width="0.8"/><rect x="318.40" y="284.47" width="6.50" height="89.52" fill="url(#pb)" stroke="#2020ff" stroke-width="0.8"/><rect x="325.70" y="327.48" width="6.50" height="46.52" fill="url(#pr)" stroke="#ff2020" stroke-width="0.8"/><rect x="333.00" y="343.33" width="6.50" height="30.67" fill="url(#pg)" stroke="#ffb300" stroke-width="0.8"/><rect x="340.30" y="343.33" width="6.50" height="30.67" fill="url(#pk)" stroke="#ff00ff" stroke-width="0.8"/><rect x="347.20" y="370.24" width="7.30" height="3.76" fill="#0000ff"/><rect x="354.90" y="366.55" width="6.50" height="7.45" fill="url(#pc)" stroke="#1f9a1f" stroke-width="0.8"/><rect x="361.80" y="368.77" width="7.30" height="5.23" fill="#ff9900"/><rect x="380.35" y="317.43" width="7.30" height="56.57" fill="#000"/><rect x="388.05" y="309.00" width="6.50" height="65.00" fill="url(#pz)" stroke="#222" stroke-width="0.8"/><rect x="395.35" y="324.37" width="6.50" height="49.63" fill="url(#pb)" stroke="#2020ff" stroke-width="0.8"/><rect x="402.65" y="350.20" width="6.50" height="23.80" fill="url(#pr)" stroke="#ff2020" stroke-width="0.8"/><rect x="409.95" y="357.23" width="6.50" height="16.77" fill="url(#pg)" stroke="#ffb300" stroke-width="0.8"/><rect x="417.25" y="341.21" width="6.50" height="32.79" fill="url(#pk)" stroke="#ff00ff" stroke-width="0.8"/><rect x="424.15" y="316.61" width="7.30" height="57.39" fill="#0000ff"/><rect x="431.85" y="340.23" width="6.50" height="33.77" fill="url(#pc)" stroke="#1f9a1f" stroke-width="0.8"/><rect x="438.75" y="355.85" width="7.30" height="18.15" fill="#ff9900"/><rect x="457.30" y="297.32" width="7.30" height="76.68" fill="#000"/><rect x="465.00" y="319.79" width="6.50" height="54.21" fill="url(#pz)" stroke="#222" stroke-width="0.8"/><rect x="472.30" y="352.00" width="6.50" height="22.00" fill="url(#pb)" stroke="#2020ff" stroke-width="0.8"/><rect x="479.60" y="296.41" width="6.50" height="77.59" fill="url(#pr)" stroke="#ff2020" stroke-width="0.8"/><rect x="486.90" y="336.96" width="6.50" height="37.04" fill="url(#pg)" stroke="#ffb300" stroke-width="0.8"/><rect x="494.20" y="332.71" width="6.50" height="41.29" fill="url(#pk)" stroke="#ff00ff" stroke-width="0.8"/><rect x="501.10" y="288.65" width="7.30" height="85.35" fill="#0000ff"/><rect x="508.80" y="289.71" width="6.50" height="84.29" fill="url(#pc)" stroke="#1f9a1f" stroke-width="0.8"/><rect x="515.70" y="262.82" width="7.30" height="111.18" fill="#ff9900"/><rect x="534.25" y="355.20" width="7.30" height="18.80" fill="#000"/><rect x="541.95" y="363.61" width="6.50" height="10.39" fill="url(#pz)" stroke="#222" stroke-width="0.8"/><rect x="549.25" y="371.13" width="6.50" height="2.87" fill="url(#pb)" stroke="#2020ff" stroke-width="0.8"/><rect x="556.55" y="358.21" width="6.50" height="15.79" fill="url(#pr)" stroke="#ff2020" stroke-width="0.8"/><rect x="563.85" y="296.74" width="6.50" height="77.26" fill="url(#pg)" stroke="#ffb300" stroke-width="0.8"/><rect x="571.15" y="316.19" width="6.50" height="57.81" fill="url(#pk)" stroke="#ff00ff" stroke-width="0.8"/><rect x="578.05" y="356.67" width="7.30" height="17.33" fill="#0000ff"/><rect x="585.75" y="335.98" width="6.50" height="38.02" fill="url(#pc)" stroke="#1f9a1f" stroke-width="0.8"/><rect x="592.65" y="344.73" width="7.30" height="29.27" fill="#ff9900"/><text x="336.5" y="387.2" font-size="8.5" text-anchor="middle" font-weight="normal" fill="#262626" >&lt; 0.250</text><text x="413.5" y="387.2" font-size="8.5" text-anchor="middle" font-weight="normal" fill="#262626" >0.251-0.500</text><text x="490.4" y="387.2" font-size="8.5" text-anchor="middle" font-weight="normal" fill="#262626" >0.501-1.000</text><text x="567.3" y="387.2" font-size="8.5" text-anchor="middle" font-weight="normal" fill="#262626" >&gt; 1.000</text><text x="452.4" y="400" font-size="9.4" text-anchor="middle" font-weight="bold" fill="#595959" >Relative kinship</text><text transform="translate(275.4 310.5) rotate(-90)" font-size="9.3" font-weight="bold" text-anchor="middle" fill="#000">Pairs of cultivars (%)</text><rect x="581.2" y="242.10" width="4.2" height="4.2" fill="#000"/><text x="586.7" y="247.30" font-size="8.0" text-anchor="start" font-weight="normal" fill="#000" >All (196)</text><rect x="581.5" y="250.45" width="3.6" height="3.6" fill="url(#pz)" stroke="#222" stroke-width="0.7"/><text x="586.7" y="255.35" font-size="8.0" text-anchor="start" font-weight="normal" fill="#000" >CPSW (6)</text><rect x="581.5" y="258.50" width="3.6" height="3.6" fill="url(#pb)" stroke="#2020ff" stroke-width="0.7"/><text x="586.7" y="263.40" font-size="8.0" text-anchor="start" font-weight="normal" fill="#000" >CWSP (12)</text><rect x="581.5" y="266.55" width="3.6" height="3.6" fill="url(#pr)" stroke="#ff2020" stroke-width="0.7"/><text x="586.7" y="271.45" font-size="8.0" text-anchor="start" font-weight="normal" fill="#000" >CWHWS (7)</text><rect x="581.5" y="274.60" width="3.6" height="3.6" fill="url(#pg)" stroke="#ffb300" stroke-width="0.7"/><text x="586.7" y="279.50" font-size="8.0" text-anchor="start" font-weight="normal" fill="#000" >CWES (13)</text><rect x="581.5" y="282.65" width="3.6" height="3.6" fill="url(#pk)" stroke="#ff00ff" stroke-width="0.7"/><text x="586.7" y="287.55" font-size="8.0" text-anchor="start" font-weight="normal" fill="#000" >CWSWS (14)</text><rect x="581.2" y="290.40" width="4.2" height="4.2" fill="#0000ff"/><text x="586.7" y="295.60" font-size="8.0" text-anchor="start" font-weight="normal" fill="#000" >CPSR (19)</text><rect x="581.5" y="298.75" width="3.6" height="3.6" fill="url(#pc)" stroke="#1f9a1f" stroke-width="0.7"/><text x="586.7" y="303.65" font-size="8.0" text-anchor="start" font-weight="normal" fill="#000" >CNHR (36)</text><rect x="581.2" y="306.50" width="4.2" height="4.2" fill="#ff9900"/><text x="586.7" y="311.70" font-size="8.0" text-anchor="start" font-weight="normal" fill="#000" >CWRS (89)</text></svg>
</body></html>
